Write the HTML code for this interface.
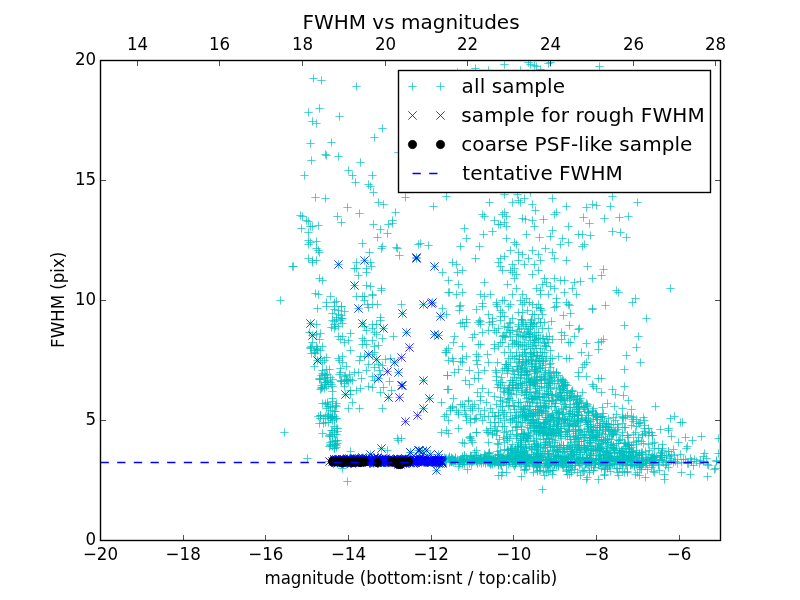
<!DOCTYPE html>
<html><head><meta charset="utf-8"><style>
html,body{margin:0;padding:0;background:#fff;}
svg{display:block;}
text{font-family:"DejaVu Sans","Liberation Sans",sans-serif;}
</style></head><body>
<svg width="800" height="600" viewBox="0 0 800 600">
<defs><clipPath id="ax"><rect x="100" y="60" width="620" height="480"/></clipPath></defs>
<rect width="800" height="600" fill="#fff"/>
<g clip-path="url(#ax)">
<path d="M309.33 78.5h8.34M313.5 74.33v8.34M317.33 80.5h8.34M321.5 76.33v8.34M352.33 86.5h8.34M356.5 82.33v8.34M304.33 112.5h8.34M308.5 108.33v8.34M315.33 108.5h8.34M319.5 104.33v8.34M335.33 116.5h8.34M339.5 112.33v8.34M308.33 121.5h8.34M312.5 117.33v8.34M312.33 123.5h8.34M316.5 119.33v8.34M378.33 128.5h8.34M382.5 124.33v8.34M370.33 137.5h8.34M374.5 133.33v8.34M306.33 143.5h8.34M310.5 139.33v8.34M327.33 142.5h8.34M331.5 138.33v8.34M321.33 154.5h8.34M325.5 150.33v8.34M322.33 155.5h8.34M326.5 151.33v8.34M334.33 156.5h8.34M338.5 152.33v8.34M307.33 160.5h8.34M311.5 156.33v8.34M356.33 162.5h8.34M360.5 158.33v8.34M300.33 175.5h8.34M304.5 171.33v8.34M344.33 170.5h8.34M348.5 166.33v8.34M348.33 175.5h8.34M352.5 171.33v8.34M368.33 175.5h8.34M372.5 171.33v8.34M394.33 152.5h8.34M398.5 148.33v8.34M442.33 196.5h8.34M446.5 192.33v8.34M429.33 206.5h8.34M433.5 202.33v8.34M276.33 300.5h8.34M280.5 296.33v8.34M288.33 266.5h8.34M292.5 262.33v8.34M280.33 432.5h8.34M284.5 428.33v8.34M351.33 182.5h8.34M355.5 178.33v8.34M364.33 184.5h8.34M368.5 180.33v8.34M366.33 186.5h8.34M370.5 182.33v8.34M369.33 192.5h8.34M373.5 188.33v8.34M311.33 197.5h8.34M315.5 193.33v8.34M321.33 198.5h8.34M325.5 194.33v8.34M401.33 197.5h8.34M405.5 193.33v8.34M374.33 202.5h8.34M378.5 198.33v8.34M379.33 204.5h8.34M383.5 200.33v8.34M343.33 207.5h8.34M347.5 203.33v8.34M355.33 213.5h8.34M359.5 209.33v8.34M391.33 212.5h8.34M395.5 208.33v8.34M296.33 215.5h8.34M300.5 211.33v8.34M298.33 216.5h8.34M302.5 212.33v8.34M333.33 216.5h8.34M337.5 212.33v8.34M337.33 222.5h8.34M341.5 218.33v8.34M302.33 220.5h8.34M306.5 216.33v8.34M304.33 221.5h8.34M308.5 217.33v8.34M308.33 226.5h8.34M312.5 222.33v8.34M314.33 225.5h8.34M318.5 221.33v8.34M306.33 226.5h8.34M310.5 222.33v8.34M297.33 228.5h8.34M301.5 224.33v8.34M369.33 224.5h8.34M373.5 220.33v8.34M388.33 220.5h8.34M392.5 216.33v8.34M388.33 223.5h8.34M392.5 219.33v8.34M384.33 224.5h8.34M388.5 220.33v8.34M376.33 229.5h8.34M380.5 225.33v8.34M383.33 233.5h8.34M387.5 229.33v8.34M304.33 232.5h8.34M308.5 228.33v8.34M373.33 237.5h8.34M377.5 233.33v8.34M304.33 240.5h8.34M308.5 236.33v8.34M306.33 242.5h8.34M310.5 238.33v8.34M304.33 244.5h8.34M308.5 240.33v8.34M312.33 241.5h8.34M316.5 237.33v8.34M358.33 243.5h8.34M362.5 239.33v8.34M312.33 248.5h8.34M316.5 244.33v8.34M314.33 250.5h8.34M318.5 246.33v8.34M315.33 252.5h8.34M319.5 248.33v8.34M377.33 248.5h8.34M381.5 244.33v8.34M378.33 246.5h8.34M382.5 242.33v8.34M392.33 247.5h8.34M396.5 243.33v8.34M393.33 248.5h8.34M397.5 244.33v8.34M414.33 244.5h8.34M418.5 240.33v8.34M365.33 252.5h8.34M369.5 248.33v8.34M395.33 255.5h8.34M399.5 251.33v8.34M304.33 258.5h8.34M308.5 254.33v8.34M308.33 260.5h8.34M312.5 256.33v8.34M308.33 262.5h8.34M312.5 258.33v8.34M312.33 260.5h8.34M316.5 256.33v8.34M289.33 266.5h8.34M293.5 262.33v8.34M366.33 262.5h8.34M370.5 258.33v8.34M367.33 266.5h8.34M371.5 262.33v8.34M352.33 262.5h8.34M356.5 258.33v8.34M350.33 268.5h8.34M354.5 264.33v8.34M352.33 268.5h8.34M356.5 264.33v8.34M354.33 275.5h8.34M358.5 271.33v8.34M362.33 268.5h8.34M366.5 264.33v8.34M362.33 272.5h8.34M366.5 268.33v8.34M315.33 278.5h8.34M319.5 274.33v8.34M318.33 280.5h8.34M322.5 276.33v8.34M362.33 285.5h8.34M366.5 281.33v8.34M366.33 286.5h8.34M370.5 282.33v8.34M377.33 288.5h8.34M381.5 284.33v8.34M311.33 293.5h8.34M315.5 289.33v8.34M314.33 294.5h8.34M318.5 290.33v8.34M326.33 296.5h8.34M330.5 292.33v8.34M352.33 296.5h8.34M356.5 292.33v8.34M358.33 296.5h8.34M362.5 292.33v8.34M360.33 296.5h8.34M364.5 292.33v8.34M368.33 294.5h8.34M372.5 290.33v8.34M334.33 264.5h8.34M338.5 260.33v8.34M360.33 260.5h8.34M364.5 256.33v8.34M412.33 257.5h8.34M416.5 253.33v8.34M350.33 285.5h8.34M354.5 281.33v8.34M313.33 308.5h8.34M317.5 304.33v8.34M322.33 302.5h8.34M326.5 298.33v8.34M322.33 306.5h8.34M326.5 302.33v8.34M330.33 302.5h8.34M334.5 298.33v8.34M330.33 306.5h8.34M334.5 302.33v8.34M332.33 301.5h8.34M336.5 297.33v8.34M328.33 313.5h8.34M332.5 309.33v8.34M334.33 310.5h8.34M338.5 306.33v8.34M340.33 311.5h8.34M344.5 307.33v8.34M334.33 314.5h8.34M338.5 310.33v8.34M330.33 321.5h8.34M334.5 317.33v8.34M330.33 324.5h8.34M334.5 320.33v8.34M336.33 320.5h8.34M340.5 316.33v8.34M338.33 323.5h8.34M342.5 319.33v8.34M334.33 326.5h8.34M338.5 322.33v8.34M330.33 328.5h8.34M334.5 324.33v8.34M332.33 319.5h8.34M336.5 315.33v8.34M312.33 324.5h8.34M316.5 320.33v8.34M305.33 332.5h8.34M309.5 328.33v8.34M312.33 334.5h8.34M316.5 330.33v8.34M346.33 333.5h8.34M350.5 329.33v8.34M334.33 336.5h8.34M338.5 332.33v8.34M338.33 336.5h8.34M342.5 332.33v8.34M336.33 339.5h8.34M340.5 335.33v8.34M340.33 342.5h8.34M344.5 338.33v8.34M344.33 340.5h8.34M348.5 336.33v8.34M346.33 350.5h8.34M350.5 346.33v8.34M315.33 339.5h8.34M319.5 335.33v8.34M318.33 346.5h8.34M322.5 342.33v8.34M308.33 342.5h8.34M312.5 338.33v8.34M312.33 346.5h8.34M316.5 342.33v8.34M316.33 350.5h8.34M320.5 346.33v8.34M312.33 349.5h8.34M316.5 345.33v8.34M310.33 352.5h8.34M314.5 348.33v8.34M334.33 358.5h8.34M338.5 354.33v8.34M338.33 356.5h8.34M342.5 352.33v8.34M322.33 357.5h8.34M326.5 353.33v8.34M316.33 358.5h8.34M320.5 354.33v8.34M358.33 338.5h8.34M362.5 334.33v8.34M360.33 340.5h8.34M364.5 336.33v8.34M358.33 344.5h8.34M362.5 340.33v8.34M362.33 344.5h8.34M366.5 340.33v8.34M362.33 330.5h8.34M366.5 326.33v8.34M360.33 326.5h8.34M364.5 322.33v8.34M356.33 356.5h8.34M360.5 352.33v8.34M360.33 356.5h8.34M364.5 352.33v8.34M360.33 300.5h8.34M364.5 296.33v8.34M363.33 304.5h8.34M367.5 300.33v8.34M364.33 307.5h8.34M368.5 303.33v8.34M354.33 308.5h8.34M358.5 304.33v8.34M306.33 323.5h8.34M310.5 319.33v8.34M308.33 335.5h8.34M312.5 331.33v8.34M358.33 323.5h8.34M362.5 319.33v8.34M313.33 360.5h8.34M317.5 356.33v8.34M364.33 354.5h8.34M368.5 350.33v8.34M377.33 290.5h8.34M381.5 286.33v8.34M368.33 295.5h8.34M372.5 291.33v8.34M373.33 304.5h8.34M377.5 300.33v8.34M368.33 304.5h8.34M372.5 300.33v8.34M397.33 304.5h8.34M401.5 300.33v8.34M438.33 308.5h8.34M442.5 304.33v8.34M442.33 314.5h8.34M446.5 310.33v8.34M444.33 292.5h8.34M448.5 288.33v8.34M376.33 317.5h8.34M380.5 313.33v8.34M376.33 320.5h8.34M380.5 316.33v8.34M389.33 336.5h8.34M393.5 332.33v8.34M368.33 324.5h8.34M372.5 320.33v8.34M372.33 324.5h8.34M376.5 320.33v8.34M368.33 328.5h8.34M372.5 324.33v8.34M370.33 332.5h8.34M374.5 328.33v8.34M372.33 334.5h8.34M376.5 330.33v8.34M378.33 338.5h8.34M382.5 334.33v8.34M368.33 340.5h8.34M372.5 336.33v8.34M374.33 345.5h8.34M378.5 341.33v8.34M370.33 346.5h8.34M374.5 342.33v8.34M444.33 348.5h8.34M448.5 344.33v8.34M398.33 313.5h8.34M402.5 309.33v8.34M419.33 304.5h8.34M423.5 300.33v8.34M427.33 303.5h8.34M431.5 299.33v8.34M428.33 302.5h8.34M432.5 298.33v8.34M436.33 316.5h8.34M440.5 312.33v8.34M379.33 328.5h8.34M383.5 324.33v8.34M402.33 332.5h8.34M406.5 328.33v8.34M430.33 334.5h8.34M434.5 330.33v8.34M434.33 335.5h8.34M438.5 331.33v8.34M405.33 347.5h8.34M409.5 343.33v8.34M310.33 366.5h8.34M314.5 362.33v8.34M318.33 362.5h8.34M322.5 358.33v8.34M320.33 360.5h8.34M324.5 356.33v8.34M322.33 369.5h8.34M326.5 365.33v8.34M325.33 369.5h8.34M329.5 365.33v8.34M318.33 370.5h8.34M322.5 366.33v8.34M317.33 375.5h8.34M321.5 371.33v8.34M320.33 374.5h8.34M324.5 370.33v8.34M320.33 378.5h8.34M324.5 374.33v8.34M316.33 379.5h8.34M320.5 375.33v8.34M323.33 380.5h8.34M327.5 376.33v8.34M321.33 382.5h8.34M325.5 378.33v8.34M324.33 384.5h8.34M328.5 380.33v8.34M320.33 384.5h8.34M324.5 380.33v8.34M322.33 386.5h8.34M326.5 382.33v8.34M317.33 388.5h8.34M321.5 384.33v8.34M320.33 388.5h8.34M324.5 384.33v8.34M328.33 391.5h8.34M332.5 387.33v8.34M328.33 398.5h8.34M332.5 394.33v8.34M318.33 403.5h8.34M322.5 399.33v8.34M323.33 402.5h8.34M327.5 398.33v8.34M324.33 406.5h8.34M328.5 402.33v8.34M326.33 406.5h8.34M330.5 402.33v8.34M322.33 408.5h8.34M326.5 404.33v8.34M326.33 410.5h8.34M330.5 406.33v8.34M324.33 414.5h8.34M328.5 410.33v8.34M328.33 416.5h8.34M332.5 412.33v8.34M330.33 416.5h8.34M334.5 412.33v8.34M332.33 418.5h8.34M336.5 414.33v8.34M326.33 418.5h8.34M330.5 414.33v8.34M335.33 360.5h8.34M339.5 356.33v8.34M338.33 362.5h8.34M342.5 358.33v8.34M342.33 366.5h8.34M346.5 362.33v8.34M336.33 368.5h8.34M340.5 364.33v8.34M336.33 372.5h8.34M340.5 368.33v8.34M340.33 376.5h8.34M344.5 372.33v8.34M336.33 380.5h8.34M340.5 376.33v8.34M342.33 379.5h8.34M346.5 375.33v8.34M344.33 381.5h8.34M348.5 377.33v8.34M346.33 379.5h8.34M350.5 375.33v8.34M340.33 383.5h8.34M344.5 379.33v8.34M340.33 386.5h8.34M344.5 382.33v8.34M348.33 380.5h8.34M352.5 376.33v8.34M350.33 372.5h8.34M354.5 368.33v8.34M354.33 372.5h8.34M358.5 368.33v8.34M357.33 378.5h8.34M361.5 374.33v8.34M356.33 388.5h8.34M360.5 384.33v8.34M352.33 390.5h8.34M356.5 386.33v8.34M346.33 394.5h8.34M350.5 390.33v8.34M348.33 402.5h8.34M352.5 398.33v8.34M344.33 408.5h8.34M348.5 404.33v8.34M355.33 408.5h8.34M359.5 404.33v8.34M362.33 370.5h8.34M366.5 366.33v8.34M364.33 364.5h8.34M368.5 360.33v8.34M364.33 386.5h8.34M368.5 382.33v8.34M355.33 360.5h8.34M359.5 356.33v8.34M341.33 394.5h8.34M345.5 390.33v8.34M372.33 359.5h8.34M376.5 355.33v8.34M390.33 362.5h8.34M394.5 358.33v8.34M397.33 357.5h8.34M401.5 353.33v8.34M383.33 371.5h8.34M387.5 367.33v8.34M394.33 372.5h8.34M398.5 368.33v8.34M374.33 378.5h8.34M378.5 374.33v8.34M397.33 385.5h8.34M401.5 381.33v8.34M398.33 385.5h8.34M402.5 381.33v8.34M419.33 380.5h8.34M423.5 376.33v8.34M384.33 397.5h8.34M388.5 393.33v8.34M395.33 397.5h8.34M399.5 393.33v8.34M425.33 398.5h8.34M429.5 394.33v8.34M419.33 408.5h8.34M423.5 404.33v8.34M381.33 359.5h8.34M385.5 355.33v8.34M386.33 358.5h8.34M390.5 354.33v8.34M378.33 365.5h8.34M382.5 361.33v8.34M374.33 364.5h8.34M378.5 360.33v8.34M370.33 367.5h8.34M374.5 363.33v8.34M375.33 370.5h8.34M379.5 366.33v8.34M376.33 374.5h8.34M380.5 370.33v8.34M368.33 376.5h8.34M372.5 372.33v8.34M370.33 380.5h8.34M374.5 376.33v8.34M385.33 381.5h8.34M389.5 377.33v8.34M379.33 387.5h8.34M383.5 383.33v8.34M368.33 387.5h8.34M372.5 383.33v8.34M387.33 390.5h8.34M391.5 386.33v8.34M376.33 392.5h8.34M380.5 388.33v8.34M378.33 408.5h8.34M382.5 404.33v8.34M437.33 402.5h8.34M441.5 398.33v8.34M443.33 375.5h8.34M447.5 371.33v8.34M443.33 389.5h8.34M447.5 385.33v8.34M442.33 352.5h8.34M446.5 348.33v8.34M444.33 360.5h8.34M448.5 356.33v8.34M370.33 352.5h8.34M374.5 348.33v8.34M368.33 354.5h8.34M372.5 350.33v8.34M500.33 194.5h8.34M504.5 190.33v8.34M513.33 194.5h8.34M517.5 190.33v8.34M520.33 198.5h8.34M524.5 194.33v8.34M526.33 192.5h8.34M530.5 188.33v8.34M514.33 200.5h8.34M518.5 196.33v8.34M516.33 202.5h8.34M520.5 198.33v8.34M508.33 202.5h8.34M512.5 198.33v8.34M485.33 202.5h8.34M489.5 198.33v8.34M548.33 198.5h8.34M552.5 194.33v8.34M528.33 204.5h8.34M532.5 200.33v8.34M531.33 210.5h8.34M535.5 206.33v8.34M562.33 206.5h8.34M566.5 202.33v8.34M478.33 214.5h8.34M482.5 210.33v8.34M480.33 216.5h8.34M484.5 212.33v8.34M500.33 212.5h8.34M504.5 208.33v8.34M502.33 216.5h8.34M506.5 212.33v8.34M498.33 214.5h8.34M502.5 210.33v8.34M518.33 218.5h8.34M522.5 214.33v8.34M521.33 219.5h8.34M525.5 215.33v8.34M539.33 219.5h8.34M543.5 215.33v8.34M550.33 214.5h8.34M554.5 210.33v8.34M552.33 212.5h8.34M556.5 208.33v8.34M490.33 220.5h8.34M494.5 216.33v8.34M494.33 224.5h8.34M498.5 220.33v8.34M500.33 222.5h8.34M504.5 218.33v8.34M502.33 226.5h8.34M506.5 222.33v8.34M496.33 224.5h8.34M500.5 220.33v8.34M528.33 220.5h8.34M532.5 216.33v8.34M530.33 226.5h8.34M534.5 222.33v8.34M564.33 226.5h8.34M568.5 222.33v8.34M460.33 228.5h8.34M464.5 224.33v8.34M479.33 234.5h8.34M483.5 230.33v8.34M488.33 231.5h8.34M492.5 227.33v8.34M522.33 234.5h8.34M526.5 230.33v8.34M548.33 230.5h8.34M552.5 226.33v8.34M546.33 236.5h8.34M550.5 232.33v8.34M502.33 238.5h8.34M506.5 234.33v8.34M535.33 237.5h8.34M539.5 233.33v8.34M462.33 238.5h8.34M466.5 234.33v8.34M510.33 242.5h8.34M514.5 238.33v8.34M512.33 244.5h8.34M516.5 240.33v8.34M558.33 238.5h8.34M562.5 234.33v8.34M564.33 242.5h8.34M568.5 238.33v8.34M556.33 244.5h8.34M560.5 240.33v8.34M574.33 234.5h8.34M578.5 230.33v8.34M424.33 245.5h8.34M428.5 241.33v8.34M416.33 243.5h8.34M420.5 239.33v8.34M456.33 246.5h8.34M460.5 242.33v8.34M475.33 246.5h8.34M479.5 242.33v8.34M506.33 250.5h8.34M510.5 246.33v8.34M541.33 248.5h8.34M545.5 244.33v8.34M528.33 250.5h8.34M532.5 246.33v8.34M514.33 252.5h8.34M518.5 248.33v8.34M518.33 254.5h8.34M522.5 250.33v8.34M524.33 258.5h8.34M528.5 254.33v8.34M534.33 254.5h8.34M538.5 250.33v8.34M548.33 252.5h8.34M552.5 248.33v8.34M500.33 256.5h8.34M504.5 252.33v8.34M496.33 258.5h8.34M500.5 254.33v8.34M494.33 262.5h8.34M498.5 258.33v8.34M496.33 266.5h8.34M500.5 262.33v8.34M471.33 258.5h8.34M475.5 254.33v8.34M514.33 260.5h8.34M518.5 256.33v8.34M520.33 264.5h8.34M524.5 260.33v8.34M530.33 264.5h8.34M534.5 260.33v8.34M536.33 260.5h8.34M540.5 256.33v8.34M550.33 258.5h8.34M554.5 254.33v8.34M562.33 260.5h8.34M566.5 256.33v8.34M448.33 262.5h8.34M452.5 258.33v8.34M452.33 264.5h8.34M456.5 260.33v8.34M508.33 264.5h8.34M512.5 260.33v8.34M510.33 268.5h8.34M514.5 264.33v8.34M506.33 270.5h8.34M510.5 266.33v8.34M508.33 272.5h8.34M512.5 268.33v8.34M512.33 274.5h8.34M516.5 270.33v8.34M510.33 278.5h8.34M514.5 274.33v8.34M438.33 272.5h8.34M442.5 268.33v8.34M453.33 272.5h8.34M457.5 268.33v8.34M458.33 270.5h8.34M462.5 266.33v8.34M498.33 270.5h8.34M502.5 266.33v8.34M534.33 270.5h8.34M538.5 266.33v8.34M528.33 274.5h8.34M532.5 270.33v8.34M444.33 280.5h8.34M448.5 276.33v8.34M454.33 284.5h8.34M458.5 280.33v8.34M480.33 282.5h8.34M484.5 278.33v8.34M503.33 284.5h8.34M507.5 280.33v8.34M540.33 278.5h8.34M544.5 274.33v8.34M542.33 282.5h8.34M546.5 278.33v8.34M538.33 284.5h8.34M542.5 280.33v8.34M550.33 278.5h8.34M554.5 274.33v8.34M556.33 280.5h8.34M560.5 276.33v8.34M560.33 280.5h8.34M564.5 276.33v8.34M512.33 288.5h8.34M516.5 284.33v8.34M532.33 288.5h8.34M536.5 284.33v8.34M536.33 290.5h8.34M540.5 286.33v8.34M546.33 286.5h8.34M550.5 282.33v8.34M550.33 288.5h8.34M554.5 284.33v8.34M570.33 282.5h8.34M574.5 278.33v8.34M568.33 288.5h8.34M572.5 284.33v8.34M445.33 292.5h8.34M449.5 288.33v8.34M452.33 294.5h8.34M456.5 290.33v8.34M458.33 292.5h8.34M462.5 288.33v8.34M476.33 294.5h8.34M480.5 290.33v8.34M480.33 296.5h8.34M484.5 292.33v8.34M486.33 294.5h8.34M490.5 290.33v8.34M508.33 294.5h8.34M512.5 290.33v8.34M518.33 294.5h8.34M522.5 290.33v8.34M522.33 298.5h8.34M526.5 294.33v8.34M516.33 300.5h8.34M520.5 296.33v8.34M520.33 302.5h8.34M524.5 298.33v8.34M536.33 294.5h8.34M540.5 290.33v8.34M544.33 294.5h8.34M548.5 290.33v8.34M552.33 298.5h8.34M556.5 294.33v8.34M560.33 292.5h8.34M564.5 288.33v8.34M572.33 294.5h8.34M576.5 290.33v8.34M456.33 305.5h8.34M460.5 301.33v8.34M478.33 306.5h8.34M482.5 302.33v8.34M492.33 304.5h8.34M496.5 300.33v8.34M500.33 300.5h8.34M504.5 296.33v8.34M504.33 306.5h8.34M508.5 302.33v8.34M528.33 304.5h8.34M532.5 300.33v8.34M536.33 308.5h8.34M540.5 304.33v8.34M552.33 306.5h8.34M556.5 302.33v8.34M564.33 304.5h8.34M568.5 300.33v8.34M430.33 266.5h8.34M434.5 262.33v8.34M608.33 196.5h8.34M612.5 192.33v8.34M633.33 202.5h8.34M637.5 198.33v8.34M582.33 207.5h8.34M586.5 203.33v8.34M588.33 204.5h8.34M592.5 200.33v8.34M592.33 205.5h8.34M596.5 201.33v8.34M606.33 206.5h8.34M610.5 202.33v8.34M579.33 217.5h8.34M583.5 213.33v8.34M585.33 223.5h8.34M589.5 219.33v8.34M600.33 218.5h8.34M604.5 214.33v8.34M615.33 217.5h8.34M619.5 213.33v8.34M624.33 216.5h8.34M628.5 212.33v8.34M578.33 234.5h8.34M582.5 230.33v8.34M586.33 235.5h8.34M590.5 231.33v8.34M608.33 231.5h8.34M612.5 227.33v8.34M616.33 232.5h8.34M620.5 228.33v8.34M622.33 237.5h8.34M626.5 233.33v8.34M580.33 244.5h8.34M584.5 240.33v8.34M578.33 246.5h8.34M582.5 242.33v8.34M583.33 266.5h8.34M587.5 262.33v8.34M599.33 269.5h8.34M603.5 265.33v8.34M597.33 275.5h8.34M601.5 271.33v8.34M588.33 278.5h8.34M592.5 274.33v8.34M576.33 281.5h8.34M580.5 277.33v8.34M666.33 288.5h8.34M670.5 284.33v8.34M612.33 290.5h8.34M616.5 286.33v8.34M614.33 292.5h8.34M618.5 288.33v8.34M628.33 302.5h8.34M632.5 298.33v8.34M631.33 298.5h8.34M635.5 294.33v8.34M601.33 305.5h8.34M605.5 301.33v8.34M588.33 308.5h8.34M592.5 304.33v8.34M471.33 68.5h8.34M475.5 64.33v8.34M453.33 72.5h8.34M457.5 68.33v8.34M484.33 70.5h8.34M488.5 66.33v8.34M500.33 64.5h8.34M504.5 60.33v8.34M516.33 70.5h8.34M520.5 66.33v8.34M524.33 62.5h8.34M528.5 58.33v8.34M526.33 64.5h8.34M530.5 60.33v8.34M530.33 65.5h8.34M534.5 61.33v8.34M532.33 66.5h8.34M536.5 62.33v8.34M536.33 69.5h8.34M540.5 65.33v8.34M544.33 63.5h8.34M548.5 59.33v8.34M546.33 62.5h8.34M550.5 58.33v8.34M595.33 66.5h8.34M599.5 62.33v8.34M326.33 418.5h8.34M330.5 414.33v8.34M330.33 419.5h8.34M334.5 415.33v8.34M324.33 422.5h8.34M328.5 418.33v8.34M328.33 420.5h8.34M332.5 416.33v8.34M332.33 418.5h8.34M336.5 414.33v8.34M323.33 416.5h8.34M327.5 412.33v8.34M328.33 416.5h8.34M332.5 412.33v8.34M330.33 426.5h8.34M334.5 422.33v8.34M328.33 430.5h8.34M332.5 426.33v8.34M330.33 432.5h8.34M334.5 428.33v8.34M326.33 434.5h8.34M330.5 430.33v8.34M332.33 434.5h8.34M336.5 430.33v8.34M328.33 436.5h8.34M332.5 432.33v8.34M318.33 433.5h8.34M322.5 429.33v8.34M326.33 444.5h8.34M330.5 440.33v8.34M330.33 444.5h8.34M334.5 440.33v8.34M332.33 445.5h8.34M336.5 441.33v8.34M328.33 446.5h8.34M332.5 442.33v8.34M330.33 448.5h8.34M334.5 444.33v8.34M326.33 442.5h8.34M330.5 438.33v8.34M328.33 441.5h8.34M332.5 437.33v8.34M346.33 451.5h8.34M350.5 447.33v8.34M303.33 458.5h8.34M307.5 454.33v8.34M338.33 468.5h8.34M342.5 464.33v8.34M393.33 438.5h8.34M397.5 434.33v8.34M394.33 440.5h8.34M398.5 436.33v8.34M383.33 450.5h8.34M387.5 446.33v8.34M343.33 481.5h8.34M347.5 477.33v8.34M437.33 432.5h8.34M441.5 428.33v8.34M444.33 433.5h8.34M448.5 429.33v8.34M442.33 430.5h8.34M446.5 426.33v8.34M458.33 442.5h8.34M462.5 438.33v8.34M460.33 443.5h8.34M464.5 439.33v8.34M465.33 437.5h8.34M469.5 433.33v8.34M467.33 440.5h8.34M471.5 436.33v8.34M472.33 432.5h8.34M476.5 428.33v8.34M484.33 442.5h8.34M488.5 438.33v8.34M483.33 432.5h8.34M487.5 428.33v8.34M488.33 433.5h8.34M492.5 429.33v8.34M493.33 443.5h8.34M497.5 439.33v8.34M463.33 469.5h8.34M467.5 465.33v8.34M494.33 475.5h8.34M498.5 471.33v8.34M397.33 438.5h8.34M401.5 434.33v8.34M366.33 454.5h8.34M370.5 450.33v8.34M377.33 448.5h8.34M381.5 444.33v8.34M406.33 452.5h8.34M410.5 448.33v8.34M414.33 450.5h8.34M418.5 446.33v8.34M432.33 470.5h8.34M436.5 466.33v8.34M418.33 451.5h8.34M422.5 447.33v8.34M422.33 450.5h8.34M426.5 446.33v8.34M406.33 452.5h8.34M410.5 448.33v8.34M415.33 450.5h8.34M419.5 446.33v8.34M413.33 415.5h8.34M417.5 411.33v8.34M401.33 421.5h8.34M405.5 417.33v8.34M442.33 414.5h8.34M446.5 410.33v8.34M440.33 416.5h8.34M444.5 412.33v8.34M444.33 420.5h8.34M448.5 416.33v8.34M448.33 407.5h8.34M452.5 403.33v8.34M446.33 410.5h8.34M450.5 406.33v8.34M452.33 410.5h8.34M456.5 406.33v8.34M454.33 414.5h8.34M458.5 410.33v8.34M456.33 404.5h8.34M460.5 400.33v8.34M460.33 406.5h8.34M464.5 402.33v8.34M460.33 410.5h8.34M464.5 406.33v8.34M464.33 401.5h8.34M468.5 397.33v8.34M466.33 408.5h8.34M470.5 404.33v8.34M470.33 404.5h8.34M474.5 400.33v8.34M468.33 410.5h8.34M472.5 406.33v8.34M474.33 408.5h8.34M478.5 404.33v8.34M462.33 420.5h8.34M466.5 416.33v8.34M466.33 422.5h8.34M470.5 418.33v8.34M472.33 418.5h8.34M476.5 414.33v8.34M462.33 416.5h8.34M466.5 412.33v8.34M454.33 428.5h8.34M458.5 424.33v8.34M472.33 432.5h8.34M476.5 428.33v8.34M466.33 436.5h8.34M470.5 432.33v8.34M466.33 438.5h8.34M470.5 434.33v8.34M468.33 442.5h8.34M472.5 438.33v8.34M472.33 450.5h8.34M476.5 446.33v8.34M470.33 452.5h8.34M474.5 448.33v8.34M365.33 461.5h8.34M369.5 457.33v8.34M337.33 462.5h8.34M341.5 458.33v8.34M388.33 460.5h8.34M392.5 456.33v8.34M385.33 461.5h8.34M389.5 457.33v8.34M334.33 460.5h8.34M338.5 456.33v8.34M339.33 461.5h8.34M343.5 457.33v8.34M376.33 461.5h8.34M380.5 457.33v8.34M354.33 460.5h8.34M358.5 456.33v8.34M398.33 462.5h8.34M402.5 458.33v8.34M373.33 460.5h8.34M377.5 456.33v8.34M436.33 463.5h8.34M440.5 459.33v8.34M361.33 461.5h8.34M365.5 457.33v8.34M345.33 461.5h8.34M349.5 457.33v8.34M418.33 461.5h8.34M422.5 457.33v8.34M349.33 459.5h8.34M353.5 455.33v8.34M370.33 460.5h8.34M374.5 456.33v8.34M389.33 461.5h8.34M393.5 457.33v8.34M352.33 461.5h8.34M356.5 457.33v8.34M404.33 460.5h8.34M408.5 456.33v8.34M393.33 461.5h8.34M397.5 457.33v8.34M379.33 460.5h8.34M383.5 456.33v8.34M406.33 462.5h8.34M410.5 458.33v8.34M356.33 459.5h8.34M360.5 455.33v8.34M425.33 460.5h8.34M429.5 456.33v8.34M409.33 460.5h8.34M413.5 456.33v8.34M342.33 463.5h8.34M346.5 459.33v8.34M375.33 461.5h8.34M379.5 457.33v8.34M383.33 460.5h8.34M387.5 456.33v8.34M334.33 460.5h8.34M338.5 456.33v8.34M392.33 459.5h8.34M396.5 455.33v8.34M425.33 460.5h8.34M429.5 456.33v8.34M394.33 462.5h8.34M398.5 458.33v8.34M393.33 458.5h8.34M397.5 454.33v8.34M432.33 461.5h8.34M436.5 457.33v8.34M381.33 460.5h8.34M385.5 456.33v8.34M406.33 460.5h8.34M410.5 456.33v8.34M400.33 463.5h8.34M404.5 459.33v8.34M361.33 460.5h8.34M365.5 456.33v8.34M372.33 460.5h8.34M376.5 456.33v8.34M380.33 460.5h8.34M384.5 456.33v8.34M348.33 461.5h8.34M352.5 457.33v8.34M413.33 461.5h8.34M417.5 457.33v8.34M344.33 461.5h8.34M348.5 457.33v8.34M424.33 462.5h8.34M428.5 458.33v8.34M338.33 459.5h8.34M342.5 455.33v8.34M426.33 461.5h8.34M430.5 457.33v8.34M419.33 461.5h8.34M423.5 457.33v8.34M375.33 460.5h8.34M379.5 456.33v8.34M369.33 463.5h8.34M373.5 459.33v8.34M346.33 459.5h8.34M350.5 455.33v8.34M349.33 461.5h8.34M353.5 457.33v8.34M382.33 461.5h8.34M386.5 457.33v8.34M394.33 460.5h8.34M398.5 456.33v8.34M375.33 461.5h8.34M379.5 457.33v8.34M370.33 458.5h8.34M374.5 454.33v8.34M405.33 459.5h8.34M409.5 455.33v8.34M386.33 459.5h8.34M390.5 455.33v8.34M335.33 459.5h8.34M339.5 455.33v8.34M428.33 461.5h8.34M432.5 457.33v8.34M416.33 458.5h8.34M420.5 454.33v8.34M372.33 460.5h8.34M376.5 456.33v8.34M399.33 461.5h8.34M403.5 457.33v8.34M336.33 461.5h8.34M340.5 457.33v8.34M347.33 461.5h8.34M351.5 457.33v8.34M367.33 461.5h8.34M371.5 457.33v8.34M346.33 461.5h8.34M350.5 457.33v8.34M341.33 460.5h8.34M345.5 456.33v8.34M425.33 461.5h8.34M429.5 457.33v8.34M396.33 461.5h8.34M400.5 457.33v8.34M367.33 461.5h8.34M371.5 457.33v8.34M369.33 462.5h8.34M373.5 458.33v8.34M438.33 462.5h8.34M442.5 458.33v8.34M380.33 460.5h8.34M384.5 456.33v8.34M341.33 461.5h8.34M345.5 457.33v8.34M367.33 460.5h8.34M371.5 456.33v8.34M347.33 463.5h8.34M351.5 459.33v8.34M332.33 462.5h8.34M336.5 458.33v8.34M345.33 460.5h8.34M349.5 456.33v8.34M389.33 462.5h8.34M393.5 458.33v8.34M436.33 461.5h8.34M440.5 457.33v8.34M424.33 460.5h8.34M428.5 456.33v8.34M369.33 460.5h8.34M373.5 456.33v8.34M348.33 461.5h8.34M352.5 457.33v8.34M414.33 459.5h8.34M418.5 455.33v8.34M365.33 461.5h8.34M369.5 457.33v8.34M437.33 462.5h8.34M441.5 458.33v8.34M422.33 461.5h8.34M426.5 457.33v8.34M410.33 459.5h8.34M414.5 455.33v8.34M354.33 459.5h8.34M358.5 455.33v8.34M333.33 460.5h8.34M337.5 456.33v8.34M333.33 460.5h8.34M337.5 456.33v8.34M405.33 461.5h8.34M409.5 457.33v8.34M434.33 458.5h8.34M438.5 454.33v8.34M437.33 461.5h8.34M441.5 457.33v8.34M434.33 460.5h8.34M438.5 456.33v8.34M354.33 461.5h8.34M358.5 457.33v8.34M351.33 461.5h8.34M355.5 457.33v8.34M428.33 462.5h8.34M432.5 458.33v8.34M421.33 459.5h8.34M425.5 455.33v8.34M417.33 461.5h8.34M421.5 457.33v8.34M339.33 459.5h8.34M343.5 455.33v8.34M415.33 458.5h8.34M419.5 454.33v8.34M411.33 460.5h8.34M415.5 456.33v8.34M416.33 461.5h8.34M420.5 457.33v8.34M366.33 461.5h8.34M370.5 457.33v8.34M373.33 458.5h8.34M377.5 454.33v8.34M373.33 462.5h8.34M377.5 458.33v8.34M348.33 460.5h8.34M352.5 456.33v8.34M343.33 462.5h8.34M347.5 458.33v8.34M417.33 462.5h8.34M421.5 458.33v8.34M345.33 462.5h8.34M349.5 458.33v8.34M401.33 458.5h8.34M405.5 454.33v8.34M368.33 460.5h8.34M372.5 456.33v8.34M331.33 460.5h8.34M335.5 456.33v8.34M435.33 460.5h8.34M439.5 456.33v8.34M431.33 459.5h8.34M435.5 455.33v8.34M377.33 462.5h8.34M381.5 458.33v8.34M353.33 459.5h8.34M357.5 455.33v8.34M357.33 460.5h8.34M361.5 456.33v8.34M393.33 461.5h8.34M397.5 457.33v8.34M358.33 460.5h8.34M362.5 456.33v8.34M429.33 461.5h8.34M433.5 457.33v8.34M368.33 459.5h8.34M372.5 455.33v8.34M428.33 461.5h8.34M432.5 457.33v8.34M375.33 462.5h8.34M379.5 458.33v8.34M387.33 460.5h8.34M391.5 456.33v8.34M387.33 462.5h8.34M391.5 458.33v8.34M349.33 461.5h8.34M353.5 457.33v8.34M330.33 461.5h8.34M334.5 457.33v8.34M381.33 460.5h8.34M385.5 456.33v8.34M409.33 460.5h8.34M413.5 456.33v8.34M386.33 460.5h8.34M390.5 456.33v8.34M390.33 461.5h8.34M394.5 457.33v8.34M391.33 460.5h8.34M395.5 456.33v8.34M357.33 460.5h8.34M361.5 456.33v8.34M385.33 462.5h8.34M389.5 458.33v8.34M391.33 461.5h8.34M395.5 457.33v8.34M378.33 458.5h8.34M382.5 454.33v8.34M396.33 459.5h8.34M400.5 455.33v8.34M405.33 460.5h8.34M409.5 456.33v8.34M379.33 459.5h8.34M383.5 455.33v8.34M432.33 460.5h8.34M436.5 456.33v8.34M406.33 462.5h8.34M410.5 458.33v8.34M358.33 459.5h8.34M362.5 455.33v8.34M390.33 462.5h8.34M394.5 458.33v8.34M344.33 460.5h8.34M348.5 456.33v8.34M343.33 460.5h8.34M347.5 456.33v8.34M356.33 461.5h8.34M360.5 457.33v8.34M337.33 460.5h8.34M341.5 456.33v8.34M427.33 459.5h8.34M431.5 455.33v8.34M346.33 460.5h8.34M350.5 456.33v8.34M345.33 459.5h8.34M349.5 455.33v8.34M426.33 461.5h8.34M430.5 457.33v8.34M433.33 460.5h8.34M437.5 456.33v8.34M373.33 457.5h8.34M377.5 453.33v8.34M420.33 461.5h8.34M424.5 457.33v8.34M347.33 459.5h8.34M351.5 455.33v8.34M366.33 461.5h8.34M370.5 457.33v8.34M351.33 460.5h8.34M355.5 456.33v8.34M332.33 462.5h8.34M336.5 458.33v8.34M390.33 460.5h8.34M394.5 456.33v8.34M366.33 461.5h8.34M370.5 457.33v8.34M398.33 460.5h8.34M402.5 456.33v8.34M437.33 460.5h8.34M441.5 456.33v8.34M415.33 461.5h8.34M419.5 457.33v8.34M358.33 460.5h8.34M362.5 456.33v8.34M334.33 461.5h8.34M338.5 457.33v8.34M344.33 460.5h8.34M348.5 456.33v8.34M376.33 462.5h8.34M380.5 458.33v8.34M358.33 459.5h8.34M362.5 455.33v8.34M346.33 462.5h8.34M350.5 458.33v8.34M406.33 460.5h8.34M410.5 456.33v8.34M339.33 462.5h8.34M343.5 458.33v8.34M376.33 461.5h8.34M380.5 457.33v8.34M337.33 462.5h8.34M341.5 458.33v8.34M417.33 460.5h8.34M421.5 456.33v8.34M339.33 461.5h8.34M343.5 457.33v8.34M424.33 460.5h8.34M428.5 456.33v8.34M379.33 460.5h8.34M383.5 456.33v8.34M431.33 462.5h8.34M435.5 458.33v8.34M359.33 461.5h8.34M363.5 457.33v8.34M355.33 461.5h8.34M359.5 457.33v8.34M341.33 461.5h8.34M345.5 457.33v8.34M351.33 461.5h8.34M355.5 457.33v8.34M364.33 460.5h8.34M368.5 456.33v8.34M361.33 462.5h8.34M365.5 458.33v8.34M384.33 461.5h8.34M388.5 457.33v8.34M331.33 461.5h8.34M335.5 457.33v8.34M357.33 462.5h8.34M361.5 458.33v8.34M390.33 461.5h8.34M394.5 457.33v8.34M350.33 458.5h8.34M354.5 454.33v8.34M341.33 461.5h8.34M345.5 457.33v8.34M419.33 459.5h8.34M423.5 455.33v8.34M420.33 461.5h8.34M424.5 457.33v8.34M372.33 459.5h8.34M376.5 455.33v8.34M437.33 460.5h8.34M441.5 456.33v8.34M367.33 461.5h8.34M371.5 457.33v8.34M399.33 459.5h8.34M403.5 455.33v8.34M374.33 460.5h8.34M378.5 456.33v8.34M344.33 461.5h8.34M348.5 457.33v8.34M337.33 460.5h8.34M341.5 456.33v8.34M347.33 460.5h8.34M351.5 456.33v8.34M339.33 462.5h8.34M343.5 458.33v8.34M403.33 459.5h8.34M407.5 455.33v8.34M360.33 461.5h8.34M364.5 457.33v8.34M380.33 461.5h8.34M384.5 457.33v8.34M347.33 460.5h8.34M351.5 456.33v8.34M434.33 461.5h8.34M438.5 457.33v8.34M436.33 460.5h8.34M440.5 456.33v8.34M435.33 460.5h8.34M439.5 456.33v8.34M363.33 460.5h8.34M367.5 456.33v8.34M371.33 461.5h8.34M375.5 457.33v8.34M381.33 460.5h8.34M385.5 456.33v8.34M385.33 460.5h8.34M389.5 456.33v8.34M330.33 460.5h8.34M334.5 456.33v8.34M373.33 461.5h8.34M377.5 457.33v8.34M334.33 461.5h8.34M338.5 457.33v8.34M355.33 461.5h8.34M359.5 457.33v8.34M393.33 459.5h8.34M397.5 455.33v8.34M401.33 460.5h8.34M405.5 456.33v8.34M408.33 461.5h8.34M412.5 457.33v8.34M365.33 460.5h8.34M369.5 456.33v8.34M437.33 462.5h8.34M441.5 458.33v8.34M400.33 462.5h8.34M404.5 458.33v8.34M334.33 462.5h8.34M338.5 458.33v8.34M398.33 459.5h8.34M402.5 455.33v8.34M409.33 461.5h8.34M413.5 457.33v8.34M387.33 460.5h8.34M391.5 456.33v8.34M384.33 462.5h8.34M388.5 458.33v8.34M420.33 459.5h8.34M424.5 455.33v8.34M393.33 462.5h8.34M397.5 458.33v8.34M405.33 459.5h8.34M409.5 455.33v8.34M355.33 461.5h8.34M359.5 457.33v8.34M369.33 461.5h8.34M373.5 457.33v8.34M341.33 461.5h8.34M345.5 457.33v8.34M398.33 459.5h8.34M402.5 455.33v8.34M398.33 460.5h8.34M402.5 456.33v8.34M330.33 459.5h8.34M334.5 455.33v8.34M416.33 460.5h8.34M420.5 456.33v8.34M388.33 459.5h8.34M392.5 455.33v8.34M401.33 462.5h8.34M405.5 458.33v8.34M357.33 461.5h8.34M361.5 457.33v8.34M338.33 460.5h8.34M342.5 456.33v8.34M352.33 462.5h8.34M356.5 458.33v8.34M410.33 462.5h8.34M414.5 458.33v8.34M371.33 460.5h8.34M375.5 456.33v8.34M382.33 460.5h8.34M386.5 456.33v8.34M397.33 459.5h8.34M401.5 455.33v8.34M400.33 461.5h8.34M404.5 457.33v8.34M357.33 461.5h8.34M361.5 457.33v8.34M411.33 460.5h8.34M415.5 456.33v8.34M331.33 462.5h8.34M335.5 458.33v8.34M336.33 460.5h8.34M340.5 456.33v8.34M405.33 462.5h8.34M409.5 458.33v8.34M403.33 460.5h8.34M407.5 456.33v8.34M380.33 462.5h8.34M384.5 458.33v8.34M380.33 462.5h8.34M384.5 458.33v8.34M351.33 462.5h8.34M355.5 458.33v8.34M436.33 461.5h8.34M440.5 457.33v8.34M380.33 460.5h8.34M384.5 456.33v8.34M419.33 462.5h8.34M423.5 458.33v8.34M359.33 460.5h8.34M363.5 456.33v8.34M352.33 461.5h8.34M356.5 457.33v8.34M393.33 460.5h8.34M397.5 456.33v8.34M345.33 458.5h8.34M349.5 454.33v8.34M344.33 460.5h8.34M348.5 456.33v8.34M419.33 458.5h8.34M423.5 454.33v8.34M406.33 460.5h8.34M410.5 456.33v8.34M355.33 462.5h8.34M359.5 458.33v8.34M332.33 460.5h8.34M336.5 456.33v8.34M330.33 459.5h8.34M334.5 455.33v8.34M362.33 461.5h8.34M366.5 457.33v8.34M345.33 460.5h8.34M349.5 456.33v8.34M421.33 461.5h8.34M425.5 457.33v8.34M330.33 461.5h8.34M334.5 457.33v8.34M343.33 458.5h8.34M347.5 454.33v8.34M430.33 460.5h8.34M434.5 456.33v8.34M361.33 458.5h8.34M365.5 454.33v8.34M370.33 457.5h8.34M374.5 453.33v8.34M394.33 463.5h8.34M398.5 459.33v8.34M369.33 460.5h8.34M373.5 456.33v8.34M335.33 461.5h8.34M339.5 457.33v8.34M341.33 461.5h8.34M345.5 457.33v8.34M431.33 460.5h8.34M435.5 456.33v8.34M357.33 460.5h8.34M361.5 456.33v8.34M350.33 462.5h8.34M354.5 458.33v8.34M370.33 463.5h8.34M374.5 459.33v8.34M418.33 460.5h8.34M422.5 456.33v8.34M398.33 463.5h8.34M402.5 459.33v8.34M389.33 459.5h8.34M393.5 455.33v8.34M408.33 462.5h8.34M412.5 458.33v8.34M379.33 461.5h8.34M383.5 457.33v8.34M412.33 460.5h8.34M416.5 456.33v8.34M335.33 460.5h8.34M339.5 456.33v8.34M431.33 461.5h8.34M435.5 457.33v8.34M367.33 461.5h8.34M371.5 457.33v8.34M362.33 460.5h8.34M366.5 456.33v8.34M358.33 457.5h8.34M362.5 453.33v8.34M401.33 460.5h8.34M405.5 456.33v8.34M372.33 462.5h8.34M376.5 458.33v8.34M348.33 461.5h8.34M352.5 457.33v8.34M428.33 461.5h8.34M432.5 457.33v8.34M384.33 461.5h8.34M388.5 457.33v8.34M438.33 463.5h8.34M442.5 459.33v8.34M379.33 461.5h8.34M383.5 457.33v8.34M339.33 461.5h8.34M343.5 457.33v8.34M367.33 461.5h8.34M371.5 457.33v8.34M358.33 461.5h8.34M362.5 457.33v8.34M392.33 462.5h8.34M396.5 458.33v8.34M374.33 459.5h8.34M378.5 455.33v8.34M375.33 459.5h8.34M379.5 455.33v8.34M366.33 460.5h8.34M370.5 456.33v8.34M336.33 460.5h8.34M340.5 456.33v8.34M343.33 463.5h8.34M347.5 459.33v8.34M384.33 459.5h8.34M388.5 455.33v8.34M353.33 459.5h8.34M357.5 455.33v8.34M359.33 461.5h8.34M363.5 457.33v8.34M378.33 462.5h8.34M382.5 458.33v8.34M433.33 462.5h8.34M437.5 458.33v8.34M332.33 459.5h8.34M336.5 455.33v8.34M333.33 460.5h8.34M337.5 456.33v8.34M381.33 458.5h8.34M385.5 454.33v8.34M394.33 462.5h8.34M398.5 458.33v8.34M431.33 461.5h8.34M435.5 457.33v8.34M419.33 462.5h8.34M423.5 458.33v8.34M357.33 458.5h8.34M361.5 454.33v8.34M341.33 461.5h8.34M345.5 457.33v8.34M404.33 462.5h8.34M408.5 458.33v8.34M432.33 460.5h8.34M436.5 456.33v8.34M413.33 459.5h8.34M417.5 455.33v8.34M379.33 460.5h8.34M383.5 456.33v8.34M415.33 460.5h8.34M419.5 456.33v8.34M355.33 462.5h8.34M359.5 458.33v8.34M363.33 460.5h8.34M367.5 456.33v8.34M343.33 460.5h8.34M347.5 456.33v8.34M406.33 462.5h8.34M410.5 458.33v8.34M342.33 462.5h8.34M346.5 458.33v8.34M393.33 461.5h8.34M397.5 457.33v8.34M372.33 461.5h8.34M376.5 457.33v8.34M331.33 462.5h8.34M335.5 458.33v8.34M362.33 458.5h8.34M366.5 454.33v8.34M400.33 461.5h8.34M404.5 457.33v8.34M426.33 460.5h8.34M430.5 456.33v8.34M356.33 461.5h8.34M360.5 457.33v8.34M434.33 460.5h8.34M438.5 456.33v8.34M332.33 460.5h8.34M336.5 456.33v8.34M384.33 460.5h8.34M388.5 456.33v8.34M358.33 459.5h8.34M362.5 455.33v8.34M402.33 461.5h8.34M406.5 457.33v8.34M333.33 460.5h8.34M337.5 456.33v8.34M366.33 459.5h8.34M370.5 455.33v8.34M351.33 461.5h8.34M355.5 457.33v8.34M416.33 460.5h8.34M420.5 456.33v8.34M352.33 459.5h8.34M356.5 455.33v8.34M435.33 460.5h8.34M439.5 456.33v8.34M355.33 462.5h8.34M359.5 458.33v8.34M354.33 461.5h8.34M358.5 457.33v8.34M433.33 460.5h8.34M437.5 456.33v8.34M384.33 461.5h8.34M388.5 457.33v8.34M375.33 461.5h8.34M379.5 457.33v8.34M402.33 461.5h8.34M406.5 457.33v8.34M372.33 460.5h8.34M376.5 456.33v8.34M353.33 461.5h8.34M357.5 457.33v8.34M335.33 460.5h8.34M339.5 456.33v8.34M336.33 459.5h8.34M340.5 455.33v8.34M426.33 462.5h8.34M430.5 458.33v8.34M409.33 463.5h8.34M413.5 459.33v8.34M365.33 460.5h8.34M369.5 456.33v8.34M350.33 462.5h8.34M354.5 458.33v8.34M333.33 460.5h8.34M337.5 456.33v8.34M402.33 460.5h8.34M406.5 456.33v8.34M366.33 461.5h8.34M370.5 457.33v8.34M348.33 461.5h8.34M352.5 457.33v8.34M368.33 461.5h8.34M372.5 457.33v8.34M434.33 463.5h8.34M438.5 459.33v8.34M352.33 462.5h8.34M356.5 458.33v8.34M368.33 461.5h8.34M372.5 457.33v8.34M377.33 459.5h8.34M381.5 455.33v8.34M335.33 459.5h8.34M339.5 455.33v8.34M430.33 461.5h8.34M434.5 457.33v8.34M351.33 459.5h8.34M355.5 455.33v8.34M333.33 462.5h8.34M337.5 458.33v8.34M374.33 461.5h8.34M378.5 457.33v8.34M334.33 459.5h8.34M338.5 455.33v8.34M333.33 463.5h8.34M337.5 459.33v8.34M358.33 461.5h8.34M362.5 457.33v8.34M411.33 461.5h8.34M415.5 457.33v8.34M359.33 460.5h8.34M363.5 456.33v8.34M434.33 460.5h8.34M438.5 456.33v8.34M408.33 460.5h8.34M412.5 456.33v8.34M364.33 460.5h8.34M368.5 456.33v8.34M412.33 461.5h8.34M416.5 457.33v8.34M429.33 459.5h8.34M433.5 455.33v8.34M332.33 459.5h8.34M336.5 455.33v8.34M355.33 458.5h8.34M359.5 454.33v8.34M433.33 461.5h8.34M437.5 457.33v8.34M372.33 460.5h8.34M376.5 456.33v8.34M383.33 462.5h8.34M387.5 458.33v8.34M431.33 461.5h8.34M435.5 457.33v8.34M410.33 462.5h8.34M414.5 458.33v8.34M426.33 454.5h8.34M430.5 450.33v8.34M434.33 454.5h8.34M438.5 450.33v8.34M325.33 461.5h8.34M329.5 457.33v8.34M328.33 461.5h8.34M332.5 457.33v8.34M330.33 461.5h8.34M334.5 457.33v8.34M333.33 461.5h8.34M337.5 457.33v8.34M336.33 461.5h8.34M340.5 457.33v8.34M338.33 462.5h8.34M342.5 458.33v8.34M340.33 461.5h8.34M344.5 457.33v8.34M343.33 461.5h8.34M347.5 457.33v8.34M346.33 461.5h8.34M350.5 457.33v8.34M348.33 462.5h8.34M352.5 458.33v8.34M350.33 461.5h8.34M354.5 457.33v8.34M353.33 461.5h8.34M357.5 457.33v8.34M356.33 462.5h8.34M360.5 458.33v8.34M358.33 461.5h8.34M362.5 457.33v8.34M360.33 461.5h8.34M364.5 457.33v8.34M373.33 462.5h8.34M377.5 458.33v8.34M387.33 461.5h8.34M391.5 457.33v8.34M390.33 461.5h8.34M394.5 457.33v8.34M392.33 462.5h8.34M396.5 458.33v8.34M394.33 461.5h8.34M398.5 457.33v8.34M397.33 461.5h8.34M401.5 457.33v8.34M400.33 461.5h8.34M404.5 457.33v8.34M402.33 461.5h8.34M406.5 457.33v8.34M404.33 461.5h8.34M408.5 457.33v8.34M394.33 464.5h8.34M398.5 460.33v8.34M396.33 464.5h8.34M400.5 460.33v8.34M455.33 306.5h8.34M459.5 302.33v8.34M455.33 310.5h8.34M459.5 306.33v8.34M472.33 309.5h8.34M476.5 305.33v8.34M478.33 303.5h8.34M482.5 299.33v8.34M484.33 314.5h8.34M488.5 310.33v8.34M488.33 318.5h8.34M492.5 314.33v8.34M492.33 302.5h8.34M496.5 298.33v8.34M493.33 306.5h8.34M497.5 302.33v8.34M496.33 310.5h8.34M500.5 306.33v8.34M498.33 312.5h8.34M502.5 308.33v8.34M500.33 316.5h8.34M504.5 312.33v8.34M496.33 316.5h8.34M500.5 312.33v8.34M496.33 320.5h8.34M500.5 316.33v8.34M498.33 300.5h8.34M502.5 296.33v8.34M506.33 304.5h8.34M510.5 300.33v8.34M508.33 318.5h8.34M512.5 314.33v8.34M514.33 312.5h8.34M518.5 308.33v8.34M462.33 319.5h8.34M466.5 315.33v8.34M458.33 322.5h8.34M462.5 318.33v8.34M460.33 326.5h8.34M464.5 322.33v8.34M456.33 323.5h8.34M460.5 319.33v8.34M462.33 322.5h8.34M466.5 318.33v8.34M475.33 320.5h8.34M479.5 316.33v8.34M476.33 321.5h8.34M480.5 317.33v8.34M474.33 322.5h8.34M478.5 318.33v8.34M476.33 324.5h8.34M480.5 320.33v8.34M485.33 322.5h8.34M489.5 318.33v8.34M488.33 321.5h8.34M492.5 317.33v8.34M488.33 324.5h8.34M492.5 320.33v8.34M478.33 332.5h8.34M482.5 328.33v8.34M484.33 330.5h8.34M488.5 326.33v8.34M470.33 334.5h8.34M474.5 330.33v8.34M468.33 337.5h8.34M472.5 333.33v8.34M450.33 336.5h8.34M454.5 332.33v8.34M449.33 342.5h8.34M453.5 338.33v8.34M458.33 346.5h8.34M462.5 342.33v8.34M476.33 344.5h8.34M480.5 340.33v8.34M474.33 344.5h8.34M478.5 340.33v8.34M492.33 332.5h8.34M496.5 328.33v8.34M494.33 328.5h8.34M498.5 324.33v8.34M490.33 330.5h8.34M494.5 326.33v8.34M498.33 336.5h8.34M502.5 332.33v8.34M502.33 332.5h8.34M506.5 328.33v8.34M506.33 330.5h8.34M510.5 326.33v8.34M508.33 330.5h8.34M512.5 326.33v8.34M506.33 336.5h8.34M510.5 332.33v8.34M512.33 334.5h8.34M516.5 330.33v8.34M490.33 344.5h8.34M494.5 340.33v8.34M494.33 346.5h8.34M498.5 342.33v8.34M490.33 348.5h8.34M494.5 344.33v8.34M496.33 342.5h8.34M500.5 338.33v8.34M498.33 342.5h8.34M502.5 338.33v8.34M504.33 346.5h8.34M508.5 342.33v8.34M508.33 344.5h8.34M512.5 340.33v8.34M512.33 342.5h8.34M516.5 338.33v8.34M514.33 346.5h8.34M518.5 342.33v8.34M442.33 350.5h8.34M446.5 346.33v8.34M441.33 352.5h8.34M445.5 348.33v8.34M472.33 354.5h8.34M476.5 350.33v8.34M474.33 356.5h8.34M478.5 352.33v8.34M483.33 354.5h8.34M487.5 350.33v8.34M448.33 358.5h8.34M452.5 354.33v8.34M458.33 358.5h8.34M462.5 354.33v8.34M462.33 356.5h8.34M466.5 352.33v8.34M500.33 352.5h8.34M504.5 348.33v8.34M506.33 352.5h8.34M510.5 348.33v8.34M508.33 356.5h8.34M512.5 352.33v8.34M512.33 352.5h8.34M516.5 348.33v8.34M512.33 356.5h8.34M516.5 352.33v8.34M510.33 358.5h8.34M514.5 354.33v8.34M504.33 358.5h8.34M508.5 354.33v8.34M514.33 324.5h8.34M518.5 320.33v8.34M514.33 326.5h8.34M518.5 322.33v8.34M552.33 302.5h8.34M556.5 298.33v8.34M550.33 307.5h8.34M554.5 303.33v8.34M562.33 302.5h8.34M566.5 298.33v8.34M565.33 305.5h8.34M569.5 301.33v8.34M588.33 309.5h8.34M592.5 305.33v8.34M559.33 315.5h8.34M563.5 311.33v8.34M566.33 313.5h8.34M570.5 309.33v8.34M547.33 321.5h8.34M551.5 317.33v8.34M565.33 325.5h8.34M569.5 321.33v8.34M574.33 329.5h8.34M578.5 325.33v8.34M575.33 328.5h8.34M579.5 324.33v8.34M557.33 332.5h8.34M561.5 328.33v8.34M560.33 335.5h8.34M564.5 331.33v8.34M557.33 339.5h8.34M561.5 335.33v8.34M570.33 336.5h8.34M574.5 332.33v8.34M566.33 342.5h8.34M570.5 338.33v8.34M564.33 342.5h8.34M568.5 338.33v8.34M582.33 343.5h8.34M586.5 339.33v8.34M594.33 342.5h8.34M598.5 338.33v8.34M577.33 352.5h8.34M581.5 348.33v8.34M584.33 355.5h8.34M588.5 351.33v8.34M594.33 349.5h8.34M598.5 345.33v8.34M554.33 356.5h8.34M558.5 352.33v8.34M562.33 358.5h8.34M566.5 354.33v8.34M565.33 358.5h8.34M569.5 354.33v8.34M548.33 358.5h8.34M552.5 354.33v8.34M525.33 302.5h8.34M529.5 298.33v8.34M518.33 304.5h8.34M522.5 300.33v8.34M534.33 304.5h8.34M538.5 300.33v8.34M536.33 308.5h8.34M540.5 304.33v8.34M532.33 307.5h8.34M536.5 303.33v8.34M537.33 310.5h8.34M541.5 306.33v8.34M538.33 314.5h8.34M542.5 310.33v8.34M528.33 314.5h8.34M532.5 310.33v8.34M523.33 310.5h8.34M527.5 306.33v8.34M518.33 312.5h8.34M522.5 308.33v8.34M530.33 314.5h8.34M534.5 310.33v8.34M534.33 318.5h8.34M538.5 314.33v8.34M540.33 322.5h8.34M544.5 318.33v8.34M536.33 322.5h8.34M540.5 318.33v8.34M526.33 322.5h8.34M530.5 318.33v8.34M522.33 326.5h8.34M526.5 322.33v8.34M518.33 322.5h8.34M522.5 318.33v8.34M526.33 328.5h8.34M530.5 324.33v8.34M532.33 326.5h8.34M536.5 322.33v8.34M544.33 328.5h8.34M548.5 324.33v8.34M538.33 328.5h8.34M542.5 324.33v8.34M534.33 332.5h8.34M538.5 328.33v8.34M530.33 332.5h8.34M534.5 328.33v8.34M524.33 334.5h8.34M528.5 330.33v8.34M520.33 332.5h8.34M524.5 328.33v8.34M518.33 336.5h8.34M522.5 332.33v8.34M528.33 336.5h8.34M532.5 332.33v8.34M542.33 336.5h8.34M546.5 332.33v8.34M538.33 338.5h8.34M542.5 334.33v8.34M534.33 338.5h8.34M538.5 334.33v8.34M548.33 339.5h8.34M552.5 335.33v8.34M544.33 342.5h8.34M548.5 338.33v8.34M540.33 342.5h8.34M544.5 338.33v8.34M534.33 342.5h8.34M538.5 338.33v8.34M530.33 342.5h8.34M534.5 338.33v8.34M524.33 344.5h8.34M528.5 340.33v8.34M520.33 342.5h8.34M524.5 338.33v8.34M516.33 344.5h8.34M520.5 340.33v8.34M522.33 346.5h8.34M526.5 342.33v8.34M526.33 348.5h8.34M530.5 344.33v8.34M532.33 348.5h8.34M536.5 344.33v8.34M536.33 348.5h8.34M540.5 344.33v8.34M542.33 346.5h8.34M546.5 342.33v8.34M546.33 350.5h8.34M550.5 346.33v8.34M540.33 352.5h8.34M544.5 348.33v8.34M536.33 352.5h8.34M540.5 348.33v8.34M530.33 352.5h8.34M534.5 348.33v8.34M526.33 352.5h8.34M530.5 348.33v8.34M520.33 352.5h8.34M524.5 348.33v8.34M518.33 356.5h8.34M522.5 352.33v8.34M522.33 356.5h8.34M526.5 352.33v8.34M528.33 356.5h8.34M532.5 352.33v8.34M532.33 356.5h8.34M536.5 352.33v8.34M538.33 356.5h8.34M542.5 352.33v8.34M542.33 356.5h8.34M546.5 352.33v8.34M546.33 358.5h8.34M550.5 354.33v8.34M642.33 318.5h8.34M646.5 314.33v8.34M620.33 325.5h8.34M624.5 321.33v8.34M634.33 336.5h8.34M638.5 332.33v8.34M599.33 339.5h8.34M603.5 335.33v8.34M597.33 341.5h8.34M601.5 337.33v8.34M632.33 347.5h8.34M636.5 343.33v8.34M622.33 355.5h8.34M626.5 351.33v8.34M636.33 362.5h8.34M640.5 358.33v8.34M620.33 369.5h8.34M624.5 365.33v8.34M597.33 378.5h8.34M601.5 374.33v8.34M620.33 386.5h8.34M624.5 382.33v8.34M608.33 389.5h8.34M612.5 385.33v8.34M449.33 361.5h8.34M453.5 357.33v8.34M456.33 361.5h8.34M460.5 357.33v8.34M458.33 362.5h8.34M462.5 358.33v8.34M484.33 362.5h8.34M488.5 358.33v8.34M473.33 364.5h8.34M477.5 360.33v8.34M472.33 360.5h8.34M476.5 356.33v8.34M454.33 369.5h8.34M458.5 365.33v8.34M450.33 372.5h8.34M454.5 368.33v8.34M443.33 375.5h8.34M447.5 371.33v8.34M465.33 370.5h8.34M469.5 366.33v8.34M480.33 370.5h8.34M484.5 366.33v8.34M474.33 372.5h8.34M478.5 368.33v8.34M461.33 380.5h8.34M465.5 376.33v8.34M465.33 384.5h8.34M469.5 380.33v8.34M470.33 378.5h8.34M474.5 374.33v8.34M474.33 378.5h8.34M478.5 374.33v8.34M444.33 389.5h8.34M448.5 385.33v8.34M449.33 398.5h8.34M453.5 394.33v8.34M473.33 392.5h8.34M477.5 388.33v8.34M478.33 388.5h8.34M482.5 384.33v8.34M484.33 392.5h8.34M488.5 388.33v8.34M476.33 396.5h8.34M480.5 392.33v8.34M476.33 400.5h8.34M480.5 396.33v8.34M464.33 400.5h8.34M468.5 396.33v8.34M458.33 404.5h8.34M462.5 400.33v8.34M446.33 408.5h8.34M450.5 404.33v8.34M448.33 406.5h8.34M452.5 402.33v8.34M454.33 412.5h8.34M458.5 408.33v8.34M468.33 406.5h8.34M472.5 402.33v8.34M461.33 414.5h8.34M465.5 410.33v8.34M466.33 418.5h8.34M470.5 414.33v8.34M490.33 396.5h8.34M494.5 392.33v8.34M494.33 384.5h8.34M498.5 380.33v8.34M492.33 380.5h8.34M496.5 376.33v8.34M496.33 382.5h8.34M500.5 378.33v8.34M498.33 382.5h8.34M502.5 378.33v8.34M492.33 376.5h8.34M496.5 372.33v8.34M498.33 370.5h8.34M502.5 366.33v8.34M500.33 368.5h8.34M504.5 364.33v8.34M502.33 364.5h8.34M506.5 360.33v8.34M506.33 362.5h8.34M510.5 358.33v8.34M504.33 366.5h8.34M508.5 362.33v8.34M508.33 370.5h8.34M512.5 366.33v8.34M512.33 366.5h8.34M516.5 362.33v8.34M510.33 374.5h8.34M514.5 370.33v8.34M506.33 380.5h8.34M510.5 376.33v8.34M512.33 380.5h8.34M516.5 376.33v8.34M508.33 384.5h8.34M512.5 380.33v8.34M504.33 388.5h8.34M508.5 384.33v8.34M512.33 388.5h8.34M516.5 384.33v8.34M500.33 392.5h8.34M504.5 388.33v8.34M506.33 394.5h8.34M510.5 390.33v8.34M512.33 394.5h8.34M516.5 390.33v8.34M496.33 400.5h8.34M500.5 396.33v8.34M502.33 402.5h8.34M506.5 398.33v8.34M508.33 400.5h8.34M512.5 396.33v8.34M514.33 402.5h8.34M518.5 398.33v8.34M492.33 404.5h8.34M496.5 400.33v8.34M498.33 406.5h8.34M502.5 402.33v8.34M504.33 406.5h8.34M508.5 402.33v8.34M510.33 406.5h8.34M514.5 402.33v8.34M486.33 408.5h8.34M490.5 404.33v8.34M482.33 402.5h8.34M486.5 398.33v8.34M480.33 410.5h8.34M484.5 406.33v8.34M488.33 412.5h8.34M492.5 408.33v8.34M494.33 412.5h8.34M498.5 408.33v8.34M500.33 412.5h8.34M504.5 408.33v8.34M506.33 412.5h8.34M510.5 408.33v8.34M512.33 412.5h8.34M516.5 408.33v8.34M476.33 414.5h8.34M480.5 410.33v8.34M484.33 416.5h8.34M488.5 412.33v8.34M490.33 416.5h8.34M494.5 412.33v8.34M496.33 418.5h8.34M500.5 414.33v8.34M502.33 416.5h8.34M506.5 412.33v8.34M508.33 418.5h8.34M512.5 414.33v8.34M514.33 416.5h8.34M518.5 412.33v8.34M471.33 418.5h8.34M475.5 414.33v8.34M514.33 374.5h8.34M518.5 370.33v8.34M514.33 362.5h8.34M518.5 358.33v8.34M514.33 384.5h8.34M518.5 380.33v8.34M514.33 406.5h8.34M518.5 402.33v8.34M580.33 364.5h8.34M584.5 360.33v8.34M582.33 362.5h8.34M586.5 358.33v8.34M578.33 367.5h8.34M582.5 363.33v8.34M574.33 376.5h8.34M578.5 372.33v8.34M582.33 376.5h8.34M586.5 372.33v8.34M588.33 384.5h8.34M592.5 380.33v8.34M589.33 386.5h8.34M593.5 382.33v8.34M592.33 388.5h8.34M596.5 384.33v8.34M594.33 378.5h8.34M598.5 374.33v8.34M578.33 392.5h8.34M582.5 388.33v8.34M574.33 372.5h8.34M578.5 368.33v8.34M470.33 419.5h8.34M474.5 415.33v8.34M478.33 420.5h8.34M482.5 416.33v8.34M480.33 416.5h8.34M484.5 412.33v8.34M482.33 430.5h8.34M486.5 426.33v8.34M484.33 432.5h8.34M488.5 428.33v8.34M488.33 434.5h8.34M492.5 430.33v8.34M486.33 428.5h8.34M490.5 424.33v8.34M490.33 430.5h8.34M494.5 426.33v8.34M494.33 444.5h8.34M498.5 440.33v8.34M500.33 442.5h8.34M504.5 438.33v8.34M502.33 438.5h8.34M506.5 434.33v8.34M506.33 434.5h8.34M510.5 430.33v8.34M500.33 432.5h8.34M504.5 428.33v8.34M508.33 430.5h8.34M512.5 426.33v8.34M512.33 426.5h8.34M516.5 422.33v8.34M498.33 426.5h8.34M502.5 422.33v8.34M494.33 422.5h8.34M498.5 418.33v8.34M490.33 422.5h8.34M494.5 418.33v8.34M486.33 422.5h8.34M490.5 418.33v8.34M500.33 420.5h8.34M504.5 416.33v8.34M506.33 422.5h8.34M510.5 418.33v8.34M510.33 418.5h8.34M514.5 414.33v8.34M514.33 422.5h8.34M518.5 418.33v8.34M512.33 436.5h8.34M516.5 432.33v8.34M514.33 442.5h8.34M518.5 438.33v8.34M508.33 444.5h8.34M512.5 440.33v8.34M454.33 466.5h8.34M458.5 462.33v8.34M498.33 472.5h8.34M502.5 468.33v8.34M502.33 472.5h8.34M506.5 468.33v8.34M597.33 392.5h8.34M601.5 388.33v8.34M611.33 394.5h8.34M615.5 390.33v8.34M619.33 395.5h8.34M623.5 391.33v8.34M624.33 400.5h8.34M628.5 396.33v8.34M603.33 403.5h8.34M607.5 399.33v8.34M598.33 407.5h8.34M602.5 403.33v8.34M610.33 406.5h8.34M614.5 402.33v8.34M618.33 408.5h8.34M622.5 404.33v8.34M627.33 409.5h8.34M631.5 405.33v8.34M651.33 406.5h8.34M655.5 402.33v8.34M623.33 415.5h8.34M627.5 411.33v8.34M627.33 416.5h8.34M631.5 412.33v8.34M639.33 417.5h8.34M643.5 413.33v8.34M640.33 420.5h8.34M644.5 416.33v8.34M632.33 419.5h8.34M636.5 415.33v8.34M634.33 423.5h8.34M638.5 419.33v8.34M666.33 418.5h8.34M670.5 414.33v8.34M670.33 416.5h8.34M674.5 412.33v8.34M676.33 422.5h8.34M680.5 418.33v8.34M678.33 422.5h8.34M682.5 418.33v8.34M656.33 429.5h8.34M660.5 425.33v8.34M664.33 428.5h8.34M668.5 424.33v8.34M664.33 430.5h8.34M668.5 426.33v8.34M667.33 436.5h8.34M671.5 432.33v8.34M697.33 436.5h8.34M701.5 432.33v8.34M681.33 437.5h8.34M685.5 433.33v8.34M688.33 440.5h8.34M692.5 436.33v8.34M674.33 442.5h8.34M678.5 438.33v8.34M683.33 446.5h8.34M687.5 442.33v8.34M682.33 448.5h8.34M686.5 444.33v8.34M669.33 449.5h8.34M673.5 445.33v8.34M700.33 453.5h8.34M704.5 449.33v8.34M699.33 456.5h8.34M703.5 452.33v8.34M714.33 438.5h8.34M718.5 434.33v8.34M714.33 453.5h8.34M718.5 449.33v8.34M676.33 454.5h8.34M680.5 450.33v8.34M686.33 458.5h8.34M690.5 454.33v8.34M690.33 459.5h8.34M694.5 455.33v8.34M644.33 428.5h8.34M648.5 424.33v8.34M645.33 432.5h8.34M649.5 428.33v8.34M650.33 442.5h8.34M654.5 438.33v8.34M654.33 448.5h8.34M658.5 444.33v8.34M657.33 453.5h8.34M661.5 449.33v8.34M652.33 456.5h8.34M656.5 452.33v8.34M666.33 458.5h8.34M670.5 454.33v8.34M704.33 465.5h8.34M708.5 461.33v8.34M711.33 468.5h8.34M715.5 464.33v8.34M497.33 475.5h8.34M501.5 471.33v8.34M517.33 476.5h8.34M521.5 472.33v8.34M538.33 489.5h8.34M542.5 485.33v8.34M540.33 475.5h8.34M544.5 471.33v8.34M548.33 474.5h8.34M552.5 470.33v8.34M563.33 474.5h8.34M567.5 470.33v8.34M576.33 475.5h8.34M580.5 471.33v8.34M582.33 479.5h8.34M586.5 475.33v8.34M594.33 479.5h8.34M598.5 475.33v8.34M600.33 474.5h8.34M604.5 470.33v8.34M614.33 475.5h8.34M618.5 471.33v8.34M635.33 475.5h8.34M639.5 471.33v8.34M660.33 479.5h8.34M664.5 475.33v8.34M660.33 474.5h8.34M664.5 470.33v8.34M677.33 472.5h8.34M681.5 468.33v8.34M686.33 474.5h8.34M690.5 470.33v8.34M703.33 476.5h8.34M707.5 472.33v8.34M710.33 469.5h8.34M714.5 465.33v8.34M525.33 336.5h8.34M529.5 332.33v8.34M526.33 326.5h8.34M530.5 322.33v8.34M538.33 352.5h8.34M542.5 348.33v8.34M529.33 324.5h8.34M533.5 320.33v8.34M523.33 331.5h8.34M527.5 327.33v8.34M540.33 343.5h8.34M544.5 339.33v8.34M515.33 329.5h8.34M519.5 325.33v8.34M531.33 337.5h8.34M535.5 333.33v8.34M531.33 345.5h8.34M535.5 341.33v8.34M527.33 319.5h8.34M531.5 315.33v8.34M515.33 355.5h8.34M519.5 351.33v8.34M512.33 341.5h8.34M516.5 337.33v8.34M518.33 320.5h8.34M522.5 316.33v8.34M526.33 353.5h8.34M530.5 349.33v8.34M504.33 327.5h8.34M508.5 323.33v8.34M517.33 319.5h8.34M521.5 315.33v8.34M521.33 352.5h8.34M525.5 348.33v8.34M530.33 340.5h8.34M534.5 336.33v8.34M525.33 333.5h8.34M529.5 329.33v8.34M527.33 322.5h8.34M531.5 318.33v8.34M536.33 322.5h8.34M540.5 318.33v8.34M545.33 336.5h8.34M549.5 332.33v8.34M517.33 328.5h8.34M521.5 324.33v8.34M510.33 343.5h8.34M514.5 339.33v8.34M505.33 323.5h8.34M509.5 319.33v8.34M519.33 324.5h8.34M523.5 320.33v8.34M529.33 352.5h8.34M533.5 348.33v8.34M536.33 338.5h8.34M540.5 334.33v8.34M514.33 336.5h8.34M518.5 332.33v8.34M513.33 331.5h8.34M517.5 327.33v8.34M500.33 336.5h8.34M504.5 332.33v8.34M526.33 334.5h8.34M530.5 330.33v8.34M541.33 346.5h8.34M545.5 342.33v8.34M508.33 340.5h8.34M512.5 336.33v8.34M543.33 339.5h8.34M547.5 335.33v8.34M527.33 320.5h8.34M531.5 316.33v8.34M521.33 337.5h8.34M525.5 333.33v8.34M516.33 335.5h8.34M520.5 331.33v8.34M526.33 340.5h8.34M530.5 336.33v8.34M521.33 324.5h8.34M525.5 320.33v8.34M517.33 319.5h8.34M521.5 315.33v8.34M501.33 337.5h8.34M505.5 333.33v8.34M519.33 336.5h8.34M523.5 332.33v8.34M522.33 336.5h8.34M526.5 332.33v8.34M533.33 355.5h8.34M537.5 351.33v8.34M532.33 335.5h8.34M536.5 331.33v8.34M529.33 356.5h8.34M533.5 352.33v8.34M503.33 327.5h8.34M507.5 323.33v8.34M528.33 346.5h8.34M532.5 342.33v8.34M529.33 342.5h8.34M533.5 338.33v8.34M539.33 338.5h8.34M543.5 334.33v8.34M537.33 358.5h8.34M541.5 354.33v8.34M518.33 354.5h8.34M522.5 350.33v8.34M533.33 355.5h8.34M537.5 351.33v8.34M535.33 358.5h8.34M539.5 354.33v8.34M530.33 323.5h8.34M534.5 319.33v8.34M526.33 356.5h8.34M530.5 352.33v8.34M505.33 332.5h8.34M509.5 328.33v8.34M500.33 326.5h8.34M504.5 322.33v8.34M506.33 322.5h8.34M510.5 318.33v8.34M520.33 349.5h8.34M524.5 345.33v8.34M532.33 339.5h8.34M536.5 335.33v8.34M518.33 345.5h8.34M522.5 341.33v8.34M524.33 329.5h8.34M528.5 325.33v8.34M514.33 344.5h8.34M518.5 340.33v8.34M528.33 326.5h8.34M532.5 322.33v8.34M527.33 354.5h8.34M531.5 350.33v8.34M541.33 345.5h8.34M545.5 341.33v8.34M499.33 335.5h8.34M503.5 331.33v8.34M515.33 359.5h8.34M519.5 355.33v8.34M509.33 371.5h8.34M513.5 367.33v8.34M515.33 359.5h8.34M519.5 355.33v8.34M512.33 417.5h8.34M516.5 413.33v8.34M496.33 387.5h8.34M500.5 383.33v8.34M508.33 382.5h8.34M512.5 378.33v8.34M497.33 377.5h8.34M501.5 373.33v8.34M512.33 434.5h8.34M516.5 430.33v8.34M510.33 377.5h8.34M514.5 373.33v8.34M514.33 402.5h8.34M518.5 398.33v8.34M496.33 397.5h8.34M500.5 393.33v8.34M501.33 364.5h8.34M505.5 360.33v8.34M505.33 389.5h8.34M509.5 385.33v8.34M505.33 438.5h8.34M509.5 434.33v8.34M507.33 393.5h8.34M511.5 389.33v8.34M503.33 440.5h8.34M507.5 436.33v8.34M491.33 370.5h8.34M495.5 366.33v8.34M495.33 439.5h8.34M499.5 435.33v8.34M508.33 420.5h8.34M512.5 416.33v8.34M498.33 401.5h8.34M502.5 397.33v8.34M513.33 366.5h8.34M517.5 362.33v8.34M493.33 362.5h8.34M497.5 358.33v8.34M502.33 431.5h8.34M506.5 427.33v8.34M504.33 392.5h8.34M508.5 388.33v8.34M503.33 373.5h8.34M507.5 369.33v8.34M514.33 388.5h8.34M518.5 384.33v8.34M496.33 385.5h8.34M500.5 381.33v8.34M511.33 385.5h8.34M515.5 381.33v8.34M513.33 387.5h8.34M517.5 383.33v8.34M502.33 364.5h8.34M506.5 360.33v8.34M513.33 427.5h8.34M517.5 423.33v8.34M502.33 368.5h8.34M506.5 364.33v8.34M503.33 390.5h8.34M507.5 386.33v8.34M512.33 438.5h8.34M516.5 434.33v8.34M509.33 382.5h8.34M513.5 378.33v8.34M492.33 435.5h8.34M496.5 431.33v8.34M514.33 371.5h8.34M518.5 367.33v8.34M503.33 399.5h8.34M507.5 395.33v8.34M515.33 361.5h8.34M519.5 357.33v8.34M492.33 431.5h8.34M496.5 427.33v8.34M505.33 398.5h8.34M509.5 394.33v8.34M510.33 409.5h8.34M514.5 405.33v8.34M508.33 380.5h8.34M512.5 376.33v8.34M499.33 414.5h8.34M503.5 410.33v8.34M500.33 388.5h8.34M504.5 384.33v8.34M506.33 419.5h8.34M510.5 415.33v8.34M505.33 385.5h8.34M509.5 381.33v8.34M511.33 427.5h8.34M515.5 423.33v8.34M513.33 435.5h8.34M517.5 431.33v8.34M491.33 416.5h8.34M495.5 412.33v8.34M499.33 391.5h8.34M503.5 387.33v8.34M503.33 370.5h8.34M507.5 366.33v8.34M499.33 437.5h8.34M503.5 433.33v8.34M508.33 385.5h8.34M512.5 381.33v8.34M498.33 410.5h8.34M502.5 406.33v8.34M508.33 387.5h8.34M512.5 383.33v8.34M492.33 372.5h8.34M496.5 368.33v8.34M512.33 421.5h8.34M516.5 417.33v8.34M493.33 430.5h8.34M497.5 426.33v8.34M505.33 387.5h8.34M509.5 383.33v8.34M513.33 369.5h8.34M517.5 365.33v8.34M493.33 387.5h8.34M497.5 383.33v8.34M509.33 405.5h8.34M513.5 401.33v8.34M503.33 436.5h8.34M507.5 432.33v8.34M500.33 426.5h8.34M504.5 422.33v8.34M491.33 426.5h8.34M495.5 422.33v8.34M494.33 415.5h8.34M498.5 411.33v8.34M511.33 415.5h8.34M515.5 411.33v8.34M505.33 405.5h8.34M509.5 401.33v8.34M509.33 390.5h8.34M513.5 386.33v8.34M496.33 406.5h8.34M500.5 402.33v8.34M504.33 368.5h8.34M508.5 364.33v8.34M504.33 398.5h8.34M508.5 394.33v8.34M552.33 388.5h8.34M556.5 384.33v8.34M556.33 389.5h8.34M560.5 385.33v8.34M530.33 385.5h8.34M534.5 381.33v8.34M566.33 400.5h8.34M570.5 396.33v8.34M523.33 374.5h8.34M527.5 370.33v8.34M523.33 401.5h8.34M527.5 397.33v8.34M568.33 391.5h8.34M572.5 387.33v8.34M531.33 371.5h8.34M535.5 367.33v8.34M518.33 383.5h8.34M522.5 379.33v8.34M551.33 403.5h8.34M555.5 399.33v8.34M557.33 392.5h8.34M561.5 388.33v8.34M555.33 393.5h8.34M559.5 389.33v8.34M552.33 373.5h8.34M556.5 369.33v8.34M541.33 370.5h8.34M545.5 366.33v8.34M539.33 361.5h8.34M543.5 357.33v8.34M516.33 369.5h8.34M520.5 365.33v8.34M521.33 391.5h8.34M525.5 387.33v8.34M522.33 375.5h8.34M526.5 371.33v8.34M525.33 371.5h8.34M529.5 367.33v8.34M524.33 361.5h8.34M528.5 357.33v8.34M560.33 382.5h8.34M564.5 378.33v8.34M531.33 397.5h8.34M535.5 393.33v8.34M526.33 392.5h8.34M530.5 388.33v8.34M525.33 380.5h8.34M529.5 376.33v8.34M533.33 372.5h8.34M537.5 368.33v8.34M540.33 405.5h8.34M544.5 401.33v8.34M532.33 379.5h8.34M536.5 375.33v8.34M524.33 411.5h8.34M528.5 407.33v8.34M533.33 371.5h8.34M537.5 367.33v8.34M539.33 361.5h8.34M543.5 357.33v8.34M523.33 389.5h8.34M527.5 385.33v8.34M535.33 390.5h8.34M539.5 386.33v8.34M545.33 382.5h8.34M549.5 378.33v8.34M561.33 404.5h8.34M565.5 400.33v8.34M530.33 366.5h8.34M534.5 362.33v8.34M535.33 368.5h8.34M539.5 364.33v8.34M575.33 408.5h8.34M579.5 404.33v8.34M531.33 409.5h8.34M535.5 405.33v8.34M519.33 409.5h8.34M523.5 405.33v8.34M535.33 396.5h8.34M539.5 392.33v8.34M536.33 402.5h8.34M540.5 398.33v8.34M530.33 396.5h8.34M534.5 392.33v8.34M521.33 370.5h8.34M525.5 366.33v8.34M560.33 404.5h8.34M564.5 400.33v8.34M517.33 372.5h8.34M521.5 368.33v8.34M530.33 377.5h8.34M534.5 373.33v8.34M544.33 406.5h8.34M548.5 402.33v8.34M527.33 359.5h8.34M531.5 355.33v8.34M517.33 407.5h8.34M521.5 403.33v8.34M572.33 409.5h8.34M576.5 405.33v8.34M517.33 392.5h8.34M521.5 388.33v8.34M554.33 397.5h8.34M558.5 393.33v8.34M541.33 411.5h8.34M545.5 407.33v8.34M522.33 387.5h8.34M526.5 383.33v8.34M574.33 406.5h8.34M578.5 402.33v8.34M579.33 407.5h8.34M583.5 403.33v8.34M544.33 394.5h8.34M548.5 390.33v8.34M549.33 400.5h8.34M553.5 396.33v8.34M562.33 390.5h8.34M566.5 386.33v8.34M522.33 392.5h8.34M526.5 388.33v8.34M551.33 403.5h8.34M555.5 399.33v8.34M522.33 398.5h8.34M526.5 394.33v8.34M518.33 390.5h8.34M522.5 386.33v8.34M565.33 407.5h8.34M569.5 403.33v8.34M540.33 394.5h8.34M544.5 390.33v8.34M532.33 367.5h8.34M536.5 363.33v8.34M551.33 406.5h8.34M555.5 402.33v8.34M542.33 393.5h8.34M546.5 389.33v8.34M531.33 381.5h8.34M535.5 377.33v8.34M580.33 407.5h8.34M584.5 403.33v8.34M526.33 384.5h8.34M530.5 380.33v8.34M582.33 403.5h8.34M586.5 399.33v8.34M572.33 409.5h8.34M576.5 405.33v8.34M538.33 367.5h8.34M542.5 363.33v8.34M552.33 372.5h8.34M556.5 368.33v8.34M533.33 380.5h8.34M537.5 376.33v8.34M541.33 403.5h8.34M545.5 399.33v8.34M521.33 359.5h8.34M525.5 355.33v8.34M540.33 400.5h8.34M544.5 396.33v8.34M517.33 365.5h8.34M521.5 361.33v8.34M527.33 360.5h8.34M531.5 356.33v8.34M566.33 393.5h8.34M570.5 389.33v8.34M580.33 409.5h8.34M584.5 405.33v8.34M516.33 383.5h8.34M520.5 379.33v8.34M537.33 376.5h8.34M541.5 372.33v8.34M565.33 398.5h8.34M569.5 394.33v8.34M547.33 400.5h8.34M551.5 396.33v8.34M526.33 382.5h8.34M530.5 378.33v8.34M566.33 407.5h8.34M570.5 403.33v8.34M546.33 388.5h8.34M550.5 384.33v8.34M573.33 402.5h8.34M577.5 398.33v8.34M567.33 396.5h8.34M571.5 392.33v8.34M533.33 406.5h8.34M537.5 402.33v8.34M558.33 400.5h8.34M562.5 396.33v8.34M541.33 407.5h8.34M545.5 403.33v8.34M522.33 381.5h8.34M526.5 377.33v8.34M560.33 399.5h8.34M564.5 395.33v8.34M542.33 400.5h8.34M546.5 396.33v8.34M527.33 366.5h8.34M531.5 362.33v8.34M557.33 397.5h8.34M561.5 393.33v8.34M533.33 386.5h8.34M537.5 382.33v8.34M539.33 397.5h8.34M543.5 393.33v8.34M540.33 378.5h8.34M544.5 374.33v8.34M583.33 406.5h8.34M587.5 402.33v8.34M532.33 403.5h8.34M536.5 399.33v8.34M558.33 385.5h8.34M562.5 381.33v8.34M548.33 401.5h8.34M552.5 397.33v8.34M561.33 384.5h8.34M565.5 380.33v8.34M559.33 380.5h8.34M563.5 376.33v8.34M537.33 383.5h8.34M541.5 379.33v8.34M526.33 381.5h8.34M530.5 377.33v8.34M581.33 406.5h8.34M585.5 402.33v8.34M554.33 375.5h8.34M558.5 371.33v8.34M531.33 391.5h8.34M535.5 387.33v8.34M531.33 370.5h8.34M535.5 366.33v8.34M544.33 391.5h8.34M548.5 387.33v8.34M524.33 397.5h8.34M528.5 393.33v8.34M525.33 385.5h8.34M529.5 381.33v8.34M536.33 368.5h8.34M540.5 364.33v8.34M558.33 381.5h8.34M562.5 377.33v8.34M546.33 380.5h8.34M550.5 376.33v8.34M532.33 392.5h8.34M536.5 388.33v8.34M575.33 401.5h8.34M579.5 397.33v8.34M541.33 407.5h8.34M545.5 403.33v8.34M533.33 411.5h8.34M537.5 407.33v8.34M535.33 397.5h8.34M539.5 393.33v8.34M536.33 363.5h8.34M540.5 359.33v8.34M548.33 395.5h8.34M552.5 391.33v8.34M517.33 368.5h8.34M521.5 364.33v8.34M570.33 407.5h8.34M574.5 403.33v8.34M556.33 398.5h8.34M560.5 394.33v8.34M556.33 395.5h8.34M560.5 391.33v8.34M531.33 361.5h8.34M535.5 357.33v8.34M524.33 360.5h8.34M528.5 356.33v8.34M560.33 385.5h8.34M564.5 381.33v8.34M530.33 369.5h8.34M534.5 365.33v8.34M583.33 411.5h8.34M587.5 407.33v8.34M520.33 409.5h8.34M524.5 405.33v8.34M552.33 399.5h8.34M556.5 395.33v8.34M542.33 383.5h8.34M546.5 379.33v8.34M557.33 381.5h8.34M561.5 377.33v8.34M572.33 403.5h8.34M576.5 399.33v8.34M530.33 382.5h8.34M534.5 378.33v8.34M531.33 366.5h8.34M535.5 362.33v8.34M572.33 404.5h8.34M576.5 400.33v8.34M563.33 385.5h8.34M567.5 381.33v8.34M536.33 407.5h8.34M540.5 403.33v8.34M575.33 400.5h8.34M579.5 396.33v8.34M571.33 399.5h8.34M575.5 395.33v8.34M543.33 383.5h8.34M547.5 379.33v8.34M516.33 377.5h8.34M520.5 373.33v8.34M567.33 391.5h8.34M571.5 387.33v8.34M534.33 409.5h8.34M538.5 405.33v8.34M558.33 379.5h8.34M562.5 375.33v8.34M572.33 399.5h8.34M576.5 395.33v8.34M565.33 397.5h8.34M569.5 393.33v8.34M536.33 379.5h8.34M540.5 375.33v8.34M520.33 368.5h8.34M524.5 364.33v8.34M546.33 363.5h8.34M550.5 359.33v8.34M536.33 406.5h8.34M540.5 402.33v8.34M560.33 385.5h8.34M564.5 381.33v8.34M563.33 398.5h8.34M567.5 394.33v8.34M519.33 408.5h8.34M523.5 404.33v8.34M528.33 383.5h8.34M532.5 379.33v8.34M529.33 384.5h8.34M533.5 380.33v8.34M558.33 390.5h8.34M562.5 386.33v8.34M545.33 373.5h8.34M549.5 369.33v8.34M538.33 396.5h8.34M542.5 392.33v8.34M535.33 360.5h8.34M539.5 356.33v8.34M528.33 398.5h8.34M532.5 394.33v8.34M547.33 406.5h8.34M551.5 402.33v8.34M521.33 406.5h8.34M525.5 402.33v8.34M550.33 383.5h8.34M554.5 379.33v8.34M557.33 408.5h8.34M561.5 404.33v8.34M532.33 360.5h8.34M536.5 356.33v8.34M551.33 394.5h8.34M555.5 390.33v8.34M552.33 372.5h8.34M556.5 368.33v8.34M525.33 406.5h8.34M529.5 402.33v8.34M544.33 372.5h8.34M548.5 368.33v8.34M563.33 392.5h8.34M567.5 388.33v8.34M535.33 410.5h8.34M539.5 406.33v8.34M519.33 361.5h8.34M523.5 357.33v8.34M537.33 380.5h8.34M541.5 376.33v8.34M522.33 394.5h8.34M526.5 390.33v8.34M560.33 392.5h8.34M564.5 388.33v8.34M545.33 383.5h8.34M549.5 379.33v8.34M532.33 376.5h8.34M536.5 372.33v8.34M575.33 403.5h8.34M579.5 399.33v8.34M521.33 364.5h8.34M525.5 360.33v8.34M549.33 371.5h8.34M553.5 367.33v8.34M568.33 411.5h8.34M572.5 407.33v8.34M542.33 387.5h8.34M546.5 383.33v8.34M575.33 407.5h8.34M579.5 403.33v8.34M550.33 377.5h8.34M554.5 373.33v8.34M523.33 405.5h8.34M527.5 401.33v8.34M522.33 362.5h8.34M526.5 358.33v8.34M561.33 384.5h8.34M565.5 380.33v8.34M533.33 393.5h8.34M537.5 389.33v8.34M522.33 374.5h8.34M526.5 370.33v8.34M573.33 395.5h8.34M577.5 391.33v8.34M538.33 365.5h8.34M542.5 361.33v8.34M544.33 397.5h8.34M548.5 393.33v8.34M545.33 364.5h8.34M549.5 360.33v8.34M589.33 408.5h8.34M593.5 404.33v8.34M541.33 379.5h8.34M545.5 375.33v8.34M535.33 377.5h8.34M539.5 373.33v8.34M545.33 377.5h8.34M549.5 373.33v8.34M547.33 378.5h8.34M551.5 374.33v8.34M531.33 388.5h8.34M535.5 384.33v8.34M530.33 398.5h8.34M534.5 394.33v8.34M517.33 385.5h8.34M521.5 381.33v8.34M559.33 388.5h8.34M563.5 384.33v8.34M559.33 400.5h8.34M563.5 396.33v8.34M522.33 362.5h8.34M526.5 358.33v8.34M574.33 406.5h8.34M578.5 402.33v8.34M522.33 392.5h8.34M526.5 388.33v8.34M527.33 398.5h8.34M531.5 394.33v8.34M533.33 399.5h8.34M537.5 395.33v8.34M557.33 399.5h8.34M561.5 395.33v8.34M547.33 376.5h8.34M551.5 372.33v8.34M555.33 387.5h8.34M559.5 383.33v8.34M573.33 396.5h8.34M577.5 392.33v8.34M582.33 405.5h8.34M586.5 401.33v8.34M557.33 396.5h8.34M561.5 392.33v8.34M575.33 411.5h8.34M579.5 407.33v8.34M546.33 367.5h8.34M550.5 363.33v8.34M532.33 380.5h8.34M536.5 376.33v8.34M539.33 410.5h8.34M543.5 406.33v8.34M520.33 374.5h8.34M524.5 370.33v8.34M525.33 392.5h8.34M529.5 388.33v8.34M520.33 382.5h8.34M524.5 378.33v8.34M562.33 407.5h8.34M566.5 403.33v8.34M518.33 363.5h8.34M522.5 359.33v8.34M530.33 369.5h8.34M534.5 365.33v8.34M534.33 396.5h8.34M538.5 392.33v8.34M530.33 373.5h8.34M534.5 369.33v8.34M529.33 398.5h8.34M533.5 394.33v8.34M540.33 387.5h8.34M544.5 383.33v8.34M536.33 405.5h8.34M540.5 401.33v8.34M559.33 409.5h8.34M563.5 405.33v8.34M519.33 409.5h8.34M523.5 405.33v8.34M558.33 385.5h8.34M562.5 381.33v8.34M537.33 411.5h8.34M541.5 407.33v8.34M516.33 383.5h8.34M520.5 379.33v8.34M545.33 401.5h8.34M549.5 397.33v8.34M528.33 366.5h8.34M532.5 362.33v8.34M541.33 372.5h8.34M545.5 368.33v8.34M566.33 411.5h8.34M570.5 407.33v8.34M537.33 386.5h8.34M541.5 382.33v8.34M528.33 399.5h8.34M532.5 395.33v8.34M516.33 402.5h8.34M520.5 398.33v8.34M522.33 372.5h8.34M526.5 368.33v8.34M554.33 383.5h8.34M558.5 379.33v8.34M559.33 386.5h8.34M563.5 382.33v8.34M528.33 402.5h8.34M532.5 398.33v8.34M540.33 374.5h8.34M544.5 370.33v8.34M522.33 374.5h8.34M526.5 370.33v8.34M553.33 396.5h8.34M557.5 392.33v8.34M544.33 395.5h8.34M548.5 391.33v8.34M524.33 379.5h8.34M528.5 375.33v8.34M552.33 410.5h8.34M556.5 406.33v8.34M516.33 378.5h8.34M520.5 374.33v8.34M561.33 382.5h8.34M565.5 378.33v8.34M516.33 411.5h8.34M520.5 407.33v8.34M546.33 387.5h8.34M550.5 383.33v8.34M539.33 376.5h8.34M543.5 372.33v8.34M547.33 394.5h8.34M551.5 390.33v8.34M536.33 368.5h8.34M540.5 364.33v8.34M527.33 363.5h8.34M531.5 359.33v8.34M570.33 396.5h8.34M574.5 392.33v8.34M530.33 379.5h8.34M534.5 375.33v8.34M523.33 370.5h8.34M527.5 366.33v8.34M528.33 364.5h8.34M532.5 360.33v8.34M556.33 392.5h8.34M560.5 388.33v8.34M577.33 402.5h8.34M581.5 398.33v8.34M546.33 375.5h8.34M550.5 371.33v8.34M548.33 395.5h8.34M552.5 391.33v8.34M568.33 390.5h8.34M572.5 386.33v8.34M517.33 375.5h8.34M521.5 371.33v8.34M543.33 393.5h8.34M547.5 389.33v8.34M524.33 378.5h8.34M528.5 374.33v8.34M556.33 400.5h8.34M560.5 396.33v8.34M528.33 399.5h8.34M532.5 395.33v8.34M544.33 385.5h8.34M548.5 381.33v8.34M527.33 396.5h8.34M531.5 392.33v8.34M573.33 403.5h8.34M577.5 399.33v8.34M531.33 409.5h8.34M535.5 405.33v8.34M522.33 371.5h8.34M526.5 367.33v8.34M562.33 395.5h8.34M566.5 391.33v8.34M542.33 408.5h8.34M546.5 404.33v8.34M544.33 383.5h8.34M548.5 379.33v8.34M525.33 410.5h8.34M529.5 406.33v8.34M526.33 406.5h8.34M530.5 402.33v8.34M559.33 388.5h8.34M563.5 384.33v8.34M588.33 411.5h8.34M592.5 407.33v8.34M525.33 402.5h8.34M529.5 398.33v8.34M539.33 406.5h8.34M543.5 402.33v8.34M535.33 388.5h8.34M539.5 384.33v8.34M518.33 367.5h8.34M522.5 363.33v8.34M569.33 397.5h8.34M573.5 393.33v8.34M546.33 389.5h8.34M550.5 385.33v8.34M531.33 383.5h8.34M535.5 379.33v8.34M527.33 378.5h8.34M531.5 374.33v8.34M553.33 380.5h8.34M557.5 376.33v8.34M565.33 395.5h8.34M569.5 391.33v8.34M576.33 398.5h8.34M580.5 394.33v8.34M554.33 411.5h8.34M558.5 407.33v8.34M583.33 404.5h8.34M587.5 400.33v8.34M548.33 381.5h8.34M552.5 377.33v8.34M561.33 406.5h8.34M565.5 402.33v8.34M558.33 386.5h8.34M562.5 382.33v8.34M550.33 406.5h8.34M554.5 402.33v8.34M541.33 360.5h8.34M545.5 356.33v8.34M574.33 406.5h8.34M578.5 402.33v8.34M525.33 382.5h8.34M529.5 378.33v8.34M556.33 379.5h8.34M560.5 375.33v8.34M520.33 395.5h8.34M524.5 391.33v8.34M540.33 379.5h8.34M544.5 375.33v8.34M534.33 361.5h8.34M538.5 357.33v8.34M588.33 410.5h8.34M592.5 406.33v8.34M569.33 404.5h8.34M573.5 400.33v8.34M559.33 447.5h8.34M563.5 443.33v8.34M592.33 419.5h8.34M596.5 415.33v8.34M523.33 455.5h8.34M527.5 451.33v8.34M596.33 444.5h8.34M600.5 440.33v8.34M573.33 447.5h8.34M577.5 443.33v8.34M504.33 460.5h8.34M508.5 456.33v8.34M486.33 456.5h8.34M490.5 452.33v8.34M534.33 433.5h8.34M538.5 429.33v8.34M486.33 461.5h8.34M490.5 457.33v8.34M565.33 416.5h8.34M569.5 412.33v8.34M584.33 420.5h8.34M588.5 416.33v8.34M505.33 456.5h8.34M509.5 452.33v8.34M546.33 434.5h8.34M550.5 430.33v8.34M580.33 437.5h8.34M584.5 433.33v8.34M543.33 413.5h8.34M547.5 409.33v8.34M603.33 464.5h8.34M607.5 460.33v8.34M538.33 431.5h8.34M542.5 427.33v8.34M596.33 448.5h8.34M600.5 444.33v8.34M539.33 439.5h8.34M543.5 435.33v8.34M480.33 456.5h8.34M484.5 452.33v8.34M551.33 440.5h8.34M555.5 436.33v8.34M543.33 453.5h8.34M547.5 449.33v8.34M507.33 449.5h8.34M511.5 445.33v8.34M536.33 446.5h8.34M540.5 442.33v8.34M559.33 463.5h8.34M563.5 459.33v8.34M560.33 463.5h8.34M564.5 459.33v8.34M505.33 461.5h8.34M509.5 457.33v8.34M539.33 422.5h8.34M543.5 418.33v8.34M606.33 461.5h8.34M610.5 457.33v8.34M518.33 412.5h8.34M522.5 408.33v8.34M648.33 465.5h8.34M652.5 461.33v8.34M564.33 413.5h8.34M568.5 409.33v8.34M532.33 454.5h8.34M536.5 450.33v8.34M621.33 446.5h8.34M625.5 442.33v8.34M516.33 440.5h8.34M520.5 436.33v8.34M559.33 445.5h8.34M563.5 441.33v8.34M521.33 463.5h8.34M525.5 459.33v8.34M526.33 459.5h8.34M530.5 455.33v8.34M524.33 462.5h8.34M528.5 458.33v8.34M566.33 449.5h8.34M570.5 445.33v8.34M599.33 423.5h8.34M603.5 419.33v8.34M525.33 425.5h8.34M529.5 421.33v8.34M595.33 449.5h8.34M599.5 445.33v8.34M499.33 459.5h8.34M503.5 455.33v8.34M549.33 425.5h8.34M553.5 421.33v8.34M552.33 464.5h8.34M556.5 460.33v8.34M573.33 445.5h8.34M577.5 441.33v8.34M636.33 463.5h8.34M640.5 459.33v8.34M609.33 434.5h8.34M613.5 430.33v8.34M578.33 460.5h8.34M582.5 456.33v8.34M614.33 443.5h8.34M618.5 439.33v8.34M536.33 431.5h8.34M540.5 427.33v8.34M604.33 442.5h8.34M608.5 438.33v8.34M634.33 455.5h8.34M638.5 451.33v8.34M633.33 461.5h8.34M637.5 457.33v8.34M569.33 454.5h8.34M573.5 450.33v8.34M542.33 417.5h8.34M546.5 413.33v8.34M537.33 428.5h8.34M541.5 424.33v8.34M570.33 445.5h8.34M574.5 441.33v8.34M598.33 433.5h8.34M602.5 429.33v8.34M519.33 433.5h8.34M523.5 429.33v8.34M532.33 449.5h8.34M536.5 445.33v8.34M530.33 449.5h8.34M534.5 445.33v8.34M608.33 447.5h8.34M612.5 443.33v8.34M553.33 421.5h8.34M557.5 417.33v8.34M592.33 430.5h8.34M596.5 426.33v8.34M517.33 429.5h8.34M521.5 425.33v8.34M539.33 427.5h8.34M543.5 423.33v8.34M514.33 461.5h8.34M518.5 457.33v8.34M563.33 449.5h8.34M567.5 445.33v8.34M582.33 457.5h8.34M586.5 453.33v8.34M519.33 436.5h8.34M523.5 432.33v8.34M625.33 456.5h8.34M629.5 452.33v8.34M609.33 433.5h8.34M613.5 429.33v8.34M593.33 447.5h8.34M597.5 443.33v8.34M595.33 430.5h8.34M599.5 426.33v8.34M604.33 429.5h8.34M608.5 425.33v8.34M563.33 431.5h8.34M567.5 427.33v8.34M529.33 419.5h8.34M533.5 415.33v8.34M520.33 414.5h8.34M524.5 410.33v8.34M544.33 459.5h8.34M548.5 455.33v8.34M623.33 444.5h8.34M627.5 440.33v8.34M584.33 426.5h8.34M588.5 422.33v8.34M547.33 432.5h8.34M551.5 428.33v8.34M543.33 433.5h8.34M547.5 429.33v8.34M485.33 457.5h8.34M489.5 453.33v8.34M628.33 456.5h8.34M632.5 452.33v8.34M538.33 451.5h8.34M542.5 447.33v8.34M529.33 419.5h8.34M533.5 415.33v8.34M627.33 456.5h8.34M631.5 452.33v8.34M512.33 459.5h8.34M516.5 455.33v8.34M504.33 450.5h8.34M508.5 446.33v8.34M527.33 422.5h8.34M531.5 418.33v8.34M569.33 436.5h8.34M573.5 432.33v8.34M568.33 447.5h8.34M572.5 443.33v8.34M616.33 439.5h8.34M620.5 435.33v8.34M587.33 437.5h8.34M591.5 433.33v8.34M586.33 432.5h8.34M590.5 428.33v8.34M548.33 439.5h8.34M552.5 435.33v8.34M601.33 427.5h8.34M605.5 423.33v8.34M625.33 449.5h8.34M629.5 445.33v8.34M550.33 433.5h8.34M554.5 429.33v8.34M582.33 452.5h8.34M586.5 448.33v8.34M583.33 464.5h8.34M587.5 460.33v8.34M515.33 462.5h8.34M519.5 458.33v8.34M559.33 423.5h8.34M563.5 419.33v8.34M608.33 434.5h8.34M612.5 430.33v8.34M571.33 429.5h8.34M575.5 425.33v8.34M518.33 416.5h8.34M522.5 412.33v8.34M582.33 463.5h8.34M586.5 459.33v8.34M528.33 461.5h8.34M532.5 457.33v8.34M581.33 448.5h8.34M585.5 444.33v8.34M560.33 451.5h8.34M564.5 447.33v8.34M620.33 452.5h8.34M624.5 448.33v8.34M535.33 432.5h8.34M539.5 428.33v8.34M626.33 465.5h8.34M630.5 461.33v8.34M560.33 422.5h8.34M564.5 418.33v8.34M585.33 440.5h8.34M589.5 436.33v8.34M539.33 424.5h8.34M543.5 420.33v8.34M543.33 445.5h8.34M547.5 441.33v8.34M520.33 434.5h8.34M524.5 430.33v8.34M493.33 451.5h8.34M497.5 447.33v8.34M586.33 421.5h8.34M590.5 417.33v8.34M571.33 444.5h8.34M575.5 440.33v8.34M577.33 432.5h8.34M581.5 428.33v8.34M530.33 431.5h8.34M534.5 427.33v8.34M563.33 436.5h8.34M567.5 432.33v8.34M540.33 430.5h8.34M544.5 426.33v8.34M534.33 447.5h8.34M538.5 443.33v8.34M545.33 439.5h8.34M549.5 435.33v8.34M589.33 415.5h8.34M593.5 411.33v8.34M593.33 417.5h8.34M597.5 413.33v8.34M519.33 455.5h8.34M523.5 451.33v8.34M525.33 457.5h8.34M529.5 453.33v8.34M516.33 422.5h8.34M520.5 418.33v8.34M587.33 446.5h8.34M591.5 442.33v8.34M579.33 437.5h8.34M583.5 433.33v8.34M557.33 431.5h8.34M561.5 427.33v8.34M601.33 452.5h8.34M605.5 448.33v8.34M517.33 440.5h8.34M521.5 436.33v8.34M603.33 439.5h8.34M607.5 435.33v8.34M591.33 445.5h8.34M595.5 441.33v8.34M601.33 431.5h8.34M605.5 427.33v8.34M529.33 413.5h8.34M533.5 409.33v8.34M631.33 454.5h8.34M635.5 450.33v8.34M544.33 464.5h8.34M548.5 460.33v8.34M530.33 425.5h8.34M534.5 421.33v8.34M548.33 414.5h8.34M552.5 410.33v8.34M529.33 420.5h8.34M533.5 416.33v8.34M497.33 456.5h8.34M501.5 452.33v8.34M542.33 438.5h8.34M546.5 434.33v8.34M581.33 462.5h8.34M585.5 458.33v8.34M626.33 461.5h8.34M630.5 457.33v8.34M540.33 422.5h8.34M544.5 418.33v8.34M635.33 453.5h8.34M639.5 449.33v8.34M572.33 454.5h8.34M576.5 450.33v8.34M521.33 440.5h8.34M525.5 436.33v8.34M584.33 422.5h8.34M588.5 418.33v8.34M622.33 457.5h8.34M626.5 453.33v8.34M588.33 435.5h8.34M592.5 431.33v8.34M538.33 433.5h8.34M542.5 429.33v8.34M489.33 461.5h8.34M493.5 457.33v8.34M567.33 442.5h8.34M571.5 438.33v8.34M623.33 460.5h8.34M627.5 456.33v8.34M572.33 441.5h8.34M576.5 437.33v8.34M615.33 440.5h8.34M619.5 436.33v8.34M584.33 465.5h8.34M588.5 461.33v8.34M615.33 452.5h8.34M619.5 448.33v8.34M567.33 453.5h8.34M571.5 449.33v8.34M594.33 458.5h8.34M598.5 454.33v8.34M589.33 431.5h8.34M593.5 427.33v8.34M526.33 416.5h8.34M530.5 412.33v8.34M581.33 419.5h8.34M585.5 415.33v8.34M506.33 456.5h8.34M510.5 452.33v8.34M626.33 464.5h8.34M630.5 460.33v8.34M591.33 427.5h8.34M595.5 423.33v8.34M575.33 449.5h8.34M579.5 445.33v8.34M607.33 456.5h8.34M611.5 452.33v8.34M608.33 435.5h8.34M612.5 431.33v8.34M584.33 431.5h8.34M588.5 427.33v8.34M548.33 429.5h8.34M552.5 425.33v8.34M575.33 441.5h8.34M579.5 437.33v8.34M568.33 465.5h8.34M572.5 461.33v8.34M531.33 462.5h8.34M535.5 458.33v8.34M591.33 450.5h8.34M595.5 446.33v8.34M619.33 448.5h8.34M623.5 444.33v8.34M552.33 461.5h8.34M556.5 457.33v8.34M531.33 414.5h8.34M535.5 410.33v8.34M643.33 459.5h8.34M647.5 455.33v8.34M591.33 437.5h8.34M595.5 433.33v8.34M559.33 460.5h8.34M563.5 456.33v8.34M593.33 437.5h8.34M597.5 433.33v8.34M611.33 450.5h8.34M615.5 446.33v8.34M594.33 443.5h8.34M598.5 439.33v8.34M554.33 420.5h8.34M558.5 416.33v8.34M533.33 465.5h8.34M537.5 461.33v8.34M595.33 439.5h8.34M599.5 435.33v8.34M551.33 433.5h8.34M555.5 429.33v8.34M511.33 463.5h8.34M515.5 459.33v8.34M589.33 419.5h8.34M593.5 415.33v8.34M570.33 421.5h8.34M574.5 417.33v8.34M532.33 443.5h8.34M536.5 439.33v8.34M603.33 438.5h8.34M607.5 434.33v8.34M491.33 462.5h8.34M495.5 458.33v8.34M582.33 449.5h8.34M586.5 445.33v8.34M573.33 420.5h8.34M577.5 416.33v8.34M524.33 441.5h8.34M528.5 437.33v8.34M519.33 458.5h8.34M523.5 454.33v8.34M521.33 416.5h8.34M525.5 412.33v8.34M641.33 459.5h8.34M645.5 455.33v8.34M593.33 435.5h8.34M597.5 431.33v8.34M483.33 456.5h8.34M487.5 452.33v8.34M552.33 458.5h8.34M556.5 454.33v8.34M528.33 423.5h8.34M532.5 419.33v8.34M552.33 461.5h8.34M556.5 457.33v8.34M527.33 454.5h8.34M531.5 450.33v8.34M534.33 463.5h8.34M538.5 459.33v8.34M522.33 460.5h8.34M526.5 456.33v8.34M522.33 450.5h8.34M526.5 446.33v8.34M605.33 459.5h8.34M609.5 455.33v8.34M552.33 465.5h8.34M556.5 461.33v8.34M547.33 463.5h8.34M551.5 459.33v8.34M635.33 465.5h8.34M639.5 461.33v8.34M597.33 459.5h8.34M601.5 455.33v8.34M520.33 453.5h8.34M524.5 449.33v8.34M559.33 412.5h8.34M563.5 408.33v8.34M515.33 462.5h8.34M519.5 458.33v8.34M594.33 458.5h8.34M598.5 454.33v8.34M597.33 447.5h8.34M601.5 443.33v8.34M597.33 417.5h8.34M601.5 413.33v8.34M553.33 449.5h8.34M557.5 445.33v8.34M606.33 456.5h8.34M610.5 452.33v8.34M530.33 428.5h8.34M534.5 424.33v8.34M544.33 428.5h8.34M548.5 424.33v8.34M600.33 421.5h8.34M604.5 417.33v8.34M556.33 431.5h8.34M560.5 427.33v8.34M530.33 430.5h8.34M534.5 426.33v8.34M522.33 415.5h8.34M526.5 411.33v8.34M499.33 462.5h8.34M503.5 458.33v8.34M601.33 465.5h8.34M605.5 461.33v8.34M618.33 451.5h8.34M622.5 447.33v8.34M614.33 440.5h8.34M618.5 436.33v8.34M607.33 431.5h8.34M611.5 427.33v8.34M559.33 419.5h8.34M563.5 415.33v8.34M550.33 422.5h8.34M554.5 418.33v8.34M558.33 414.5h8.34M562.5 410.33v8.34M604.33 453.5h8.34M608.5 449.33v8.34M599.33 463.5h8.34M603.5 459.33v8.34M548.33 415.5h8.34M552.5 411.33v8.34M632.33 464.5h8.34M636.5 460.33v8.34M612.33 443.5h8.34M616.5 439.33v8.34M589.33 438.5h8.34M593.5 434.33v8.34M571.33 433.5h8.34M575.5 429.33v8.34M585.33 443.5h8.34M589.5 439.33v8.34M533.33 450.5h8.34M537.5 446.33v8.34M516.33 438.5h8.34M520.5 434.33v8.34M568.33 451.5h8.34M572.5 447.33v8.34M547.33 435.5h8.34M551.5 431.33v8.34M507.33 448.5h8.34M511.5 444.33v8.34M536.33 465.5h8.34M540.5 461.33v8.34M562.33 448.5h8.34M566.5 444.33v8.34M637.33 465.5h8.34M641.5 461.33v8.34M479.33 462.5h8.34M483.5 458.33v8.34M494.33 463.5h8.34M498.5 459.33v8.34M601.33 442.5h8.34M605.5 438.33v8.34M555.33 445.5h8.34M559.5 441.33v8.34M555.33 447.5h8.34M559.5 443.33v8.34M587.33 450.5h8.34M591.5 446.33v8.34M570.33 419.5h8.34M574.5 415.33v8.34M510.33 460.5h8.34M514.5 456.33v8.34M486.33 460.5h8.34M490.5 456.33v8.34M584.33 413.5h8.34M588.5 409.33v8.34M554.33 455.5h8.34M558.5 451.33v8.34M543.33 421.5h8.34M547.5 417.33v8.34M486.33 463.5h8.34M490.5 459.33v8.34M587.33 427.5h8.34M591.5 423.33v8.34M573.33 449.5h8.34M577.5 445.33v8.34M561.33 436.5h8.34M565.5 432.33v8.34M612.33 458.5h8.34M616.5 454.33v8.34M609.33 445.5h8.34M613.5 441.33v8.34M570.33 416.5h8.34M574.5 412.33v8.34M576.33 435.5h8.34M580.5 431.33v8.34M608.33 432.5h8.34M612.5 428.33v8.34M592.33 415.5h8.34M596.5 411.33v8.34M560.33 418.5h8.34M564.5 414.33v8.34M563.33 445.5h8.34M567.5 441.33v8.34M566.33 446.5h8.34M570.5 442.33v8.34M529.33 420.5h8.34M533.5 416.33v8.34M477.33 463.5h8.34M481.5 459.33v8.34M581.33 437.5h8.34M585.5 433.33v8.34M596.33 417.5h8.34M600.5 413.33v8.34M579.33 445.5h8.34M583.5 441.33v8.34M624.33 445.5h8.34M628.5 441.33v8.34M507.33 456.5h8.34M511.5 452.33v8.34M541.33 442.5h8.34M545.5 438.33v8.34M616.33 464.5h8.34M620.5 460.33v8.34M531.33 457.5h8.34M535.5 453.33v8.34M545.33 461.5h8.34M549.5 457.33v8.34M609.33 448.5h8.34M613.5 444.33v8.34M499.33 456.5h8.34M503.5 452.33v8.34M545.33 428.5h8.34M549.5 424.33v8.34M601.33 465.5h8.34M605.5 461.33v8.34M500.33 449.5h8.34M504.5 445.33v8.34M515.33 454.5h8.34M519.5 450.33v8.34M606.33 453.5h8.34M610.5 449.33v8.34M578.33 418.5h8.34M582.5 414.33v8.34M577.33 463.5h8.34M581.5 459.33v8.34M522.33 437.5h8.34M526.5 433.33v8.34M594.33 446.5h8.34M598.5 442.33v8.34M532.33 434.5h8.34M536.5 430.33v8.34M632.33 450.5h8.34M636.5 446.33v8.34M506.33 448.5h8.34M510.5 444.33v8.34M526.33 458.5h8.34M530.5 454.33v8.34M520.33 418.5h8.34M524.5 414.33v8.34M501.33 459.5h8.34M505.5 455.33v8.34M584.33 412.5h8.34M588.5 408.33v8.34M576.33 452.5h8.34M580.5 448.33v8.34M564.33 445.5h8.34M568.5 441.33v8.34M606.33 444.5h8.34M610.5 440.33v8.34M617.33 451.5h8.34M621.5 447.33v8.34M529.33 456.5h8.34M533.5 452.33v8.34M601.33 434.5h8.34M605.5 430.33v8.34M576.33 429.5h8.34M580.5 425.33v8.34M556.33 428.5h8.34M560.5 424.33v8.34M583.33 440.5h8.34M587.5 436.33v8.34M557.33 421.5h8.34M561.5 417.33v8.34M589.33 436.5h8.34M593.5 432.33v8.34M536.33 439.5h8.34M540.5 435.33v8.34M504.33 464.5h8.34M508.5 460.33v8.34M584.33 429.5h8.34M588.5 425.33v8.34M514.33 460.5h8.34M518.5 456.33v8.34M601.33 426.5h8.34M605.5 422.33v8.34M547.33 416.5h8.34M551.5 412.33v8.34M494.33 457.5h8.34M498.5 453.33v8.34M542.33 427.5h8.34M546.5 423.33v8.34M553.33 445.5h8.34M557.5 441.33v8.34M580.33 447.5h8.34M584.5 443.33v8.34M574.33 420.5h8.34M578.5 416.33v8.34M570.33 459.5h8.34M574.5 455.33v8.34M550.33 446.5h8.34M554.5 442.33v8.34M528.33 462.5h8.34M532.5 458.33v8.34M628.33 451.5h8.34M632.5 447.33v8.34M547.33 456.5h8.34M551.5 452.33v8.34M576.33 454.5h8.34M580.5 450.33v8.34M609.33 460.5h8.34M613.5 456.33v8.34M546.33 430.5h8.34M550.5 426.33v8.34M481.33 460.5h8.34M485.5 456.33v8.34M595.33 460.5h8.34M599.5 456.33v8.34M592.33 417.5h8.34M596.5 413.33v8.34M638.33 459.5h8.34M642.5 455.33v8.34M617.33 460.5h8.34M621.5 456.33v8.34M622.33 448.5h8.34M626.5 444.33v8.34M550.33 442.5h8.34M554.5 438.33v8.34M565.33 430.5h8.34M569.5 426.33v8.34M564.33 429.5h8.34M568.5 425.33v8.34M591.33 413.5h8.34M595.5 409.33v8.34M536.33 447.5h8.34M540.5 443.33v8.34M555.33 413.5h8.34M559.5 409.33v8.34M556.33 462.5h8.34M560.5 458.33v8.34M567.33 451.5h8.34M571.5 447.33v8.34M543.33 464.5h8.34M547.5 460.33v8.34M567.33 455.5h8.34M571.5 451.33v8.34M585.33 455.5h8.34M589.5 451.33v8.34M544.33 462.5h8.34M548.5 458.33v8.34M535.33 460.5h8.34M539.5 456.33v8.34M620.33 443.5h8.34M624.5 439.33v8.34M573.33 412.5h8.34M577.5 408.33v8.34M573.33 415.5h8.34M577.5 411.33v8.34M568.33 424.5h8.34M572.5 420.33v8.34M582.33 420.5h8.34M586.5 416.33v8.34M533.33 453.5h8.34M537.5 449.33v8.34M577.33 419.5h8.34M581.5 415.33v8.34M548.33 450.5h8.34M552.5 446.33v8.34M577.33 447.5h8.34M581.5 443.33v8.34M564.33 425.5h8.34M568.5 421.33v8.34M580.33 437.5h8.34M584.5 433.33v8.34M586.33 455.5h8.34M590.5 451.33v8.34M563.33 434.5h8.34M567.5 430.33v8.34M573.33 421.5h8.34M577.5 417.33v8.34M563.33 457.5h8.34M567.5 453.33v8.34M621.33 465.5h8.34M625.5 461.33v8.34M599.33 440.5h8.34M603.5 436.33v8.34M551.33 454.5h8.34M555.5 450.33v8.34M584.33 412.5h8.34M588.5 408.33v8.34M574.33 448.5h8.34M578.5 444.33v8.34M538.33 456.5h8.34M542.5 452.33v8.34M605.33 459.5h8.34M609.5 455.33v8.34M527.33 447.5h8.34M531.5 443.33v8.34M574.33 430.5h8.34M578.5 426.33v8.34M528.33 416.5h8.34M532.5 412.33v8.34M536.33 425.5h8.34M540.5 421.33v8.34M573.33 438.5h8.34M577.5 434.33v8.34M536.33 457.5h8.34M540.5 453.33v8.34M554.33 465.5h8.34M558.5 461.33v8.34M606.33 429.5h8.34M610.5 425.33v8.34M487.33 460.5h8.34M491.5 456.33v8.34M497.33 465.5h8.34M501.5 461.33v8.34M555.33 458.5h8.34M559.5 454.33v8.34M559.33 460.5h8.34M563.5 456.33v8.34M582.33 417.5h8.34M586.5 413.33v8.34M586.33 424.5h8.34M590.5 420.33v8.34M539.33 433.5h8.34M543.5 429.33v8.34M607.33 439.5h8.34M611.5 435.33v8.34M593.33 449.5h8.34M597.5 445.33v8.34M518.33 414.5h8.34M522.5 410.33v8.34M600.33 454.5h8.34M604.5 450.33v8.34M482.33 458.5h8.34M486.5 454.33v8.34M565.33 425.5h8.34M569.5 421.33v8.34M532.33 438.5h8.34M536.5 434.33v8.34M516.33 464.5h8.34M520.5 460.33v8.34M522.33 417.5h8.34M526.5 413.33v8.34M639.33 461.5h8.34M643.5 457.33v8.34M535.33 412.5h8.34M539.5 408.33v8.34M562.33 458.5h8.34M566.5 454.33v8.34M553.33 426.5h8.34M557.5 422.33v8.34M544.33 419.5h8.34M548.5 415.33v8.34M560.33 449.5h8.34M564.5 445.33v8.34M531.33 446.5h8.34M535.5 442.33v8.34M617.33 450.5h8.34M621.5 446.33v8.34M585.33 442.5h8.34M589.5 438.33v8.34M537.33 457.5h8.34M541.5 453.33v8.34M566.33 456.5h8.34M570.5 452.33v8.34M604.33 430.5h8.34M608.5 426.33v8.34M583.33 457.5h8.34M587.5 453.33v8.34M549.33 451.5h8.34M553.5 447.33v8.34M544.33 433.5h8.34M548.5 429.33v8.34M530.33 441.5h8.34M534.5 437.33v8.34M541.33 428.5h8.34M545.5 424.33v8.34M624.33 452.5h8.34M628.5 448.33v8.34M553.33 426.5h8.34M557.5 422.33v8.34M565.33 447.5h8.34M569.5 443.33v8.34M609.33 447.5h8.34M613.5 443.33v8.34M565.33 418.5h8.34M569.5 414.33v8.34M613.33 456.5h8.34M617.5 452.33v8.34M530.33 426.5h8.34M534.5 422.33v8.34M565.33 436.5h8.34M569.5 432.33v8.34M517.33 456.5h8.34M521.5 452.33v8.34M562.33 431.5h8.34M566.5 427.33v8.34M632.33 452.5h8.34M636.5 448.33v8.34M589.33 449.5h8.34M593.5 445.33v8.34M520.33 451.5h8.34M524.5 447.33v8.34M543.33 453.5h8.34M547.5 449.33v8.34M556.33 436.5h8.34M560.5 432.33v8.34M508.33 450.5h8.34M512.5 446.33v8.34M508.33 462.5h8.34M512.5 458.33v8.34M569.33 431.5h8.34M573.5 427.33v8.34M612.33 434.5h8.34M616.5 430.33v8.34M521.33 420.5h8.34M525.5 416.33v8.34M595.33 423.5h8.34M599.5 419.33v8.34M553.33 452.5h8.34M557.5 448.33v8.34M589.33 427.5h8.34M593.5 423.33v8.34M537.33 455.5h8.34M541.5 451.33v8.34M599.33 439.5h8.34M603.5 435.33v8.34M572.33 461.5h8.34M576.5 457.33v8.34M532.33 452.5h8.34M536.5 448.33v8.34M602.33 451.5h8.34M606.5 447.33v8.34M541.33 419.5h8.34M545.5 415.33v8.34M557.33 428.5h8.34M561.5 424.33v8.34M583.33 446.5h8.34M587.5 442.33v8.34M523.33 456.5h8.34M527.5 452.33v8.34M567.33 451.5h8.34M571.5 447.33v8.34M556.33 434.5h8.34M560.5 430.33v8.34M481.33 457.5h8.34M485.5 453.33v8.34M513.33 446.5h8.34M517.5 442.33v8.34M595.33 427.5h8.34M599.5 423.33v8.34M541.33 460.5h8.34M545.5 456.33v8.34M521.33 444.5h8.34M525.5 440.33v8.34M560.33 419.5h8.34M564.5 415.33v8.34M573.33 418.5h8.34M577.5 414.33v8.34M521.33 454.5h8.34M525.5 450.33v8.34M574.33 446.5h8.34M578.5 442.33v8.34M524.33 433.5h8.34M528.5 429.33v8.34M534.33 445.5h8.34M538.5 441.33v8.34M635.33 455.5h8.34M639.5 451.33v8.34M567.33 420.5h8.34M571.5 416.33v8.34M619.33 454.5h8.34M623.5 450.33v8.34M598.33 451.5h8.34M602.5 447.33v8.34M584.33 412.5h8.34M588.5 408.33v8.34M548.33 431.5h8.34M552.5 427.33v8.34M511.33 448.5h8.34M515.5 444.33v8.34M502.33 464.5h8.34M506.5 460.33v8.34M637.33 465.5h8.34M641.5 461.33v8.34M584.33 421.5h8.34M588.5 417.33v8.34M511.33 450.5h8.34M515.5 446.33v8.34M552.33 450.5h8.34M556.5 446.33v8.34M592.33 414.5h8.34M596.5 410.33v8.34M518.33 415.5h8.34M522.5 411.33v8.34M618.33 455.5h8.34M622.5 451.33v8.34M592.33 451.5h8.34M596.5 447.33v8.34M523.33 427.5h8.34M527.5 423.33v8.34M552.33 430.5h8.34M556.5 426.33v8.34M603.33 458.5h8.34M607.5 454.33v8.34M591.33 414.5h8.34M595.5 410.33v8.34M615.33 453.5h8.34M619.5 449.33v8.34M573.33 422.5h8.34M577.5 418.33v8.34M520.33 434.5h8.34M524.5 430.33v8.34M574.33 425.5h8.34M578.5 421.33v8.34M572.33 435.5h8.34M576.5 431.33v8.34M514.33 446.5h8.34M518.5 442.33v8.34M531.33 413.5h8.34M535.5 409.33v8.34M518.33 434.5h8.34M522.5 430.33v8.34M584.33 415.5h8.34M588.5 411.33v8.34M529.33 430.5h8.34M533.5 426.33v8.34M593.33 416.5h8.34M597.5 412.33v8.34M512.33 456.5h8.34M516.5 452.33v8.34M539.33 448.5h8.34M543.5 444.33v8.34M534.33 423.5h8.34M538.5 419.33v8.34M626.33 458.5h8.34M630.5 454.33v8.34M540.33 423.5h8.34M544.5 419.33v8.34M546.33 459.5h8.34M550.5 455.33v8.34M639.33 463.5h8.34M643.5 459.33v8.34M607.33 457.5h8.34M611.5 453.33v8.34M541.33 451.5h8.34M545.5 447.33v8.34M603.33 460.5h8.34M607.5 456.33v8.34M539.33 457.5h8.34M543.5 453.33v8.34M541.33 442.5h8.34M545.5 438.33v8.34M570.33 452.5h8.34M574.5 448.33v8.34M596.33 425.5h8.34M600.5 421.33v8.34M568.33 414.5h8.34M572.5 410.33v8.34M639.33 461.5h8.34M643.5 457.33v8.34M568.33 452.5h8.34M572.5 448.33v8.34M585.33 435.5h8.34M589.5 431.33v8.34M589.33 450.5h8.34M593.5 446.33v8.34M560.33 426.5h8.34M564.5 422.33v8.34M586.33 455.5h8.34M590.5 451.33v8.34M549.33 420.5h8.34M553.5 416.33v8.34M533.33 415.5h8.34M537.5 411.33v8.34M620.33 442.5h8.34M624.5 438.33v8.34M552.33 458.5h8.34M556.5 454.33v8.34M516.33 444.5h8.34M520.5 440.33v8.34M493.33 455.5h8.34M497.5 451.33v8.34M517.33 433.5h8.34M521.5 429.33v8.34M540.33 453.5h8.34M544.5 449.33v8.34M611.33 459.5h8.34M615.5 455.33v8.34M517.33 426.5h8.34M521.5 422.33v8.34M517.33 446.5h8.34M521.5 442.33v8.34M546.33 420.5h8.34M550.5 416.33v8.34M607.33 460.5h8.34M611.5 456.33v8.34M563.33 420.5h8.34M567.5 416.33v8.34M582.33 459.5h8.34M586.5 455.33v8.34M545.33 441.5h8.34M549.5 437.33v8.34M542.33 459.5h8.34M546.5 455.33v8.34M594.33 434.5h8.34M598.5 430.33v8.34M534.33 458.5h8.34M538.5 454.33v8.34M520.33 415.5h8.34M524.5 411.33v8.34M495.33 455.5h8.34M499.5 451.33v8.34M563.33 463.5h8.34M567.5 459.33v8.34M534.33 419.5h8.34M538.5 415.33v8.34M507.33 452.5h8.34M511.5 448.33v8.34M564.33 457.5h8.34M568.5 453.33v8.34M491.33 457.5h8.34M495.5 453.33v8.34M569.33 454.5h8.34M573.5 450.33v8.34M538.33 413.5h8.34M542.5 409.33v8.34M535.33 459.5h8.34M539.5 455.33v8.34M605.33 465.5h8.34M609.5 461.33v8.34M566.33 439.5h8.34M570.5 435.33v8.34M598.33 423.5h8.34M602.5 419.33v8.34M532.33 454.5h8.34M536.5 450.33v8.34M489.33 461.5h8.34M493.5 457.33v8.34M601.33 462.5h8.34M605.5 458.33v8.34M624.33 444.5h8.34M628.5 440.33v8.34M546.33 417.5h8.34M550.5 413.33v8.34M635.33 454.5h8.34M639.5 450.33v8.34M531.33 427.5h8.34M535.5 423.33v8.34M599.33 455.5h8.34M603.5 451.33v8.34M522.33 448.5h8.34M526.5 444.33v8.34M580.33 447.5h8.34M584.5 443.33v8.34M504.33 454.5h8.34M508.5 450.33v8.34M581.33 460.5h8.34M585.5 456.33v8.34M596.33 458.5h8.34M600.5 454.33v8.34M625.33 448.5h8.34M629.5 444.33v8.34M637.33 464.5h8.34M641.5 460.33v8.34M526.33 436.5h8.34M530.5 432.33v8.34M571.33 437.5h8.34M575.5 433.33v8.34M637.33 465.5h8.34M641.5 461.33v8.34M542.33 421.5h8.34M546.5 417.33v8.34M592.33 436.5h8.34M596.5 432.33v8.34M627.33 464.5h8.34M631.5 460.33v8.34M587.33 465.5h8.34M591.5 461.33v8.34M549.33 435.5h8.34M553.5 431.33v8.34M629.33 452.5h8.34M633.5 448.33v8.34M546.33 462.5h8.34M550.5 458.33v8.34M521.33 447.5h8.34M525.5 443.33v8.34M602.33 423.5h8.34M606.5 419.33v8.34M539.33 433.5h8.34M543.5 429.33v8.34M516.33 451.5h8.34M520.5 447.33v8.34M561.33 419.5h8.34M565.5 415.33v8.34M524.33 432.5h8.34M528.5 428.33v8.34M524.33 420.5h8.34M528.5 416.33v8.34M572.33 450.5h8.34M576.5 446.33v8.34M529.33 412.5h8.34M533.5 408.33v8.34M503.33 449.5h8.34M507.5 445.33v8.34M586.33 426.5h8.34M590.5 422.33v8.34M487.33 458.5h8.34M491.5 454.33v8.34M494.33 454.5h8.34M498.5 450.33v8.34M517.33 447.5h8.34M521.5 443.33v8.34M602.33 446.5h8.34M606.5 442.33v8.34M505.33 460.5h8.34M509.5 456.33v8.34M540.33 423.5h8.34M544.5 419.33v8.34M550.33 426.5h8.34M554.5 422.33v8.34M559.33 452.5h8.34M563.5 448.33v8.34M497.33 465.5h8.34M501.5 461.33v8.34M564.33 457.5h8.34M568.5 453.33v8.34M555.33 432.5h8.34M559.5 428.33v8.34M574.33 415.5h8.34M578.5 411.33v8.34M505.33 461.5h8.34M509.5 457.33v8.34M544.33 454.5h8.34M548.5 450.33v8.34M580.33 450.5h8.34M584.5 446.33v8.34M602.33 426.5h8.34M606.5 422.33v8.34M512.33 452.5h8.34M516.5 448.33v8.34M577.33 441.5h8.34M581.5 437.33v8.34M554.33 424.5h8.34M558.5 420.33v8.34M610.33 456.5h8.34M614.5 452.33v8.34M637.33 460.5h8.34M641.5 456.33v8.34M612.33 448.5h8.34M616.5 444.33v8.34M534.33 453.5h8.34M538.5 449.33v8.34M549.33 417.5h8.34M553.5 413.33v8.34M541.33 426.5h8.34M545.5 422.33v8.34M593.33 425.5h8.34M597.5 421.33v8.34M518.33 455.5h8.34M522.5 451.33v8.34M545.33 453.5h8.34M549.5 449.33v8.34M564.33 458.5h8.34M568.5 454.33v8.34M564.33 459.5h8.34M568.5 455.33v8.34M535.33 415.5h8.34M539.5 411.33v8.34M527.33 448.5h8.34M531.5 444.33v8.34M565.33 424.5h8.34M569.5 420.33v8.34M524.33 413.5h8.34M528.5 409.33v8.34M599.33 451.5h8.34M603.5 447.33v8.34M601.33 440.5h8.34M605.5 436.33v8.34M535.33 426.5h8.34M539.5 422.33v8.34M621.33 459.5h8.34M625.5 455.33v8.34M624.33 460.5h8.34M628.5 456.33v8.34M582.33 457.5h8.34M586.5 453.33v8.34M585.33 460.5h8.34M589.5 456.33v8.34M525.33 446.5h8.34M529.5 442.33v8.34M532.33 444.5h8.34M536.5 440.33v8.34M603.33 450.5h8.34M607.5 446.33v8.34M578.33 434.5h8.34M582.5 430.33v8.34M624.33 458.5h8.34M628.5 454.33v8.34M510.33 451.5h8.34M514.5 447.33v8.34M540.33 432.5h8.34M544.5 428.33v8.34M573.33 461.5h8.34M577.5 457.33v8.34M526.33 428.5h8.34M530.5 424.33v8.34M563.33 420.5h8.34M567.5 416.33v8.34M565.33 414.5h8.34M569.5 410.33v8.34M591.33 437.5h8.34M595.5 433.33v8.34M531.33 463.5h8.34M535.5 459.33v8.34M589.33 458.5h8.34M593.5 454.33v8.34M581.33 449.5h8.34M585.5 445.33v8.34M519.33 439.5h8.34M523.5 435.33v8.34M513.33 447.5h8.34M517.5 443.33v8.34M554.33 461.5h8.34M558.5 457.33v8.34M580.33 451.5h8.34M584.5 447.33v8.34M494.33 465.5h8.34M498.5 461.33v8.34M595.33 449.5h8.34M599.5 445.33v8.34M535.33 427.5h8.34M539.5 423.33v8.34M536.33 426.5h8.34M540.5 422.33v8.34M511.33 459.5h8.34M515.5 455.33v8.34M585.33 440.5h8.34M589.5 436.33v8.34M581.33 420.5h8.34M585.5 416.33v8.34M625.33 445.5h8.34M629.5 441.33v8.34M509.33 453.5h8.34M513.5 449.33v8.34M613.33 456.5h8.34M617.5 452.33v8.34M520.33 461.5h8.34M524.5 457.33v8.34M568.33 414.5h8.34M572.5 410.33v8.34M558.33 456.5h8.34M562.5 452.33v8.34M554.33 426.5h8.34M558.5 422.33v8.34M508.33 454.5h8.34M512.5 450.33v8.34M566.33 413.5h8.34M570.5 409.33v8.34M555.33 419.5h8.34M559.5 415.33v8.34M546.33 419.5h8.34M550.5 415.33v8.34M494.33 454.5h8.34M498.5 450.33v8.34M575.33 452.5h8.34M579.5 448.33v8.34M554.33 451.5h8.34M558.5 447.33v8.34M541.33 447.5h8.34M545.5 443.33v8.34M523.33 419.5h8.34M527.5 415.33v8.34M596.33 462.5h8.34M600.5 458.33v8.34M583.33 424.5h8.34M587.5 420.33v8.34M554.33 432.5h8.34M558.5 428.33v8.34M530.33 444.5h8.34M534.5 440.33v8.34M554.33 423.5h8.34M558.5 419.33v8.34M531.33 458.5h8.34M535.5 454.33v8.34M502.33 459.5h8.34M506.5 455.33v8.34M532.33 423.5h8.34M536.5 419.33v8.34M562.33 459.5h8.34M566.5 455.33v8.34M576.33 421.5h8.34M580.5 417.33v8.34M616.33 452.5h8.34M620.5 448.33v8.34M642.33 463.5h8.34M646.5 459.33v8.34M588.33 448.5h8.34M592.5 444.33v8.34M619.33 459.5h8.34M623.5 455.33v8.34M532.33 456.5h8.34M536.5 452.33v8.34M575.33 445.5h8.34M579.5 441.33v8.34M540.33 444.5h8.34M544.5 440.33v8.34M552.33 424.5h8.34M556.5 420.33v8.34M583.33 424.5h8.34M587.5 420.33v8.34M554.33 457.5h8.34M558.5 453.33v8.34M587.33 429.5h8.34M591.5 425.33v8.34M587.33 453.5h8.34M591.5 449.33v8.34M638.33 462.5h8.34M642.5 458.33v8.34M569.33 425.5h8.34M573.5 421.33v8.34M534.33 459.5h8.34M538.5 455.33v8.34M586.33 442.5h8.34M590.5 438.33v8.34M545.33 443.5h8.34M549.5 439.33v8.34M503.33 455.5h8.34M507.5 451.33v8.34M593.33 430.5h8.34M597.5 426.33v8.34M532.33 430.5h8.34M536.5 426.33v8.34M621.33 443.5h8.34M625.5 439.33v8.34M525.33 435.5h8.34M529.5 431.33v8.34M598.33 464.5h8.34M602.5 460.33v8.34M629.33 458.5h8.34M633.5 454.33v8.34M522.33 462.5h8.34M526.5 458.33v8.34M537.33 430.5h8.34M541.5 426.33v8.34M533.33 461.5h8.34M537.5 457.33v8.34M533.33 455.5h8.34M537.5 451.33v8.34M518.33 452.5h8.34M522.5 448.33v8.34M596.33 456.5h8.34M600.5 452.33v8.34M516.33 446.5h8.34M520.5 442.33v8.34M528.33 415.5h8.34M532.5 411.33v8.34M588.33 432.5h8.34M592.5 428.33v8.34M610.33 449.5h8.34M614.5 445.33v8.34M511.33 463.5h8.34M515.5 459.33v8.34M547.33 434.5h8.34M551.5 430.33v8.34M597.33 458.5h8.34M601.5 454.33v8.34M626.33 452.5h8.34M630.5 448.33v8.34M554.33 418.5h8.34M558.5 414.33v8.34M592.33 440.5h8.34M596.5 436.33v8.34M561.33 420.5h8.34M565.5 416.33v8.34M545.33 426.5h8.34M549.5 422.33v8.34M552.33 433.5h8.34M556.5 429.33v8.34M513.33 452.5h8.34M517.5 448.33v8.34M637.33 460.5h8.34M641.5 456.33v8.34M603.33 442.5h8.34M607.5 438.33v8.34M544.33 415.5h8.34M548.5 411.33v8.34M529.33 422.5h8.34M533.5 418.33v8.34M633.33 460.5h8.34M637.5 456.33v8.34M570.33 460.5h8.34M574.5 456.33v8.34M546.33 447.5h8.34M550.5 443.33v8.34M595.33 464.5h8.34M599.5 460.33v8.34M598.33 427.5h8.34M602.5 423.33v8.34M568.33 455.5h8.34M572.5 451.33v8.34M618.33 463.5h8.34M622.5 459.33v8.34M554.33 417.5h8.34M558.5 413.33v8.34M518.33 417.5h8.34M522.5 413.33v8.34M602.33 463.5h8.34M606.5 459.33v8.34M601.33 457.5h8.34M605.5 453.33v8.34M586.33 438.5h8.34M590.5 434.33v8.34M553.33 413.5h8.34M557.5 409.33v8.34M557.33 445.5h8.34M561.5 441.33v8.34M554.33 435.5h8.34M558.5 431.33v8.34M605.33 427.5h8.34M609.5 423.33v8.34M543.33 435.5h8.34M547.5 431.33v8.34M591.33 416.5h8.34M595.5 412.33v8.34M578.33 457.5h8.34M582.5 453.33v8.34M615.33 450.5h8.34M619.5 446.33v8.34M533.33 465.5h8.34M537.5 461.33v8.34M516.33 449.5h8.34M520.5 445.33v8.34M638.33 464.5h8.34M642.5 460.33v8.34M639.33 460.5h8.34M643.5 456.33v8.34M595.33 448.5h8.34M599.5 444.33v8.34M575.33 430.5h8.34M579.5 426.33v8.34M618.33 451.5h8.34M622.5 447.33v8.34M598.33 443.5h8.34M602.5 439.33v8.34M610.33 450.5h8.34M614.5 446.33v8.34M566.33 439.5h8.34M570.5 435.33v8.34M532.33 421.5h8.34M536.5 417.33v8.34M561.33 432.5h8.34M565.5 428.33v8.34M534.33 432.5h8.34M538.5 428.33v8.34M584.33 448.5h8.34M588.5 444.33v8.34M605.33 436.5h8.34M609.5 432.33v8.34M627.33 451.5h8.34M631.5 447.33v8.34M585.33 462.5h8.34M589.5 458.33v8.34M519.33 451.5h8.34M523.5 447.33v8.34M520.33 452.5h8.34M524.5 448.33v8.34M583.33 428.5h8.34M587.5 424.33v8.34M607.33 447.5h8.34M611.5 443.33v8.34M574.33 414.5h8.34M578.5 410.33v8.34M547.33 417.5h8.34M551.5 413.33v8.34M552.33 428.5h8.34M556.5 424.33v8.34M588.33 434.5h8.34M592.5 430.33v8.34M546.33 421.5h8.34M550.5 417.33v8.34M596.33 427.5h8.34M600.5 423.33v8.34M546.33 429.5h8.34M550.5 425.33v8.34M566.33 423.5h8.34M570.5 419.33v8.34M506.33 455.5h8.34M510.5 451.33v8.34M586.33 454.5h8.34M590.5 450.33v8.34M603.33 427.5h8.34M607.5 423.33v8.34M595.33 432.5h8.34M599.5 428.33v8.34M604.33 456.5h8.34M608.5 452.33v8.34M496.33 450.5h8.34M500.5 446.33v8.34M546.33 445.5h8.34M550.5 441.33v8.34M574.33 437.5h8.34M578.5 433.33v8.34M586.33 450.5h8.34M590.5 446.33v8.34M541.33 444.5h8.34M545.5 440.33v8.34M619.33 463.5h8.34M623.5 459.33v8.34M555.33 419.5h8.34M559.5 415.33v8.34M523.33 438.5h8.34M527.5 434.33v8.34M607.33 444.5h8.34M611.5 440.33v8.34M622.33 465.5h8.34M626.5 461.33v8.34M532.33 431.5h8.34M536.5 427.33v8.34M488.33 464.5h8.34M492.5 460.33v8.34M610.33 452.5h8.34M614.5 448.33v8.34M597.33 441.5h8.34M601.5 437.33v8.34M520.33 434.5h8.34M524.5 430.33v8.34M533.33 445.5h8.34M537.5 441.33v8.34M519.33 458.5h8.34M523.5 454.33v8.34M541.33 417.5h8.34M545.5 413.33v8.34M558.33 465.5h8.34M562.5 461.33v8.34M587.33 430.5h8.34M591.5 426.33v8.34M495.33 458.5h8.34M499.5 454.33v8.34M580.33 445.5h8.34M584.5 441.33v8.34M520.33 454.5h8.34M524.5 450.33v8.34M545.33 424.5h8.34M549.5 420.33v8.34M529.33 421.5h8.34M533.5 417.33v8.34M556.33 447.5h8.34M560.5 443.33v8.34M552.33 412.5h8.34M556.5 408.33v8.34M530.33 446.5h8.34M534.5 442.33v8.34M528.33 449.5h8.34M532.5 445.33v8.34M522.33 415.5h8.34M526.5 411.33v8.34M526.33 423.5h8.34M530.5 419.33v8.34M598.33 416.5h8.34M602.5 412.33v8.34M558.33 414.5h8.34M562.5 410.33v8.34M603.33 448.5h8.34M607.5 444.33v8.34M571.33 426.5h8.34M575.5 422.33v8.34M609.33 445.5h8.34M613.5 441.33v8.34M613.33 458.5h8.34M617.5 454.33v8.34M596.33 454.5h8.34M600.5 450.33v8.34M588.33 437.5h8.34M592.5 433.33v8.34M570.33 416.5h8.34M574.5 412.33v8.34M595.33 455.5h8.34M599.5 451.33v8.34M620.33 456.5h8.34M624.5 452.33v8.34M550.33 447.5h8.34M554.5 443.33v8.34M574.33 458.5h8.34M578.5 454.33v8.34M506.33 450.5h8.34M510.5 446.33v8.34M638.33 463.5h8.34M642.5 459.33v8.34M584.33 461.5h8.34M588.5 457.33v8.34M512.33 462.5h8.34M516.5 458.33v8.34M485.33 453.5h8.34M489.5 449.33v8.34M554.33 465.5h8.34M558.5 461.33v8.34M570.33 439.5h8.34M574.5 435.33v8.34M477.33 461.5h8.34M481.5 457.33v8.34M549.33 433.5h8.34M553.5 429.33v8.34M544.33 453.5h8.34M548.5 449.33v8.34M568.33 414.5h8.34M572.5 410.33v8.34M517.33 459.5h8.34M521.5 455.33v8.34M602.33 423.5h8.34M606.5 419.33v8.34M615.33 453.5h8.34M619.5 449.33v8.34M503.33 450.5h8.34M507.5 446.33v8.34M625.33 451.5h8.34M629.5 447.33v8.34M599.33 455.5h8.34M603.5 451.33v8.34M584.33 418.5h8.34M588.5 414.33v8.34M571.33 431.5h8.34M575.5 427.33v8.34M580.33 431.5h8.34M584.5 427.33v8.34M529.33 440.5h8.34M533.5 436.33v8.34M523.33 462.5h8.34M527.5 458.33v8.34M514.33 452.5h8.34M518.5 448.33v8.34M549.33 455.5h8.34M553.5 451.33v8.34M480.33 454.5h8.34M484.5 450.33v8.34M585.33 458.5h8.34M589.5 454.33v8.34M624.33 455.5h8.34M628.5 451.33v8.34M517.33 445.5h8.34M521.5 441.33v8.34M593.33 416.5h8.34M597.5 412.33v8.34M494.33 464.5h8.34M498.5 460.33v8.34M573.33 415.5h8.34M577.5 411.33v8.34M598.33 416.5h8.34M602.5 412.33v8.34M541.33 432.5h8.34M545.5 428.33v8.34M522.33 438.5h8.34M526.5 434.33v8.34M610.33 464.5h8.34M614.5 460.33v8.34M577.33 415.5h8.34M581.5 411.33v8.34M552.33 429.5h8.34M556.5 425.33v8.34M554.33 412.5h8.34M558.5 408.33v8.34M522.33 465.5h8.34M526.5 461.33v8.34M586.33 442.5h8.34M590.5 438.33v8.34M582.33 422.5h8.34M586.5 418.33v8.34M534.33 422.5h8.34M538.5 418.33v8.34M624.33 455.5h8.34M628.5 451.33v8.34M544.33 438.5h8.34M548.5 434.33v8.34M509.33 464.5h8.34M513.5 460.33v8.34M515.33 455.5h8.34M519.5 451.33v8.34M593.33 419.5h8.34M597.5 415.33v8.34M627.33 447.5h8.34M631.5 443.33v8.34M558.33 451.5h8.34M562.5 447.33v8.34M617.33 461.5h8.34M621.5 457.33v8.34M549.33 432.5h8.34M553.5 428.33v8.34M590.33 437.5h8.34M594.5 433.33v8.34M542.33 463.5h8.34M546.5 459.33v8.34M526.33 413.5h8.34M530.5 409.33v8.34M527.33 414.5h8.34M531.5 410.33v8.34M586.33 426.5h8.34M590.5 422.33v8.34M565.33 426.5h8.34M569.5 422.33v8.34M539.33 435.5h8.34M543.5 431.33v8.34M597.33 448.5h8.34M601.5 444.33v8.34M521.33 456.5h8.34M525.5 452.33v8.34M496.33 464.5h8.34M500.5 460.33v8.34M545.33 463.5h8.34M549.5 459.33v8.34M567.33 463.5h8.34M571.5 459.33v8.34M602.33 452.5h8.34M606.5 448.33v8.34M553.33 449.5h8.34M557.5 445.33v8.34M593.33 449.5h8.34M597.5 445.33v8.34M485.33 452.5h8.34M489.5 448.33v8.34M550.33 464.5h8.34M554.5 460.33v8.34M571.33 426.5h8.34M575.5 422.33v8.34M599.33 429.5h8.34M603.5 425.33v8.34M572.33 423.5h8.34M576.5 419.33v8.34M642.33 460.5h8.34M646.5 456.33v8.34M545.33 417.5h8.34M549.5 413.33v8.34M518.33 452.5h8.34M522.5 448.33v8.34M618.33 454.5h8.34M622.5 450.33v8.34M582.33 434.5h8.34M586.5 430.33v8.34M645.33 460.5h8.34M649.5 456.33v8.34M523.33 438.5h8.34M527.5 434.33v8.34M574.33 439.5h8.34M578.5 435.33v8.34M552.33 418.5h8.34M556.5 414.33v8.34M637.33 454.5h8.34M641.5 450.33v8.34M517.33 442.5h8.34M521.5 438.33v8.34M599.33 455.5h8.34M603.5 451.33v8.34M552.33 462.5h8.34M556.5 458.33v8.34M536.33 453.5h8.34M540.5 449.33v8.34M615.33 461.5h8.34M619.5 457.33v8.34M570.33 456.5h8.34M574.5 452.33v8.34M605.33 452.5h8.34M609.5 448.33v8.34M542.33 434.5h8.34M546.5 430.33v8.34M557.33 438.5h8.34M561.5 434.33v8.34M571.33 465.5h8.34M575.5 461.33v8.34M605.33 455.5h8.34M609.5 451.33v8.34M576.33 463.5h8.34M580.5 459.33v8.34M518.33 422.5h8.34M522.5 418.33v8.34M629.33 452.5h8.34M633.5 448.33v8.34M484.33 453.5h8.34M488.5 449.33v8.34M597.33 437.5h8.34M601.5 433.33v8.34M533.33 426.5h8.34M537.5 422.33v8.34M537.33 412.5h8.34M541.5 408.33v8.34M595.33 450.5h8.34M599.5 446.33v8.34M559.33 445.5h8.34M563.5 441.33v8.34M479.33 458.5h8.34M483.5 454.33v8.34M548.33 446.5h8.34M552.5 442.33v8.34M524.33 435.5h8.34M528.5 431.33v8.34M635.33 465.5h8.34M639.5 461.33v8.34M594.33 455.5h8.34M598.5 451.33v8.34M505.33 462.5h8.34M509.5 458.33v8.34M619.33 460.5h8.34M623.5 456.33v8.34M538.33 430.5h8.34M542.5 426.33v8.34M647.33 457.5h8.34M651.5 453.33v8.34M609.33 424.5h8.34M613.5 420.33v8.34M607.33 424.5h8.34M611.5 420.33v8.34M635.33 423.5h8.34M639.5 419.33v8.34M618.33 435.5h8.34M622.5 431.33v8.34M658.33 444.5h8.34M662.5 440.33v8.34M656.33 455.5h8.34M660.5 451.33v8.34M657.33 452.5h8.34M661.5 448.33v8.34M667.33 454.5h8.34M671.5 450.33v8.34M638.33 435.5h8.34M642.5 431.33v8.34M623.33 435.5h8.34M627.5 431.33v8.34M619.33 418.5h8.34M623.5 414.33v8.34M657.33 455.5h8.34M661.5 451.33v8.34M637.33 452.5h8.34M641.5 448.33v8.34M629.33 421.5h8.34M633.5 417.33v8.34M641.33 433.5h8.34M645.5 429.33v8.34M613.33 424.5h8.34M617.5 420.33v8.34M610.33 431.5h8.34M614.5 427.33v8.34M649.33 462.5h8.34M653.5 458.33v8.34M656.33 457.5h8.34M660.5 453.33v8.34M662.33 455.5h8.34M666.5 451.33v8.34M641.33 451.5h8.34M645.5 447.33v8.34M639.33 443.5h8.34M643.5 439.33v8.34M621.33 427.5h8.34M625.5 423.33v8.34M604.33 424.5h8.34M608.5 420.33v8.34M637.33 441.5h8.34M641.5 437.33v8.34M621.33 417.5h8.34M625.5 413.33v8.34M634.33 437.5h8.34M638.5 433.33v8.34M664.33 451.5h8.34M668.5 447.33v8.34M640.33 431.5h8.34M644.5 427.33v8.34M614.33 427.5h8.34M618.5 423.33v8.34M611.33 430.5h8.34M615.5 426.33v8.34M632.33 441.5h8.34M636.5 437.33v8.34M620.33 427.5h8.34M624.5 423.33v8.34M628.33 419.5h8.34M632.5 415.33v8.34M618.33 432.5h8.34M622.5 428.33v8.34M623.33 435.5h8.34M627.5 431.33v8.34M661.33 465.5h8.34M665.5 461.33v8.34M631.33 432.5h8.34M635.5 428.33v8.34M629.33 442.5h8.34M633.5 438.33v8.34M642.33 457.5h8.34M646.5 453.33v8.34M618.33 416.5h8.34M622.5 412.33v8.34M599.33 413.5h8.34M603.5 409.33v8.34M649.33 458.5h8.34M653.5 454.33v8.34M670.33 455.5h8.34M674.5 451.33v8.34M627.33 445.5h8.34M631.5 441.33v8.34M658.33 450.5h8.34M662.5 446.33v8.34M632.33 426.5h8.34M636.5 422.33v8.34M636.33 422.5h8.34M640.5 418.33v8.34M624.33 437.5h8.34M628.5 433.33v8.34M609.33 417.5h8.34M613.5 413.33v8.34M640.33 428.5h8.34M644.5 424.33v8.34M644.33 435.5h8.34M648.5 431.33v8.34M632.33 444.5h8.34M636.5 440.33v8.34M612.33 414.5h8.34M616.5 410.33v8.34M648.33 435.5h8.34M652.5 431.33v8.34M664.33 451.5h8.34M668.5 447.33v8.34M665.33 456.5h8.34M669.5 452.33v8.34M658.33 448.5h8.34M662.5 444.33v8.34M650.33 448.5h8.34M654.5 444.33v8.34M640.33 425.5h8.34M644.5 421.33v8.34M644.33 444.5h8.34M648.5 440.33v8.34M638.33 434.5h8.34M642.5 430.33v8.34M646.33 461.5h8.34M650.5 457.33v8.34M647.33 432.5h8.34M651.5 428.33v8.34M654.33 465.5h8.34M658.5 461.33v8.34M629.33 434.5h8.34M633.5 430.33v8.34M638.33 452.5h8.34M642.5 448.33v8.34M618.33 423.5h8.34M622.5 419.33v8.34M604.33 418.5h8.34M608.5 414.33v8.34M611.33 420.5h8.34M615.5 416.33v8.34M645.33 450.5h8.34M649.5 446.33v8.34M648.33 455.5h8.34M652.5 451.33v8.34M634.33 440.5h8.34M638.5 436.33v8.34M648.33 435.5h8.34M652.5 431.33v8.34M627.33 425.5h8.34M631.5 421.33v8.34M618.33 417.5h8.34M622.5 413.33v8.34M629.33 417.5h8.34M633.5 413.33v8.34M648.33 443.5h8.34M652.5 439.33v8.34M613.33 429.5h8.34M617.5 425.33v8.34M448.33 459.5h8.34M452.5 455.33v8.34M511.33 457.5h8.34M515.5 453.33v8.34M460.33 460.5h8.34M464.5 456.33v8.34M490.33 463.5h8.34M494.5 459.33v8.34M463.33 459.5h8.34M467.5 455.33v8.34M499.33 458.5h8.34M503.5 454.33v8.34M448.33 460.5h8.34M452.5 456.33v8.34M467.33 464.5h8.34M471.5 460.33v8.34M459.33 461.5h8.34M463.5 457.33v8.34M451.33 457.5h8.34M455.5 453.33v8.34M481.33 459.5h8.34M485.5 455.33v8.34M489.33 459.5h8.34M493.5 455.33v8.34M449.33 459.5h8.34M453.5 455.33v8.34M455.33 460.5h8.34M459.5 456.33v8.34M514.33 455.5h8.34M518.5 451.33v8.34M473.33 463.5h8.34M477.5 459.33v8.34M486.33 462.5h8.34M490.5 458.33v8.34M448.33 458.5h8.34M452.5 454.33v8.34M484.33 459.5h8.34M488.5 455.33v8.34M447.33 459.5h8.34M451.5 455.33v8.34M506.33 458.5h8.34M510.5 454.33v8.34M474.33 460.5h8.34M478.5 456.33v8.34M456.33 460.5h8.34M460.5 456.33v8.34M447.33 457.5h8.34M451.5 453.33v8.34M502.33 461.5h8.34M506.5 457.33v8.34M442.33 461.5h8.34M446.5 457.33v8.34M496.33 462.5h8.34M500.5 458.33v8.34M447.33 461.5h8.34M451.5 457.33v8.34M476.33 459.5h8.34M480.5 455.33v8.34M474.33 457.5h8.34M478.5 453.33v8.34M476.33 457.5h8.34M480.5 453.33v8.34M447.33 461.5h8.34M451.5 457.33v8.34M476.33 460.5h8.34M480.5 456.33v8.34M511.33 464.5h8.34M515.5 460.33v8.34M445.33 462.5h8.34M449.5 458.33v8.34M483.33 462.5h8.34M487.5 458.33v8.34M441.33 458.5h8.34M445.5 454.33v8.34M472.33 455.5h8.34M476.5 451.33v8.34M466.33 455.5h8.34M470.5 451.33v8.34M460.33 458.5h8.34M464.5 454.33v8.34M462.33 461.5h8.34M466.5 457.33v8.34M475.33 462.5h8.34M479.5 458.33v8.34M459.33 459.5h8.34M463.5 455.33v8.34M463.33 460.5h8.34M467.5 456.33v8.34M514.33 458.5h8.34M518.5 454.33v8.34M511.33 459.5h8.34M515.5 455.33v8.34M467.33 460.5h8.34M471.5 456.33v8.34M451.33 460.5h8.34M455.5 456.33v8.34M455.33 460.5h8.34M459.5 456.33v8.34M460.33 464.5h8.34M464.5 460.33v8.34M458.33 456.5h8.34M462.5 452.33v8.34M462.33 457.5h8.34M466.5 453.33v8.34M497.33 458.5h8.34M501.5 454.33v8.34M485.33 462.5h8.34M489.5 458.33v8.34M511.33 460.5h8.34M515.5 456.33v8.34M503.33 457.5h8.34M507.5 453.33v8.34M467.33 456.5h8.34M471.5 452.33v8.34M481.33 463.5h8.34M485.5 459.33v8.34M498.33 458.5h8.34M502.5 454.33v8.34M486.33 464.5h8.34M490.5 460.33v8.34M458.33 462.5h8.34M462.5 458.33v8.34M465.33 459.5h8.34M469.5 455.33v8.34M459.33 461.5h8.34M463.5 457.33v8.34M492.33 461.5h8.34M496.5 457.33v8.34M450.33 460.5h8.34M454.5 456.33v8.34M481.33 462.5h8.34M485.5 458.33v8.34M468.33 460.5h8.34M472.5 456.33v8.34M468.33 458.5h8.34M472.5 454.33v8.34M472.33 461.5h8.34M476.5 457.33v8.34M451.33 461.5h8.34M455.5 457.33v8.34M495.33 461.5h8.34M499.5 457.33v8.34M456.33 462.5h8.34M460.5 458.33v8.34M489.33 459.5h8.34M493.5 455.33v8.34M510.33 458.5h8.34M514.5 454.33v8.34M489.33 459.5h8.34M493.5 455.33v8.34M470.33 459.5h8.34M474.5 455.33v8.34M460.33 455.5h8.34M464.5 451.33v8.34M505.33 461.5h8.34M509.5 457.33v8.34M444.33 458.5h8.34M448.5 454.33v8.34M481.33 455.5h8.34M485.5 451.33v8.34M447.33 461.5h8.34M451.5 457.33v8.34M514.33 458.5h8.34M518.5 454.33v8.34M506.33 462.5h8.34M510.5 458.33v8.34M445.33 456.5h8.34M449.5 452.33v8.34M500.33 459.5h8.34M504.5 455.33v8.34M468.33 461.5h8.34M472.5 457.33v8.34M484.33 462.5h8.34M488.5 458.33v8.34M499.33 460.5h8.34M503.5 456.33v8.34M477.33 458.5h8.34M481.5 454.33v8.34M513.33 459.5h8.34M517.5 455.33v8.34M458.33 458.5h8.34M462.5 454.33v8.34M440.33 457.5h8.34M444.5 453.33v8.34M515.33 460.5h8.34M519.5 456.33v8.34M510.33 466.5h8.34M514.5 462.33v8.34M508.33 461.5h8.34M512.5 457.33v8.34M473.33 458.5h8.34M477.5 454.33v8.34M466.33 460.5h8.34M470.5 456.33v8.34M450.33 460.5h8.34M454.5 456.33v8.34M512.33 461.5h8.34M516.5 457.33v8.34M513.33 457.5h8.34M517.5 453.33v8.34M479.33 461.5h8.34M483.5 457.33v8.34M508.33 458.5h8.34M512.5 454.33v8.34M445.33 457.5h8.34M449.5 453.33v8.34M500.33 461.5h8.34M504.5 457.33v8.34M472.33 457.5h8.34M476.5 453.33v8.34M471.33 455.5h8.34M475.5 451.33v8.34M455.33 464.5h8.34M459.5 460.33v8.34M476.33 460.5h8.34M480.5 456.33v8.34M469.33 459.5h8.34M473.5 455.33v8.34M456.33 460.5h8.34M460.5 456.33v8.34M457.33 460.5h8.34M461.5 456.33v8.34M458.33 464.5h8.34M462.5 460.33v8.34M446.33 461.5h8.34M450.5 457.33v8.34M442.33 458.5h8.34M446.5 454.33v8.34M491.33 459.5h8.34M495.5 455.33v8.34M498.33 457.5h8.34M502.5 453.33v8.34M472.33 460.5h8.34M476.5 456.33v8.34M487.33 463.5h8.34M491.5 459.33v8.34M493.33 460.5h8.34M497.5 456.33v8.34M492.33 461.5h8.34M496.5 457.33v8.34M469.33 458.5h8.34M473.5 454.33v8.34M497.33 458.5h8.34M501.5 454.33v8.34M466.33 456.5h8.34M470.5 452.33v8.34M463.33 460.5h8.34M467.5 456.33v8.34M453.33 459.5h8.34M457.5 455.33v8.34M505.33 459.5h8.34M509.5 455.33v8.34M460.33 462.5h8.34M464.5 458.33v8.34M451.33 458.5h8.34M455.5 454.33v8.34M479.33 459.5h8.34M483.5 455.33v8.34M488.33 458.5h8.34M492.5 454.33v8.34M468.33 461.5h8.34M472.5 457.33v8.34M500.33 459.5h8.34M504.5 455.33v8.34M441.33 459.5h8.34M445.5 455.33v8.34M450.33 460.5h8.34M454.5 456.33v8.34M484.33 461.5h8.34M488.5 457.33v8.34M470.33 459.5h8.34M474.5 455.33v8.34M476.33 458.5h8.34M480.5 454.33v8.34M466.33 459.5h8.34M470.5 455.33v8.34M504.33 458.5h8.34M508.5 454.33v8.34M502.33 459.5h8.34M506.5 455.33v8.34M515.33 459.5h8.34M519.5 455.33v8.34M463.33 460.5h8.34M467.5 456.33v8.34M508.33 460.5h8.34M512.5 456.33v8.34M500.33 461.5h8.34M504.5 457.33v8.34M448.33 461.5h8.34M452.5 457.33v8.34M469.33 459.5h8.34M473.5 455.33v8.34M485.33 462.5h8.34M489.5 458.33v8.34M473.33 462.5h8.34M477.5 458.33v8.34M498.33 460.5h8.34M502.5 456.33v8.34M502.33 459.5h8.34M506.5 455.33v8.34M502.33 460.5h8.34M506.5 456.33v8.34M455.33 462.5h8.34M459.5 458.33v8.34M480.33 460.5h8.34M484.5 456.33v8.34M480.33 458.5h8.34M484.5 454.33v8.34M449.33 462.5h8.34M453.5 458.33v8.34M503.33 458.5h8.34M507.5 454.33v8.34M446.33 460.5h8.34M450.5 456.33v8.34M482.33 459.5h8.34M486.5 455.33v8.34M457.33 460.5h8.34M461.5 456.33v8.34M475.33 459.5h8.34M479.5 455.33v8.34M475.33 459.5h8.34M479.5 455.33v8.34M490.33 460.5h8.34M494.5 456.33v8.34M513.33 457.5h8.34M517.5 453.33v8.34M465.33 463.5h8.34M469.5 459.33v8.34M460.33 455.5h8.34M464.5 451.33v8.34M499.33 461.5h8.34M503.5 457.33v8.34M488.33 462.5h8.34M492.5 458.33v8.34M518.33 460.5h8.34M522.5 456.33v8.34M524.33 458.5h8.34M528.5 454.33v8.34M530.33 461.5h8.34M534.5 457.33v8.34M587.33 461.5h8.34M591.5 457.33v8.34M644.33 454.5h8.34M648.5 450.33v8.34M575.33 462.5h8.34M579.5 458.33v8.34M575.33 465.5h8.34M579.5 461.33v8.34M564.33 461.5h8.34M568.5 457.33v8.34M649.33 457.5h8.34M653.5 453.33v8.34M614.33 461.5h8.34M618.5 457.33v8.34M648.33 459.5h8.34M652.5 455.33v8.34M591.33 459.5h8.34M595.5 455.33v8.34M550.33 458.5h8.34M554.5 454.33v8.34M557.33 463.5h8.34M561.5 459.33v8.34M532.33 465.5h8.34M536.5 461.33v8.34M549.33 459.5h8.34M553.5 455.33v8.34M545.33 458.5h8.34M549.5 454.33v8.34M551.33 460.5h8.34M555.5 456.33v8.34M619.33 460.5h8.34M623.5 456.33v8.34M608.33 458.5h8.34M612.5 454.33v8.34M594.33 464.5h8.34M598.5 460.33v8.34M546.33 461.5h8.34M550.5 457.33v8.34M629.33 459.5h8.34M633.5 455.33v8.34M630.33 464.5h8.34M634.5 460.33v8.34M574.33 460.5h8.34M578.5 456.33v8.34M586.33 462.5h8.34M590.5 458.33v8.34M549.33 459.5h8.34M553.5 455.33v8.34M522.33 462.5h8.34M526.5 458.33v8.34M615.33 458.5h8.34M619.5 454.33v8.34M605.33 465.5h8.34M609.5 461.33v8.34M647.33 459.5h8.34M651.5 455.33v8.34M586.33 461.5h8.34M590.5 457.33v8.34M533.33 459.5h8.34M537.5 455.33v8.34M605.33 466.5h8.34M609.5 462.33v8.34M561.33 461.5h8.34M565.5 457.33v8.34M575.33 459.5h8.34M579.5 455.33v8.34M591.33 462.5h8.34M595.5 458.33v8.34M628.33 462.5h8.34M632.5 458.33v8.34M550.33 460.5h8.34M554.5 456.33v8.34M650.33 457.5h8.34M654.5 453.33v8.34M647.33 461.5h8.34M651.5 457.33v8.34M570.33 458.5h8.34M574.5 454.33v8.34M549.33 461.5h8.34M553.5 457.33v8.34M614.33 459.5h8.34M618.5 455.33v8.34M596.33 462.5h8.34M600.5 458.33v8.34M623.33 460.5h8.34M627.5 456.33v8.34M648.33 457.5h8.34M652.5 453.33v8.34M648.33 463.5h8.34M652.5 459.33v8.34M579.33 458.5h8.34M583.5 454.33v8.34M566.33 461.5h8.34M570.5 457.33v8.34M620.33 458.5h8.34M624.5 454.33v8.34M570.33 459.5h8.34M574.5 455.33v8.34M618.33 460.5h8.34M622.5 456.33v8.34M556.33 456.5h8.34M560.5 452.33v8.34M632.33 460.5h8.34M636.5 456.33v8.34M648.33 459.5h8.34M652.5 455.33v8.34M646.33 458.5h8.34M650.5 454.33v8.34M523.33 455.5h8.34M527.5 451.33v8.34M634.33 463.5h8.34M638.5 459.33v8.34M599.33 461.5h8.34M603.5 457.33v8.34M521.33 459.5h8.34M525.5 455.33v8.34M557.33 460.5h8.34M561.5 456.33v8.34M561.33 459.5h8.34M565.5 455.33v8.34M587.33 461.5h8.34M591.5 457.33v8.34M530.33 464.5h8.34M534.5 460.33v8.34M527.33 460.5h8.34M531.5 456.33v8.34M547.33 460.5h8.34M551.5 456.33v8.34M573.33 461.5h8.34M577.5 457.33v8.34M595.33 458.5h8.34M599.5 454.33v8.34M628.33 456.5h8.34M632.5 452.33v8.34M518.33 457.5h8.34M522.5 453.33v8.34M591.33 464.5h8.34M595.5 460.33v8.34M519.33 460.5h8.34M523.5 456.33v8.34M529.33 457.5h8.34M533.5 453.33v8.34M517.33 461.5h8.34M521.5 457.33v8.34M605.33 461.5h8.34M609.5 457.33v8.34M521.33 461.5h8.34M525.5 457.33v8.34M617.33 462.5h8.34M621.5 458.33v8.34M561.33 456.5h8.34M565.5 452.33v8.34M550.33 464.5h8.34M554.5 460.33v8.34M651.33 459.5h8.34M655.5 455.33v8.34M574.33 462.5h8.34M578.5 458.33v8.34M626.33 457.5h8.34M630.5 453.33v8.34M587.33 460.5h8.34M591.5 456.33v8.34M554.33 457.5h8.34M558.5 453.33v8.34M582.33 463.5h8.34M586.5 459.33v8.34M562.33 461.5h8.34M566.5 457.33v8.34M541.33 460.5h8.34M545.5 456.33v8.34M560.33 457.5h8.34M564.5 453.33v8.34M645.33 462.5h8.34M649.5 458.33v8.34M592.33 459.5h8.34M596.5 455.33v8.34M516.33 455.5h8.34M520.5 451.33v8.34M587.33 465.5h8.34M591.5 461.33v8.34M655.33 460.5h8.34M659.5 456.33v8.34M524.33 460.5h8.34M528.5 456.33v8.34M526.33 460.5h8.34M530.5 456.33v8.34M622.33 453.5h8.34M626.5 449.33v8.34M600.33 458.5h8.34M604.5 454.33v8.34M534.33 461.5h8.34M538.5 457.33v8.34M571.33 463.5h8.34M575.5 459.33v8.34M591.33 463.5h8.34M595.5 459.33v8.34M568.33 461.5h8.34M572.5 457.33v8.34M638.33 458.5h8.34M642.5 454.33v8.34M616.33 457.5h8.34M620.5 453.33v8.34M604.33 457.5h8.34M608.5 453.33v8.34M642.33 463.5h8.34M646.5 459.33v8.34M650.33 460.5h8.34M654.5 456.33v8.34M550.33 464.5h8.34M554.5 460.33v8.34M605.33 457.5h8.34M609.5 453.33v8.34M531.33 461.5h8.34M535.5 457.33v8.34M562.33 458.5h8.34M566.5 454.33v8.34M649.33 463.5h8.34M653.5 459.33v8.34M547.33 462.5h8.34M551.5 458.33v8.34M637.33 460.5h8.34M641.5 456.33v8.34M584.33 461.5h8.34M588.5 457.33v8.34M580.33 460.5h8.34M584.5 456.33v8.34M556.33 458.5h8.34M560.5 454.33v8.34M557.33 458.5h8.34M561.5 454.33v8.34M594.33 459.5h8.34M598.5 455.33v8.34M630.33 459.5h8.34M634.5 455.33v8.34M583.33 458.5h8.34M587.5 454.33v8.34M529.33 456.5h8.34M533.5 452.33v8.34M516.33 460.5h8.34M520.5 456.33v8.34M606.33 461.5h8.34M610.5 457.33v8.34M560.33 459.5h8.34M564.5 455.33v8.34M611.33 461.5h8.34M615.5 457.33v8.34M602.33 461.5h8.34M606.5 457.33v8.34M588.33 460.5h8.34M592.5 456.33v8.34M584.33 461.5h8.34M588.5 457.33v8.34M637.33 461.5h8.34M641.5 457.33v8.34M590.33 463.5h8.34M594.5 459.33v8.34M554.33 456.5h8.34M558.5 452.33v8.34M530.33 462.5h8.34M534.5 458.33v8.34M592.33 459.5h8.34M596.5 455.33v8.34M574.33 460.5h8.34M578.5 456.33v8.34M539.33 459.5h8.34M543.5 455.33v8.34M595.33 460.5h8.34M599.5 456.33v8.34M628.33 464.5h8.34M632.5 460.33v8.34M551.33 456.5h8.34M555.5 452.33v8.34M628.33 457.5h8.34M632.5 453.33v8.34M581.33 463.5h8.34M585.5 459.33v8.34M620.33 455.5h8.34M624.5 451.33v8.34M581.33 463.5h8.34M585.5 459.33v8.34M627.33 461.5h8.34M631.5 457.33v8.34M545.33 463.5h8.34M549.5 459.33v8.34M573.33 457.5h8.34M577.5 453.33v8.34M596.33 462.5h8.34M600.5 458.33v8.34M554.33 460.5h8.34M558.5 456.33v8.34M582.33 459.5h8.34M586.5 455.33v8.34M534.33 461.5h8.34M538.5 457.33v8.34M648.33 461.5h8.34M652.5 457.33v8.34M519.33 459.5h8.34M523.5 455.33v8.34M633.33 457.5h8.34M637.5 453.33v8.34M635.33 464.5h8.34M639.5 460.33v8.34M535.33 463.5h8.34M539.5 459.33v8.34M532.33 460.5h8.34M536.5 456.33v8.34M596.33 463.5h8.34M600.5 459.33v8.34M612.33 460.5h8.34M616.5 456.33v8.34M561.33 462.5h8.34M565.5 458.33v8.34M650.33 456.5h8.34M654.5 452.33v8.34M578.33 458.5h8.34M582.5 454.33v8.34M532.33 461.5h8.34M536.5 457.33v8.34M619.33 461.5h8.34M623.5 457.33v8.34M544.33 458.5h8.34M548.5 454.33v8.34M534.33 460.5h8.34M538.5 456.33v8.34M567.33 454.5h8.34M571.5 450.33v8.34M625.33 460.5h8.34M629.5 456.33v8.34M576.33 459.5h8.34M580.5 455.33v8.34M677.33 462.5h8.34M681.5 458.33v8.34M687.33 461.5h8.34M691.5 457.33v8.34M667.33 460.5h8.34M671.5 456.33v8.34M679.33 459.5h8.34M683.5 455.33v8.34M657.33 459.5h8.34M661.5 455.33v8.34M689.33 465.5h8.34M693.5 461.33v8.34M696.33 460.5h8.34M700.5 456.33v8.34M684.33 463.5h8.34M688.5 459.33v8.34M712.33 460.5h8.34M716.5 456.33v8.34M669.33 462.5h8.34M673.5 458.33v8.34M687.33 461.5h8.34M691.5 457.33v8.34M695.33 463.5h8.34M699.5 459.33v8.34M673.33 463.5h8.34M677.5 459.33v8.34M712.33 461.5h8.34M716.5 457.33v8.34M658.33 455.5h8.34M662.5 451.33v8.34M659.33 462.5h8.34M663.5 458.33v8.34M658.33 460.5h8.34M662.5 456.33v8.34M664.33 467.5h8.34M668.5 463.33v8.34M683.33 463.5h8.34M687.5 459.33v8.34M671.33 461.5h8.34M675.5 457.33v8.34M662.33 461.5h8.34M666.5 457.33v8.34M703.33 464.5h8.34M707.5 460.33v8.34M660.33 457.5h8.34M664.5 453.33v8.34M692.33 461.5h8.34M696.5 457.33v8.34M702.33 458.5h8.34M706.5 454.33v8.34M656.33 455.5h8.34M660.5 451.33v8.34M681.33 459.5h8.34M685.5 455.33v8.34M662.33 464.5h8.34M666.5 460.33v8.34M673.33 459.5h8.34M677.5 455.33v8.34M699.33 461.5h8.34M703.5 457.33v8.34M317.33 385.5h8.34M321.5 381.33v8.34M323.33 381.5h8.34M327.5 377.33v8.34M318.33 387.5h8.34M322.5 383.33v8.34M326.33 382.5h8.34M330.5 378.33v8.34M322.33 377.5h8.34M326.5 373.33v8.34M315.33 379.5h8.34M319.5 375.33v8.34M323.33 374.5h8.34M327.5 370.33v8.34M326.33 377.5h8.34M330.5 373.33v8.34M318.33 373.5h8.34M322.5 369.33v8.34M328.33 386.5h8.34M332.5 382.33v8.34M327.33 384.5h8.34M331.5 380.33v8.34M315.33 378.5h8.34M319.5 374.33v8.34M321.33 375.5h8.34M325.5 371.33v8.34M328.33 379.5h8.34M332.5 375.33v8.34M317.33 387.5h8.34M321.5 383.33v8.34M316.33 389.5h8.34M320.5 385.33v8.34M321.33 382.5h8.34M325.5 378.33v8.34M332.33 403.5h8.34M336.5 399.33v8.34M319.33 418.5h8.34M323.5 414.33v8.34M321.33 403.5h8.34M325.5 399.33v8.34M328.33 407.5h8.34M332.5 403.33v8.34M331.33 405.5h8.34M335.5 401.33v8.34M332.33 406.5h8.34M336.5 402.33v8.34M327.33 417.5h8.34M331.5 413.33v8.34M328.33 417.5h8.34M332.5 413.33v8.34M328.33 401.5h8.34M332.5 397.33v8.34M331.33 411.5h8.34M335.5 407.33v8.34M323.33 404.5h8.34M327.5 400.33v8.34M330.33 411.5h8.34M334.5 407.33v8.34M346.33 390.5h8.34M350.5 386.33v8.34M345.33 374.5h8.34M349.5 370.33v8.34M342.33 380.5h8.34M346.5 376.33v8.34M341.33 375.5h8.34M345.5 371.33v8.34M337.33 381.5h8.34M341.5 377.33v8.34M337.33 381.5h8.34M341.5 377.33v8.34M335.33 374.5h8.34M339.5 370.33v8.34M343.33 380.5h8.34M347.5 376.33v8.34M313.33 350.5h8.34M317.5 346.33v8.34M307.33 353.5h8.34M311.5 349.33v8.34M307.33 346.5h8.34M311.5 342.33v8.34M306.33 348.5h8.34M310.5 344.33v8.34M306.33 347.5h8.34M310.5 343.33v8.34M313.33 348.5h8.34M317.5 344.33v8.34M310.33 350.5h8.34M314.5 346.33v8.34M316.33 333.5h8.34M320.5 329.33v8.34M311.33 353.5h8.34M315.5 349.33v8.34M331.33 326.5h8.34M335.5 322.33v8.34M337.33 306.5h8.34M341.5 302.33v8.34M338.33 318.5h8.34M342.5 314.33v8.34M327.33 327.5h8.34M331.5 323.33v8.34M330.33 309.5h8.34M334.5 305.33v8.34M332.33 317.5h8.34M336.5 313.33v8.34M328.33 320.5h8.34M332.5 316.33v8.34M337.33 315.5h8.34M341.5 311.33v8.34M337.33 318.5h8.34M341.5 314.33v8.34M337.33 306.5h8.34M341.5 302.33v8.34M331.33 441.5h8.34M335.5 437.33v8.34M326.33 445.5h8.34M330.5 441.33v8.34M325.33 446.5h8.34M329.5 442.33v8.34M331.33 440.5h8.34M335.5 436.33v8.34M331.33 444.5h8.34M335.5 440.33v8.34M330.33 448.5h8.34M334.5 444.33v8.34M333.33 443.5h8.34M337.5 439.33v8.34M332.33 447.5h8.34M336.5 443.33v8.34M333.33 440.5h8.34M337.5 436.33v8.34M330.33 434.5h8.34M334.5 430.33v8.34M333.33 428.5h8.34M337.5 424.33v8.34M325.33 435.5h8.34M329.5 431.33v8.34M327.33 430.5h8.34M331.5 426.33v8.34M332.33 428.5h8.34M336.5 424.33v8.34M333.33 431.5h8.34M337.5 427.33v8.34M325.33 436.5h8.34M329.5 432.33v8.34M316.33 415.5h8.34M320.5 411.33v8.34M324.33 415.5h8.34M328.5 411.33v8.34M316.33 418.5h8.34M320.5 414.33v8.34M321.33 416.5h8.34M325.5 412.33v8.34M321.33 422.5h8.34M325.5 418.33v8.34M316.33 415.5h8.34M320.5 411.33v8.34M314.33 416.5h8.34M318.5 412.33v8.34M315.33 423.5h8.34M319.5 419.33v8.34M319.33 423.5h8.34M323.5 419.33v8.34M412.33 258.5h8.34M416.5 254.33v8.34M517.33 464.5h8.34M521.5 460.33v8.34M570.33 469.5h8.34M574.5 465.33v8.34M535.33 464.5h8.34M539.5 460.33v8.34M548.33 470.5h8.34M552.5 466.33v8.34M536.33 470.5h8.34M540.5 466.33v8.34M608.33 464.5h8.34M612.5 460.33v8.34M590.33 467.5h8.34M594.5 463.33v8.34M573.33 472.5h8.34M577.5 468.33v8.34M529.33 463.5h8.34M533.5 459.33v8.34M647.33 467.5h8.34M651.5 463.33v8.34M543.33 466.5h8.34M547.5 462.33v8.34M567.33 472.5h8.34M571.5 468.33v8.34M545.33 465.5h8.34M549.5 461.33v8.34M597.33 468.5h8.34M601.5 464.33v8.34M649.33 471.5h8.34M653.5 467.33v8.34M565.33 465.5h8.34M569.5 461.33v8.34M633.33 472.5h8.34M637.5 468.33v8.34M520.33 470.5h8.34M524.5 466.33v8.34M637.33 469.5h8.34M641.5 465.33v8.34M546.33 470.5h8.34M550.5 466.33v8.34M618.33 464.5h8.34M622.5 460.33v8.34M605.33 465.5h8.34M609.5 461.33v8.34M521.33 466.5h8.34M525.5 462.33v8.34M562.33 466.5h8.34M566.5 462.33v8.34M606.33 471.5h8.34M610.5 467.33v8.34M650.33 472.5h8.34M654.5 468.33v8.34M655.33 470.5h8.34M659.5 466.33v8.34M558.33 464.5h8.34M562.5 460.33v8.34M603.33 468.5h8.34M607.5 464.33v8.34M610.33 463.5h8.34M614.5 459.33v8.34M542.33 472.5h8.34M546.5 468.33v8.34M600.33 469.5h8.34M604.5 465.33v8.34M529.33 466.5h8.34M533.5 462.33v8.34M643.33 469.5h8.34M647.5 465.33v8.34M654.33 464.5h8.34M658.5 460.33v8.34M579.33 471.5h8.34M583.5 467.33v8.34M578.33 470.5h8.34M582.5 466.33v8.34M594.33 464.5h8.34M598.5 460.33v8.34M529.33 472.5h8.34M533.5 468.33v8.34M532.33 464.5h8.34M536.5 460.33v8.34M562.33 470.5h8.34M566.5 466.33v8.34M635.33 467.5h8.34M639.5 463.33v8.34M585.33 470.5h8.34M589.5 466.33v8.34M554.33 466.5h8.34M558.5 462.33v8.34M601.33 469.5h8.34M605.5 465.33v8.34M521.33 464.5h8.34M525.5 460.33v8.34M535.33 470.5h8.34M539.5 466.33v8.34M613.33 472.5h8.34M617.5 468.33v8.34M623.33 465.5h8.34M627.5 461.33v8.34M623.33 472.5h8.34M627.5 468.33v8.34M564.33 463.5h8.34M568.5 459.33v8.34M568.33 465.5h8.34M572.5 461.33v8.34M540.33 463.5h8.34M544.5 459.33v8.34M533.33 471.5h8.34M537.5 467.33v8.34M522.33 469.5h8.34M526.5 465.33v8.34M544.33 464.5h8.34M548.5 460.33v8.34M630.33 465.5h8.34M634.5 461.33v8.34M541.33 467.5h8.34M545.5 463.33v8.34M613.33 468.5h8.34M617.5 464.33v8.34M636.33 467.5h8.34M640.5 463.33v8.34M589.33 470.5h8.34M593.5 466.33v8.34M580.33 470.5h8.34M584.5 466.33v8.34M581.33 464.5h8.34M585.5 460.33v8.34M533.33 470.5h8.34M537.5 466.33v8.34M620.33 472.5h8.34M624.5 468.33v8.34M612.33 468.5h8.34M616.5 464.33v8.34M539.33 471.5h8.34M543.5 467.33v8.34M532.33 467.5h8.34M536.5 463.33v8.34M535.33 466.5h8.34M539.5 462.33v8.34M559.33 467.5h8.34M563.5 463.33v8.34M615.33 468.5h8.34M619.5 464.33v8.34M549.33 470.5h8.34M553.5 466.33v8.34M618.33 471.5h8.34M622.5 467.33v8.34M520.33 469.5h8.34M524.5 465.33v8.34M641.33 465.5h8.34M645.5 461.33v8.34M544.33 471.5h8.34M548.5 467.33v8.34M566.33 467.5h8.34M570.5 463.33v8.34M630.33 466.5h8.34M634.5 462.33v8.34M543.33 465.5h8.34M547.5 461.33v8.34M564.33 469.5h8.34M568.5 465.33v8.34M567.33 470.5h8.34M571.5 466.33v8.34M525.33 465.5h8.34M529.5 461.33v8.34M603.33 467.5h8.34M607.5 463.33v8.34M585.33 472.5h8.34M589.5 468.33v8.34M562.33 471.5h8.34M566.5 467.33v8.34M583.33 477.5h8.34M587.5 473.33v8.34M600.33 475.5h8.34M604.5 471.33v8.34M565.33 474.5h8.34M569.5 470.33v8.34M631.33 474.5h8.34M635.5 470.33v8.34M641.33 477.5h8.34M645.5 473.33v8.34M589.33 470.5h8.34M593.5 466.33v8.34M623.33 471.5h8.34M627.5 467.33v8.34" stroke="#00bfbf" stroke-width="0.69" fill="none"/>
<path d="M334.33 260.33l8.34 8.34M334.33 268.67l8.34 -8.34M360.33 256.33l8.34 8.34M360.33 264.67l8.34 -8.34M412.33 253.33l8.34 8.34M412.33 261.67l8.34 -8.34M350.33 281.33l8.34 8.34M350.33 289.67l8.34 -8.34M354.33 304.33l8.34 8.34M354.33 312.67l8.34 -8.34M306.33 319.33l8.34 8.34M306.33 327.67l8.34 -8.34M308.33 331.33l8.34 8.34M308.33 339.67l8.34 -8.34M358.33 319.33l8.34 8.34M358.33 327.67l8.34 -8.34M313.33 356.33l8.34 8.34M313.33 364.67l8.34 -8.34M364.33 350.33l8.34 8.34M364.33 358.67l8.34 -8.34M398.33 309.33l8.34 8.34M398.33 317.67l8.34 -8.34M419.33 300.33l8.34 8.34M419.33 308.67l8.34 -8.34M427.33 299.33l8.34 8.34M427.33 307.67l8.34 -8.34M428.33 298.33l8.34 8.34M428.33 306.67l8.34 -8.34M436.33 312.33l8.34 8.34M436.33 320.67l8.34 -8.34M379.33 324.33l8.34 8.34M379.33 332.67l8.34 -8.34M402.33 328.33l8.34 8.34M402.33 336.67l8.34 -8.34M430.33 330.33l8.34 8.34M430.33 338.67l8.34 -8.34M434.33 331.33l8.34 8.34M434.33 339.67l8.34 -8.34M405.33 343.33l8.34 8.34M405.33 351.67l8.34 -8.34M341.33 390.33l8.34 8.34M341.33 398.67l8.34 -8.34M372.33 355.33l8.34 8.34M372.33 363.67l8.34 -8.34M390.33 358.33l8.34 8.34M390.33 366.67l8.34 -8.34M397.33 353.33l8.34 8.34M397.33 361.67l8.34 -8.34M383.33 367.33l8.34 8.34M383.33 375.67l8.34 -8.34M394.33 368.33l8.34 8.34M394.33 376.67l8.34 -8.34M374.33 374.33l8.34 8.34M374.33 382.67l8.34 -8.34M397.33 381.33l8.34 8.34M397.33 389.67l8.34 -8.34M398.33 381.33l8.34 8.34M398.33 389.67l8.34 -8.34M419.33 376.33l8.34 8.34M419.33 384.67l8.34 -8.34M384.33 393.33l8.34 8.34M384.33 401.67l8.34 -8.34M395.33 393.33l8.34 8.34M395.33 401.67l8.34 -8.34M425.33 394.33l8.34 8.34M425.33 402.67l8.34 -8.34M419.33 404.33l8.34 8.34M419.33 412.67l8.34 -8.34M430.33 262.33l8.34 8.34M430.33 270.67l8.34 -8.34M366.33 450.33l8.34 8.34M366.33 458.67l8.34 -8.34M377.33 444.33l8.34 8.34M377.33 452.67l8.34 -8.34M406.33 448.33l8.34 8.34M406.33 456.67l8.34 -8.34M414.33 446.33l8.34 8.34M414.33 454.67l8.34 -8.34M432.33 466.33l8.34 8.34M432.33 474.67l8.34 -8.34M418.33 447.33l8.34 8.34M418.33 455.67l8.34 -8.34M422.33 446.33l8.34 8.34M422.33 454.67l8.34 -8.34M406.33 448.33l8.34 8.34M406.33 456.67l8.34 -8.34M415.33 446.33l8.34 8.34M415.33 454.67l8.34 -8.34M413.33 411.33l8.34 8.34M413.33 419.67l8.34 -8.34M401.33 417.33l8.34 8.34M401.33 425.67l8.34 -8.34M365.33 457.33l8.34 8.34M365.33 465.67l8.34 -8.34M337.33 458.33l8.34 8.34M337.33 466.67l8.34 -8.34M388.33 456.33l8.34 8.34M388.33 464.67l8.34 -8.34M385.33 457.33l8.34 8.34M385.33 465.67l8.34 -8.34M334.33 456.33l8.34 8.34M334.33 464.67l8.34 -8.34M339.33 457.33l8.34 8.34M339.33 465.67l8.34 -8.34M376.33 457.33l8.34 8.34M376.33 465.67l8.34 -8.34M354.33 456.33l8.34 8.34M354.33 464.67l8.34 -8.34M398.33 458.33l8.34 8.34M398.33 466.67l8.34 -8.34M373.33 456.33l8.34 8.34M373.33 464.67l8.34 -8.34M436.33 459.33l8.34 8.34M436.33 467.67l8.34 -8.34M361.33 457.33l8.34 8.34M361.33 465.67l8.34 -8.34M345.33 457.33l8.34 8.34M345.33 465.67l8.34 -8.34M418.33 457.33l8.34 8.34M418.33 465.67l8.34 -8.34M349.33 455.33l8.34 8.34M349.33 463.67l8.34 -8.34M370.33 456.33l8.34 8.34M370.33 464.67l8.34 -8.34M389.33 457.33l8.34 8.34M389.33 465.67l8.34 -8.34M352.33 457.33l8.34 8.34M352.33 465.67l8.34 -8.34M404.33 456.33l8.34 8.34M404.33 464.67l8.34 -8.34M393.33 457.33l8.34 8.34M393.33 465.67l8.34 -8.34M379.33 456.33l8.34 8.34M379.33 464.67l8.34 -8.34M406.33 458.33l8.34 8.34M406.33 466.67l8.34 -8.34M356.33 455.33l8.34 8.34M356.33 463.67l8.34 -8.34M425.33 456.33l8.34 8.34M425.33 464.67l8.34 -8.34M409.33 456.33l8.34 8.34M409.33 464.67l8.34 -8.34M342.33 459.33l8.34 8.34M342.33 467.67l8.34 -8.34M375.33 457.33l8.34 8.34M375.33 465.67l8.34 -8.34M383.33 456.33l8.34 8.34M383.33 464.67l8.34 -8.34M334.33 456.33l8.34 8.34M334.33 464.67l8.34 -8.34M392.33 455.33l8.34 8.34M392.33 463.67l8.34 -8.34M425.33 456.33l8.34 8.34M425.33 464.67l8.34 -8.34M394.33 458.33l8.34 8.34M394.33 466.67l8.34 -8.34M393.33 454.33l8.34 8.34M393.33 462.67l8.34 -8.34M432.33 457.33l8.34 8.34M432.33 465.67l8.34 -8.34M381.33 456.33l8.34 8.34M381.33 464.67l8.34 -8.34M406.33 456.33l8.34 8.34M406.33 464.67l8.34 -8.34M400.33 459.33l8.34 8.34M400.33 467.67l8.34 -8.34M361.33 456.33l8.34 8.34M361.33 464.67l8.34 -8.34M372.33 456.33l8.34 8.34M372.33 464.67l8.34 -8.34M380.33 456.33l8.34 8.34M380.33 464.67l8.34 -8.34M348.33 457.33l8.34 8.34M348.33 465.67l8.34 -8.34M413.33 457.33l8.34 8.34M413.33 465.67l8.34 -8.34M344.33 457.33l8.34 8.34M344.33 465.67l8.34 -8.34M424.33 458.33l8.34 8.34M424.33 466.67l8.34 -8.34M338.33 455.33l8.34 8.34M338.33 463.67l8.34 -8.34M426.33 457.33l8.34 8.34M426.33 465.67l8.34 -8.34M419.33 457.33l8.34 8.34M419.33 465.67l8.34 -8.34M375.33 456.33l8.34 8.34M375.33 464.67l8.34 -8.34M369.33 459.33l8.34 8.34M369.33 467.67l8.34 -8.34M346.33 455.33l8.34 8.34M346.33 463.67l8.34 -8.34M349.33 457.33l8.34 8.34M349.33 465.67l8.34 -8.34M382.33 457.33l8.34 8.34M382.33 465.67l8.34 -8.34M394.33 456.33l8.34 8.34M394.33 464.67l8.34 -8.34M375.33 457.33l8.34 8.34M375.33 465.67l8.34 -8.34M370.33 454.33l8.34 8.34M370.33 462.67l8.34 -8.34M405.33 455.33l8.34 8.34M405.33 463.67l8.34 -8.34M386.33 455.33l8.34 8.34M386.33 463.67l8.34 -8.34M335.33 455.33l8.34 8.34M335.33 463.67l8.34 -8.34M428.33 457.33l8.34 8.34M428.33 465.67l8.34 -8.34M416.33 454.33l8.34 8.34M416.33 462.67l8.34 -8.34M372.33 456.33l8.34 8.34M372.33 464.67l8.34 -8.34M399.33 457.33l8.34 8.34M399.33 465.67l8.34 -8.34M336.33 457.33l8.34 8.34M336.33 465.67l8.34 -8.34M347.33 457.33l8.34 8.34M347.33 465.67l8.34 -8.34M367.33 457.33l8.34 8.34M367.33 465.67l8.34 -8.34M346.33 457.33l8.34 8.34M346.33 465.67l8.34 -8.34M341.33 456.33l8.34 8.34M341.33 464.67l8.34 -8.34M425.33 457.33l8.34 8.34M425.33 465.67l8.34 -8.34M396.33 457.33l8.34 8.34M396.33 465.67l8.34 -8.34M367.33 457.33l8.34 8.34M367.33 465.67l8.34 -8.34M369.33 458.33l8.34 8.34M369.33 466.67l8.34 -8.34M438.33 458.33l8.34 8.34M438.33 466.67l8.34 -8.34M380.33 456.33l8.34 8.34M380.33 464.67l8.34 -8.34M341.33 457.33l8.34 8.34M341.33 465.67l8.34 -8.34M367.33 456.33l8.34 8.34M367.33 464.67l8.34 -8.34M347.33 459.33l8.34 8.34M347.33 467.67l8.34 -8.34M332.33 458.33l8.34 8.34M332.33 466.67l8.34 -8.34M345.33 456.33l8.34 8.34M345.33 464.67l8.34 -8.34M389.33 458.33l8.34 8.34M389.33 466.67l8.34 -8.34M436.33 457.33l8.34 8.34M436.33 465.67l8.34 -8.34M424.33 456.33l8.34 8.34M424.33 464.67l8.34 -8.34M369.33 456.33l8.34 8.34M369.33 464.67l8.34 -8.34M348.33 457.33l8.34 8.34M348.33 465.67l8.34 -8.34M414.33 455.33l8.34 8.34M414.33 463.67l8.34 -8.34M365.33 457.33l8.34 8.34M365.33 465.67l8.34 -8.34M437.33 458.33l8.34 8.34M437.33 466.67l8.34 -8.34M422.33 457.33l8.34 8.34M422.33 465.67l8.34 -8.34M410.33 455.33l8.34 8.34M410.33 463.67l8.34 -8.34M354.33 455.33l8.34 8.34M354.33 463.67l8.34 -8.34M333.33 456.33l8.34 8.34M333.33 464.67l8.34 -8.34M333.33 456.33l8.34 8.34M333.33 464.67l8.34 -8.34M405.33 457.33l8.34 8.34M405.33 465.67l8.34 -8.34M434.33 454.33l8.34 8.34M434.33 462.67l8.34 -8.34M437.33 457.33l8.34 8.34M437.33 465.67l8.34 -8.34M434.33 456.33l8.34 8.34M434.33 464.67l8.34 -8.34M354.33 457.33l8.34 8.34M354.33 465.67l8.34 -8.34M351.33 457.33l8.34 8.34M351.33 465.67l8.34 -8.34M428.33 458.33l8.34 8.34M428.33 466.67l8.34 -8.34M421.33 455.33l8.34 8.34M421.33 463.67l8.34 -8.34M417.33 457.33l8.34 8.34M417.33 465.67l8.34 -8.34M339.33 455.33l8.34 8.34M339.33 463.67l8.34 -8.34M415.33 454.33l8.34 8.34M415.33 462.67l8.34 -8.34M411.33 456.33l8.34 8.34M411.33 464.67l8.34 -8.34M416.33 457.33l8.34 8.34M416.33 465.67l8.34 -8.34M366.33 457.33l8.34 8.34M366.33 465.67l8.34 -8.34M373.33 454.33l8.34 8.34M373.33 462.67l8.34 -8.34M373.33 458.33l8.34 8.34M373.33 466.67l8.34 -8.34M348.33 456.33l8.34 8.34M348.33 464.67l8.34 -8.34M343.33 458.33l8.34 8.34M343.33 466.67l8.34 -8.34M417.33 458.33l8.34 8.34M417.33 466.67l8.34 -8.34M345.33 458.33l8.34 8.34M345.33 466.67l8.34 -8.34M401.33 454.33l8.34 8.34M401.33 462.67l8.34 -8.34M368.33 456.33l8.34 8.34M368.33 464.67l8.34 -8.34M331.33 456.33l8.34 8.34M331.33 464.67l8.34 -8.34M435.33 456.33l8.34 8.34M435.33 464.67l8.34 -8.34M431.33 455.33l8.34 8.34M431.33 463.67l8.34 -8.34M377.33 458.33l8.34 8.34M377.33 466.67l8.34 -8.34M353.33 455.33l8.34 8.34M353.33 463.67l8.34 -8.34M357.33 456.33l8.34 8.34M357.33 464.67l8.34 -8.34M393.33 457.33l8.34 8.34M393.33 465.67l8.34 -8.34M358.33 456.33l8.34 8.34M358.33 464.67l8.34 -8.34M429.33 457.33l8.34 8.34M429.33 465.67l8.34 -8.34M368.33 455.33l8.34 8.34M368.33 463.67l8.34 -8.34M428.33 457.33l8.34 8.34M428.33 465.67l8.34 -8.34M375.33 458.33l8.34 8.34M375.33 466.67l8.34 -8.34M387.33 456.33l8.34 8.34M387.33 464.67l8.34 -8.34M387.33 458.33l8.34 8.34M387.33 466.67l8.34 -8.34M349.33 457.33l8.34 8.34M349.33 465.67l8.34 -8.34M330.33 457.33l8.34 8.34M330.33 465.67l8.34 -8.34M381.33 456.33l8.34 8.34M381.33 464.67l8.34 -8.34M409.33 456.33l8.34 8.34M409.33 464.67l8.34 -8.34M386.33 456.33l8.34 8.34M386.33 464.67l8.34 -8.34M390.33 457.33l8.34 8.34M390.33 465.67l8.34 -8.34M391.33 456.33l8.34 8.34M391.33 464.67l8.34 -8.34M357.33 456.33l8.34 8.34M357.33 464.67l8.34 -8.34M385.33 458.33l8.34 8.34M385.33 466.67l8.34 -8.34M391.33 457.33l8.34 8.34M391.33 465.67l8.34 -8.34M378.33 454.33l8.34 8.34M378.33 462.67l8.34 -8.34M396.33 455.33l8.34 8.34M396.33 463.67l8.34 -8.34M405.33 456.33l8.34 8.34M405.33 464.67l8.34 -8.34M379.33 455.33l8.34 8.34M379.33 463.67l8.34 -8.34M432.33 456.33l8.34 8.34M432.33 464.67l8.34 -8.34M406.33 458.33l8.34 8.34M406.33 466.67l8.34 -8.34M358.33 455.33l8.34 8.34M358.33 463.67l8.34 -8.34M390.33 458.33l8.34 8.34M390.33 466.67l8.34 -8.34M344.33 456.33l8.34 8.34M344.33 464.67l8.34 -8.34M343.33 456.33l8.34 8.34M343.33 464.67l8.34 -8.34M356.33 457.33l8.34 8.34M356.33 465.67l8.34 -8.34M337.33 456.33l8.34 8.34M337.33 464.67l8.34 -8.34M427.33 455.33l8.34 8.34M427.33 463.67l8.34 -8.34M346.33 456.33l8.34 8.34M346.33 464.67l8.34 -8.34M345.33 455.33l8.34 8.34M345.33 463.67l8.34 -8.34M426.33 457.33l8.34 8.34M426.33 465.67l8.34 -8.34M433.33 456.33l8.34 8.34M433.33 464.67l8.34 -8.34M373.33 453.33l8.34 8.34M373.33 461.67l8.34 -8.34M420.33 457.33l8.34 8.34M420.33 465.67l8.34 -8.34M347.33 455.33l8.34 8.34M347.33 463.67l8.34 -8.34M366.33 457.33l8.34 8.34M366.33 465.67l8.34 -8.34M351.33 456.33l8.34 8.34M351.33 464.67l8.34 -8.34M332.33 458.33l8.34 8.34M332.33 466.67l8.34 -8.34M390.33 456.33l8.34 8.34M390.33 464.67l8.34 -8.34M366.33 457.33l8.34 8.34M366.33 465.67l8.34 -8.34M398.33 456.33l8.34 8.34M398.33 464.67l8.34 -8.34M437.33 456.33l8.34 8.34M437.33 464.67l8.34 -8.34M415.33 457.33l8.34 8.34M415.33 465.67l8.34 -8.34M358.33 456.33l8.34 8.34M358.33 464.67l8.34 -8.34M334.33 457.33l8.34 8.34M334.33 465.67l8.34 -8.34M344.33 456.33l8.34 8.34M344.33 464.67l8.34 -8.34M376.33 458.33l8.34 8.34M376.33 466.67l8.34 -8.34M358.33 455.33l8.34 8.34M358.33 463.67l8.34 -8.34M346.33 458.33l8.34 8.34M346.33 466.67l8.34 -8.34M406.33 456.33l8.34 8.34M406.33 464.67l8.34 -8.34M339.33 458.33l8.34 8.34M339.33 466.67l8.34 -8.34M376.33 457.33l8.34 8.34M376.33 465.67l8.34 -8.34M337.33 458.33l8.34 8.34M337.33 466.67l8.34 -8.34M417.33 456.33l8.34 8.34M417.33 464.67l8.34 -8.34M339.33 457.33l8.34 8.34M339.33 465.67l8.34 -8.34M424.33 456.33l8.34 8.34M424.33 464.67l8.34 -8.34M379.33 456.33l8.34 8.34M379.33 464.67l8.34 -8.34M431.33 458.33l8.34 8.34M431.33 466.67l8.34 -8.34M359.33 457.33l8.34 8.34M359.33 465.67l8.34 -8.34M355.33 457.33l8.34 8.34M355.33 465.67l8.34 -8.34M341.33 457.33l8.34 8.34M341.33 465.67l8.34 -8.34M351.33 457.33l8.34 8.34M351.33 465.67l8.34 -8.34M364.33 456.33l8.34 8.34M364.33 464.67l8.34 -8.34M361.33 458.33l8.34 8.34M361.33 466.67l8.34 -8.34M384.33 457.33l8.34 8.34M384.33 465.67l8.34 -8.34M331.33 457.33l8.34 8.34M331.33 465.67l8.34 -8.34M357.33 458.33l8.34 8.34M357.33 466.67l8.34 -8.34M390.33 457.33l8.34 8.34M390.33 465.67l8.34 -8.34M350.33 454.33l8.34 8.34M350.33 462.67l8.34 -8.34M341.33 457.33l8.34 8.34M341.33 465.67l8.34 -8.34M419.33 455.33l8.34 8.34M419.33 463.67l8.34 -8.34M420.33 457.33l8.34 8.34M420.33 465.67l8.34 -8.34M372.33 455.33l8.34 8.34M372.33 463.67l8.34 -8.34M437.33 456.33l8.34 8.34M437.33 464.67l8.34 -8.34M367.33 457.33l8.34 8.34M367.33 465.67l8.34 -8.34M399.33 455.33l8.34 8.34M399.33 463.67l8.34 -8.34M374.33 456.33l8.34 8.34M374.33 464.67l8.34 -8.34M344.33 457.33l8.34 8.34M344.33 465.67l8.34 -8.34M337.33 456.33l8.34 8.34M337.33 464.67l8.34 -8.34M347.33 456.33l8.34 8.34M347.33 464.67l8.34 -8.34M339.33 458.33l8.34 8.34M339.33 466.67l8.34 -8.34M403.33 455.33l8.34 8.34M403.33 463.67l8.34 -8.34M360.33 457.33l8.34 8.34M360.33 465.67l8.34 -8.34M380.33 457.33l8.34 8.34M380.33 465.67l8.34 -8.34M347.33 456.33l8.34 8.34M347.33 464.67l8.34 -8.34M434.33 457.33l8.34 8.34M434.33 465.67l8.34 -8.34M436.33 456.33l8.34 8.34M436.33 464.67l8.34 -8.34M435.33 456.33l8.34 8.34M435.33 464.67l8.34 -8.34M363.33 456.33l8.34 8.34M363.33 464.67l8.34 -8.34M371.33 457.33l8.34 8.34M371.33 465.67l8.34 -8.34M381.33 456.33l8.34 8.34M381.33 464.67l8.34 -8.34M385.33 456.33l8.34 8.34M385.33 464.67l8.34 -8.34M330.33 456.33l8.34 8.34M330.33 464.67l8.34 -8.34M373.33 457.33l8.34 8.34M373.33 465.67l8.34 -8.34M334.33 457.33l8.34 8.34M334.33 465.67l8.34 -8.34M355.33 457.33l8.34 8.34M355.33 465.67l8.34 -8.34M393.33 455.33l8.34 8.34M393.33 463.67l8.34 -8.34M401.33 456.33l8.34 8.34M401.33 464.67l8.34 -8.34M408.33 457.33l8.34 8.34M408.33 465.67l8.34 -8.34M365.33 456.33l8.34 8.34M365.33 464.67l8.34 -8.34M437.33 458.33l8.34 8.34M437.33 466.67l8.34 -8.34M400.33 458.33l8.34 8.34M400.33 466.67l8.34 -8.34M334.33 458.33l8.34 8.34M334.33 466.67l8.34 -8.34M398.33 455.33l8.34 8.34M398.33 463.67l8.34 -8.34M409.33 457.33l8.34 8.34M409.33 465.67l8.34 -8.34M387.33 456.33l8.34 8.34M387.33 464.67l8.34 -8.34M384.33 458.33l8.34 8.34M384.33 466.67l8.34 -8.34M420.33 455.33l8.34 8.34M420.33 463.67l8.34 -8.34M393.33 458.33l8.34 8.34M393.33 466.67l8.34 -8.34M405.33 455.33l8.34 8.34M405.33 463.67l8.34 -8.34M355.33 457.33l8.34 8.34M355.33 465.67l8.34 -8.34M369.33 457.33l8.34 8.34M369.33 465.67l8.34 -8.34M341.33 457.33l8.34 8.34M341.33 465.67l8.34 -8.34M398.33 455.33l8.34 8.34M398.33 463.67l8.34 -8.34M398.33 456.33l8.34 8.34M398.33 464.67l8.34 -8.34M330.33 455.33l8.34 8.34M330.33 463.67l8.34 -8.34M416.33 456.33l8.34 8.34M416.33 464.67l8.34 -8.34M388.33 455.33l8.34 8.34M388.33 463.67l8.34 -8.34M401.33 458.33l8.34 8.34M401.33 466.67l8.34 -8.34M357.33 457.33l8.34 8.34M357.33 465.67l8.34 -8.34M338.33 456.33l8.34 8.34M338.33 464.67l8.34 -8.34M352.33 458.33l8.34 8.34M352.33 466.67l8.34 -8.34M410.33 458.33l8.34 8.34M410.33 466.67l8.34 -8.34M371.33 456.33l8.34 8.34M371.33 464.67l8.34 -8.34M382.33 456.33l8.34 8.34M382.33 464.67l8.34 -8.34M397.33 455.33l8.34 8.34M397.33 463.67l8.34 -8.34M400.33 457.33l8.34 8.34M400.33 465.67l8.34 -8.34M357.33 457.33l8.34 8.34M357.33 465.67l8.34 -8.34M411.33 456.33l8.34 8.34M411.33 464.67l8.34 -8.34M331.33 458.33l8.34 8.34M331.33 466.67l8.34 -8.34M336.33 456.33l8.34 8.34M336.33 464.67l8.34 -8.34M405.33 458.33l8.34 8.34M405.33 466.67l8.34 -8.34M403.33 456.33l8.34 8.34M403.33 464.67l8.34 -8.34M380.33 458.33l8.34 8.34M380.33 466.67l8.34 -8.34M380.33 458.33l8.34 8.34M380.33 466.67l8.34 -8.34M351.33 458.33l8.34 8.34M351.33 466.67l8.34 -8.34M436.33 457.33l8.34 8.34M436.33 465.67l8.34 -8.34M380.33 456.33l8.34 8.34M380.33 464.67l8.34 -8.34M419.33 458.33l8.34 8.34M419.33 466.67l8.34 -8.34M359.33 456.33l8.34 8.34M359.33 464.67l8.34 -8.34M352.33 457.33l8.34 8.34M352.33 465.67l8.34 -8.34M393.33 456.33l8.34 8.34M393.33 464.67l8.34 -8.34M345.33 454.33l8.34 8.34M345.33 462.67l8.34 -8.34M344.33 456.33l8.34 8.34M344.33 464.67l8.34 -8.34M419.33 454.33l8.34 8.34M419.33 462.67l8.34 -8.34M406.33 456.33l8.34 8.34M406.33 464.67l8.34 -8.34M355.33 458.33l8.34 8.34M355.33 466.67l8.34 -8.34M332.33 456.33l8.34 8.34M332.33 464.67l8.34 -8.34M330.33 455.33l8.34 8.34M330.33 463.67l8.34 -8.34M362.33 457.33l8.34 8.34M362.33 465.67l8.34 -8.34M345.33 456.33l8.34 8.34M345.33 464.67l8.34 -8.34M421.33 457.33l8.34 8.34M421.33 465.67l8.34 -8.34M330.33 457.33l8.34 8.34M330.33 465.67l8.34 -8.34M343.33 454.33l8.34 8.34M343.33 462.67l8.34 -8.34M430.33 456.33l8.34 8.34M430.33 464.67l8.34 -8.34M361.33 454.33l8.34 8.34M361.33 462.67l8.34 -8.34M370.33 453.33l8.34 8.34M370.33 461.67l8.34 -8.34M394.33 459.33l8.34 8.34M394.33 467.67l8.34 -8.34M369.33 456.33l8.34 8.34M369.33 464.67l8.34 -8.34M335.33 457.33l8.34 8.34M335.33 465.67l8.34 -8.34M341.33 457.33l8.34 8.34M341.33 465.67l8.34 -8.34M431.33 456.33l8.34 8.34M431.33 464.67l8.34 -8.34M357.33 456.33l8.34 8.34M357.33 464.67l8.34 -8.34M350.33 458.33l8.34 8.34M350.33 466.67l8.34 -8.34M370.33 459.33l8.34 8.34M370.33 467.67l8.34 -8.34M418.33 456.33l8.34 8.34M418.33 464.67l8.34 -8.34M398.33 459.33l8.34 8.34M398.33 467.67l8.34 -8.34M389.33 455.33l8.34 8.34M389.33 463.67l8.34 -8.34M408.33 458.33l8.34 8.34M408.33 466.67l8.34 -8.34M379.33 457.33l8.34 8.34M379.33 465.67l8.34 -8.34M412.33 456.33l8.34 8.34M412.33 464.67l8.34 -8.34M335.33 456.33l8.34 8.34M335.33 464.67l8.34 -8.34M431.33 457.33l8.34 8.34M431.33 465.67l8.34 -8.34M367.33 457.33l8.34 8.34M367.33 465.67l8.34 -8.34M362.33 456.33l8.34 8.34M362.33 464.67l8.34 -8.34M358.33 453.33l8.34 8.34M358.33 461.67l8.34 -8.34M401.33 456.33l8.34 8.34M401.33 464.67l8.34 -8.34M372.33 458.33l8.34 8.34M372.33 466.67l8.34 -8.34M348.33 457.33l8.34 8.34M348.33 465.67l8.34 -8.34M428.33 457.33l8.34 8.34M428.33 465.67l8.34 -8.34M384.33 457.33l8.34 8.34M384.33 465.67l8.34 -8.34M438.33 459.33l8.34 8.34M438.33 467.67l8.34 -8.34M379.33 457.33l8.34 8.34M379.33 465.67l8.34 -8.34M339.33 457.33l8.34 8.34M339.33 465.67l8.34 -8.34M367.33 457.33l8.34 8.34M367.33 465.67l8.34 -8.34M358.33 457.33l8.34 8.34M358.33 465.67l8.34 -8.34M392.33 458.33l8.34 8.34M392.33 466.67l8.34 -8.34M374.33 455.33l8.34 8.34M374.33 463.67l8.34 -8.34M375.33 455.33l8.34 8.34M375.33 463.67l8.34 -8.34M366.33 456.33l8.34 8.34M366.33 464.67l8.34 -8.34M336.33 456.33l8.34 8.34M336.33 464.67l8.34 -8.34M343.33 459.33l8.34 8.34M343.33 467.67l8.34 -8.34M384.33 455.33l8.34 8.34M384.33 463.67l8.34 -8.34M353.33 455.33l8.34 8.34M353.33 463.67l8.34 -8.34M359.33 457.33l8.34 8.34M359.33 465.67l8.34 -8.34M378.33 458.33l8.34 8.34M378.33 466.67l8.34 -8.34M433.33 458.33l8.34 8.34M433.33 466.67l8.34 -8.34M332.33 455.33l8.34 8.34M332.33 463.67l8.34 -8.34M333.33 456.33l8.34 8.34M333.33 464.67l8.34 -8.34M381.33 454.33l8.34 8.34M381.33 462.67l8.34 -8.34M394.33 458.33l8.34 8.34M394.33 466.67l8.34 -8.34M431.33 457.33l8.34 8.34M431.33 465.67l8.34 -8.34M419.33 458.33l8.34 8.34M419.33 466.67l8.34 -8.34M357.33 454.33l8.34 8.34M357.33 462.67l8.34 -8.34M341.33 457.33l8.34 8.34M341.33 465.67l8.34 -8.34M404.33 458.33l8.34 8.34M404.33 466.67l8.34 -8.34M432.33 456.33l8.34 8.34M432.33 464.67l8.34 -8.34M413.33 455.33l8.34 8.34M413.33 463.67l8.34 -8.34M379.33 456.33l8.34 8.34M379.33 464.67l8.34 -8.34M415.33 456.33l8.34 8.34M415.33 464.67l8.34 -8.34M355.33 458.33l8.34 8.34M355.33 466.67l8.34 -8.34M363.33 456.33l8.34 8.34M363.33 464.67l8.34 -8.34M343.33 456.33l8.34 8.34M343.33 464.67l8.34 -8.34M406.33 458.33l8.34 8.34M406.33 466.67l8.34 -8.34M342.33 458.33l8.34 8.34M342.33 466.67l8.34 -8.34M393.33 457.33l8.34 8.34M393.33 465.67l8.34 -8.34M372.33 457.33l8.34 8.34M372.33 465.67l8.34 -8.34M331.33 458.33l8.34 8.34M331.33 466.67l8.34 -8.34M362.33 454.33l8.34 8.34M362.33 462.67l8.34 -8.34M400.33 457.33l8.34 8.34M400.33 465.67l8.34 -8.34M426.33 456.33l8.34 8.34M426.33 464.67l8.34 -8.34M356.33 457.33l8.34 8.34M356.33 465.67l8.34 -8.34M434.33 456.33l8.34 8.34M434.33 464.67l8.34 -8.34M332.33 456.33l8.34 8.34M332.33 464.67l8.34 -8.34M384.33 456.33l8.34 8.34M384.33 464.67l8.34 -8.34M358.33 455.33l8.34 8.34M358.33 463.67l8.34 -8.34M402.33 457.33l8.34 8.34M402.33 465.67l8.34 -8.34M333.33 456.33l8.34 8.34M333.33 464.67l8.34 -8.34M366.33 455.33l8.34 8.34M366.33 463.67l8.34 -8.34M351.33 457.33l8.34 8.34M351.33 465.67l8.34 -8.34M416.33 456.33l8.34 8.34M416.33 464.67l8.34 -8.34M352.33 455.33l8.34 8.34M352.33 463.67l8.34 -8.34M435.33 456.33l8.34 8.34M435.33 464.67l8.34 -8.34M355.33 458.33l8.34 8.34M355.33 466.67l8.34 -8.34M354.33 457.33l8.34 8.34M354.33 465.67l8.34 -8.34M433.33 456.33l8.34 8.34M433.33 464.67l8.34 -8.34M384.33 457.33l8.34 8.34M384.33 465.67l8.34 -8.34M375.33 457.33l8.34 8.34M375.33 465.67l8.34 -8.34M402.33 457.33l8.34 8.34M402.33 465.67l8.34 -8.34M372.33 456.33l8.34 8.34M372.33 464.67l8.34 -8.34M353.33 457.33l8.34 8.34M353.33 465.67l8.34 -8.34M335.33 456.33l8.34 8.34M335.33 464.67l8.34 -8.34M336.33 455.33l8.34 8.34M336.33 463.67l8.34 -8.34M426.33 458.33l8.34 8.34M426.33 466.67l8.34 -8.34M409.33 459.33l8.34 8.34M409.33 467.67l8.34 -8.34M365.33 456.33l8.34 8.34M365.33 464.67l8.34 -8.34M350.33 458.33l8.34 8.34M350.33 466.67l8.34 -8.34M333.33 456.33l8.34 8.34M333.33 464.67l8.34 -8.34M402.33 456.33l8.34 8.34M402.33 464.67l8.34 -8.34M366.33 457.33l8.34 8.34M366.33 465.67l8.34 -8.34M348.33 457.33l8.34 8.34M348.33 465.67l8.34 -8.34M368.33 457.33l8.34 8.34M368.33 465.67l8.34 -8.34M434.33 459.33l8.34 8.34M434.33 467.67l8.34 -8.34M352.33 458.33l8.34 8.34M352.33 466.67l8.34 -8.34M368.33 457.33l8.34 8.34M368.33 465.67l8.34 -8.34M377.33 455.33l8.34 8.34M377.33 463.67l8.34 -8.34M335.33 455.33l8.34 8.34M335.33 463.67l8.34 -8.34M430.33 457.33l8.34 8.34M430.33 465.67l8.34 -8.34M351.33 455.33l8.34 8.34M351.33 463.67l8.34 -8.34M333.33 458.33l8.34 8.34M333.33 466.67l8.34 -8.34M374.33 457.33l8.34 8.34M374.33 465.67l8.34 -8.34M334.33 455.33l8.34 8.34M334.33 463.67l8.34 -8.34M333.33 459.33l8.34 8.34M333.33 467.67l8.34 -8.34M358.33 457.33l8.34 8.34M358.33 465.67l8.34 -8.34M411.33 457.33l8.34 8.34M411.33 465.67l8.34 -8.34M359.33 456.33l8.34 8.34M359.33 464.67l8.34 -8.34M434.33 456.33l8.34 8.34M434.33 464.67l8.34 -8.34M408.33 456.33l8.34 8.34M408.33 464.67l8.34 -8.34M364.33 456.33l8.34 8.34M364.33 464.67l8.34 -8.34M412.33 457.33l8.34 8.34M412.33 465.67l8.34 -8.34M429.33 455.33l8.34 8.34M429.33 463.67l8.34 -8.34M332.33 455.33l8.34 8.34M332.33 463.67l8.34 -8.34M355.33 454.33l8.34 8.34M355.33 462.67l8.34 -8.34M433.33 457.33l8.34 8.34M433.33 465.67l8.34 -8.34M372.33 456.33l8.34 8.34M372.33 464.67l8.34 -8.34M383.33 458.33l8.34 8.34M383.33 466.67l8.34 -8.34M431.33 457.33l8.34 8.34M431.33 465.67l8.34 -8.34M410.33 458.33l8.34 8.34M410.33 466.67l8.34 -8.34M426.33 450.33l8.34 8.34M426.33 458.67l8.34 -8.34M434.33 450.33l8.34 8.34M434.33 458.67l8.34 -8.34M325.33 457.33l8.34 8.34M325.33 465.67l8.34 -8.34M328.33 457.33l8.34 8.34M328.33 465.67l8.34 -8.34M330.33 457.33l8.34 8.34M330.33 465.67l8.34 -8.34M333.33 457.33l8.34 8.34M333.33 465.67l8.34 -8.34M336.33 457.33l8.34 8.34M336.33 465.67l8.34 -8.34M338.33 458.33l8.34 8.34M338.33 466.67l8.34 -8.34M340.33 457.33l8.34 8.34M340.33 465.67l8.34 -8.34M343.33 457.33l8.34 8.34M343.33 465.67l8.34 -8.34M346.33 457.33l8.34 8.34M346.33 465.67l8.34 -8.34M348.33 458.33l8.34 8.34M348.33 466.67l8.34 -8.34M350.33 457.33l8.34 8.34M350.33 465.67l8.34 -8.34M353.33 457.33l8.34 8.34M353.33 465.67l8.34 -8.34M356.33 458.33l8.34 8.34M356.33 466.67l8.34 -8.34M358.33 457.33l8.34 8.34M358.33 465.67l8.34 -8.34M360.33 457.33l8.34 8.34M360.33 465.67l8.34 -8.34M373.33 458.33l8.34 8.34M373.33 466.67l8.34 -8.34M387.33 457.33l8.34 8.34M387.33 465.67l8.34 -8.34M390.33 457.33l8.34 8.34M390.33 465.67l8.34 -8.34M392.33 458.33l8.34 8.34M392.33 466.67l8.34 -8.34M394.33 457.33l8.34 8.34M394.33 465.67l8.34 -8.34M397.33 457.33l8.34 8.34M397.33 465.67l8.34 -8.34M400.33 457.33l8.34 8.34M400.33 465.67l8.34 -8.34M402.33 457.33l8.34 8.34M402.33 465.67l8.34 -8.34M404.33 457.33l8.34 8.34M404.33 465.67l8.34 -8.34M394.33 460.33l8.34 8.34M394.33 468.67l8.34 -8.34M396.33 460.33l8.34 8.34M396.33 468.67l8.34 -8.34M412.33 254.33l8.34 8.34M412.33 262.67l8.34 -8.34" stroke="#0000ff" stroke-width="0.8" fill="none"/>
<g fill="#000" stroke="#000" stroke-width="0.69"><circle cx="332.5" cy="461.5" r="4.17"/><circle cx="334.5" cy="461.5" r="4.17"/><circle cx="337.5" cy="461.5" r="4.17"/><circle cx="340.5" cy="461.5" r="4.17"/><circle cx="342.5" cy="462.5" r="4.17"/><circle cx="344.5" cy="461.5" r="4.17"/><circle cx="347.5" cy="461.5" r="4.17"/><circle cx="350.5" cy="461.5" r="4.17"/><circle cx="352.5" cy="462.5" r="4.17"/><circle cx="354.5" cy="461.5" r="4.17"/><circle cx="357.5" cy="461.5" r="4.17"/><circle cx="360.5" cy="462.5" r="4.17"/><circle cx="362.5" cy="461.5" r="4.17"/><circle cx="364.5" cy="461.5" r="4.17"/><circle cx="377.5" cy="462.5" r="4.17"/><circle cx="391.5" cy="461.5" r="4.17"/><circle cx="394.5" cy="461.5" r="4.17"/><circle cx="396.5" cy="462.5" r="4.17"/><circle cx="398.5" cy="461.5" r="4.17"/><circle cx="401.5" cy="461.5" r="4.17"/><circle cx="404.5" cy="461.5" r="4.17"/><circle cx="406.5" cy="461.5" r="4.17"/><circle cx="408.5" cy="461.5" r="4.17"/><circle cx="398.5" cy="464.5" r="4.17"/><circle cx="400.5" cy="464.5" r="4.17"/></g>
<path d="M100.5 462.5h620" stroke="#0000ff" stroke-width="1.39" stroke-dasharray="8.33 8.33" fill="none"/>
</g>
<rect x="100.5" y="60.5" width="620" height="480" fill="none" stroke="#000" stroke-width="1.39"/>
<path d="M100.5 540.5v-5.56M183.5 540.5v-5.56M265.5 540.5v-5.56M348.5 540.5v-5.56M431.5 540.5v-5.56M513.5 540.5v-5.56M596.5 540.5v-5.56M679.5 540.5v-5.56M100.5 540.5h5.56M720.5 540.5h-5.56M100.5 420.5h5.56M720.5 420.5h-5.56M100.5 300.5h5.56M720.5 300.5h-5.56M100.5 180.5h5.56M720.5 180.5h-5.56M100.5 60.5h5.56M720.5 60.5h-5.56M137.5 60.5v5.56M219.5 60.5v5.56M302.5 60.5v5.56M385.5 60.5v5.56M467.5 60.5v5.56M550.5 60.5v5.56M633.5 60.5v5.56M715.5 60.5v5.56" stroke="#000" stroke-width="0.69" fill="none"/>
<g font-size="16.667" text-anchor="middle"><g transform="translate(0 559.7) scale(1 1.07) translate(0 -559.7)"><text x="100.5" y="559.7">−20</text><text x="183.17" y="559.7">−18</text><text x="265.83" y="559.7">−16</text><text x="348.5" y="559.7">−14</text><text x="431.17" y="559.7">−12</text><text x="513.84" y="559.7">−10</text><text x="596.5" y="559.7">−8</text><text x="679.17" y="559.7">−6</text></g><g transform="translate(0 49.9) scale(1 1.07) translate(0 -49.9)"><text x="137.5" y="49.9">14</text><text x="219.5" y="49.9">16</text><text x="302.5" y="49.9">18</text><text x="385.5" y="49.9">20</text><text x="467.5" y="49.9">22</text><text x="550.5" y="49.9">24</text><text x="633.5" y="49.9">26</text><text x="715.5" y="49.9">28</text></g></g>
<g font-size="16.667" text-anchor="end"><text x="0" y="0" transform="translate(96.2 544.6) scale(1 1.07)">0</text><text x="0" y="0" transform="translate(96.2 424.6) scale(1 1.07)">5</text><text x="0" y="0" transform="translate(96.2 304.6) scale(1 1.07)">10</text><text x="0" y="0" transform="translate(96.2 184.6) scale(1 1.07)">15</text><text x="0" y="0" transform="translate(96.2 64.6) scale(1 1.07)">20</text></g>
<text x="0" y="0" font-size="16.667" text-anchor="middle" transform="translate(410.9 583.9) scale(1 1.07)">magnitude (bottom:isnt / top:calib)</text>
<text x="0" y="0" font-size="16.667" text-anchor="middle" transform="translate(64.2 299.8) rotate(-90) scale(1 1.07)">FWHM (pix)</text>
<text x="411" y="29" font-size="20" text-anchor="middle">FWHM vs magnitudes</text>
<rect x="398.5" y="70.5" width="312" height="122" fill="#fff" stroke="#000" stroke-width="1.39"/>
<path d="M408.33 86.5h8.34M412.5 82.33v8.34M436.33 86.5h8.34M440.5 82.33v8.34" stroke="#00bfbf" stroke-width="0.69"/>
<path d="M408.33 111.33l8.34 8.34M408.33 119.67l8.34 -8.34M436.33 111.33l8.34 8.34M436.33 119.67l8.34 -8.34" stroke="#0000ff" stroke-width="0.8"/>
<circle cx="412.5" cy="144.5" r="4.17" fill="#000" stroke="#000" stroke-width="0.69"/>
<circle cx="440.5" cy="144.5" r="4.17" fill="#000" stroke="#000" stroke-width="0.69"/>
<path d="M412.5 173.5h8.33m8.33 0h8.33" stroke="#0000ff" stroke-width="1.39"/>
<g font-size="20"><text x="461.6" y="93" textLength="103.45">all sample</text><text x="461.3" y="122" textLength="243.4">sample for rough FWHM</text><text x="461.3" y="151" textLength="231.1">coarse PSF-like sample</text><text x="462.3" y="180" textLength="160.4">tentative FWHM</text></g>
</svg>
</body></html>
